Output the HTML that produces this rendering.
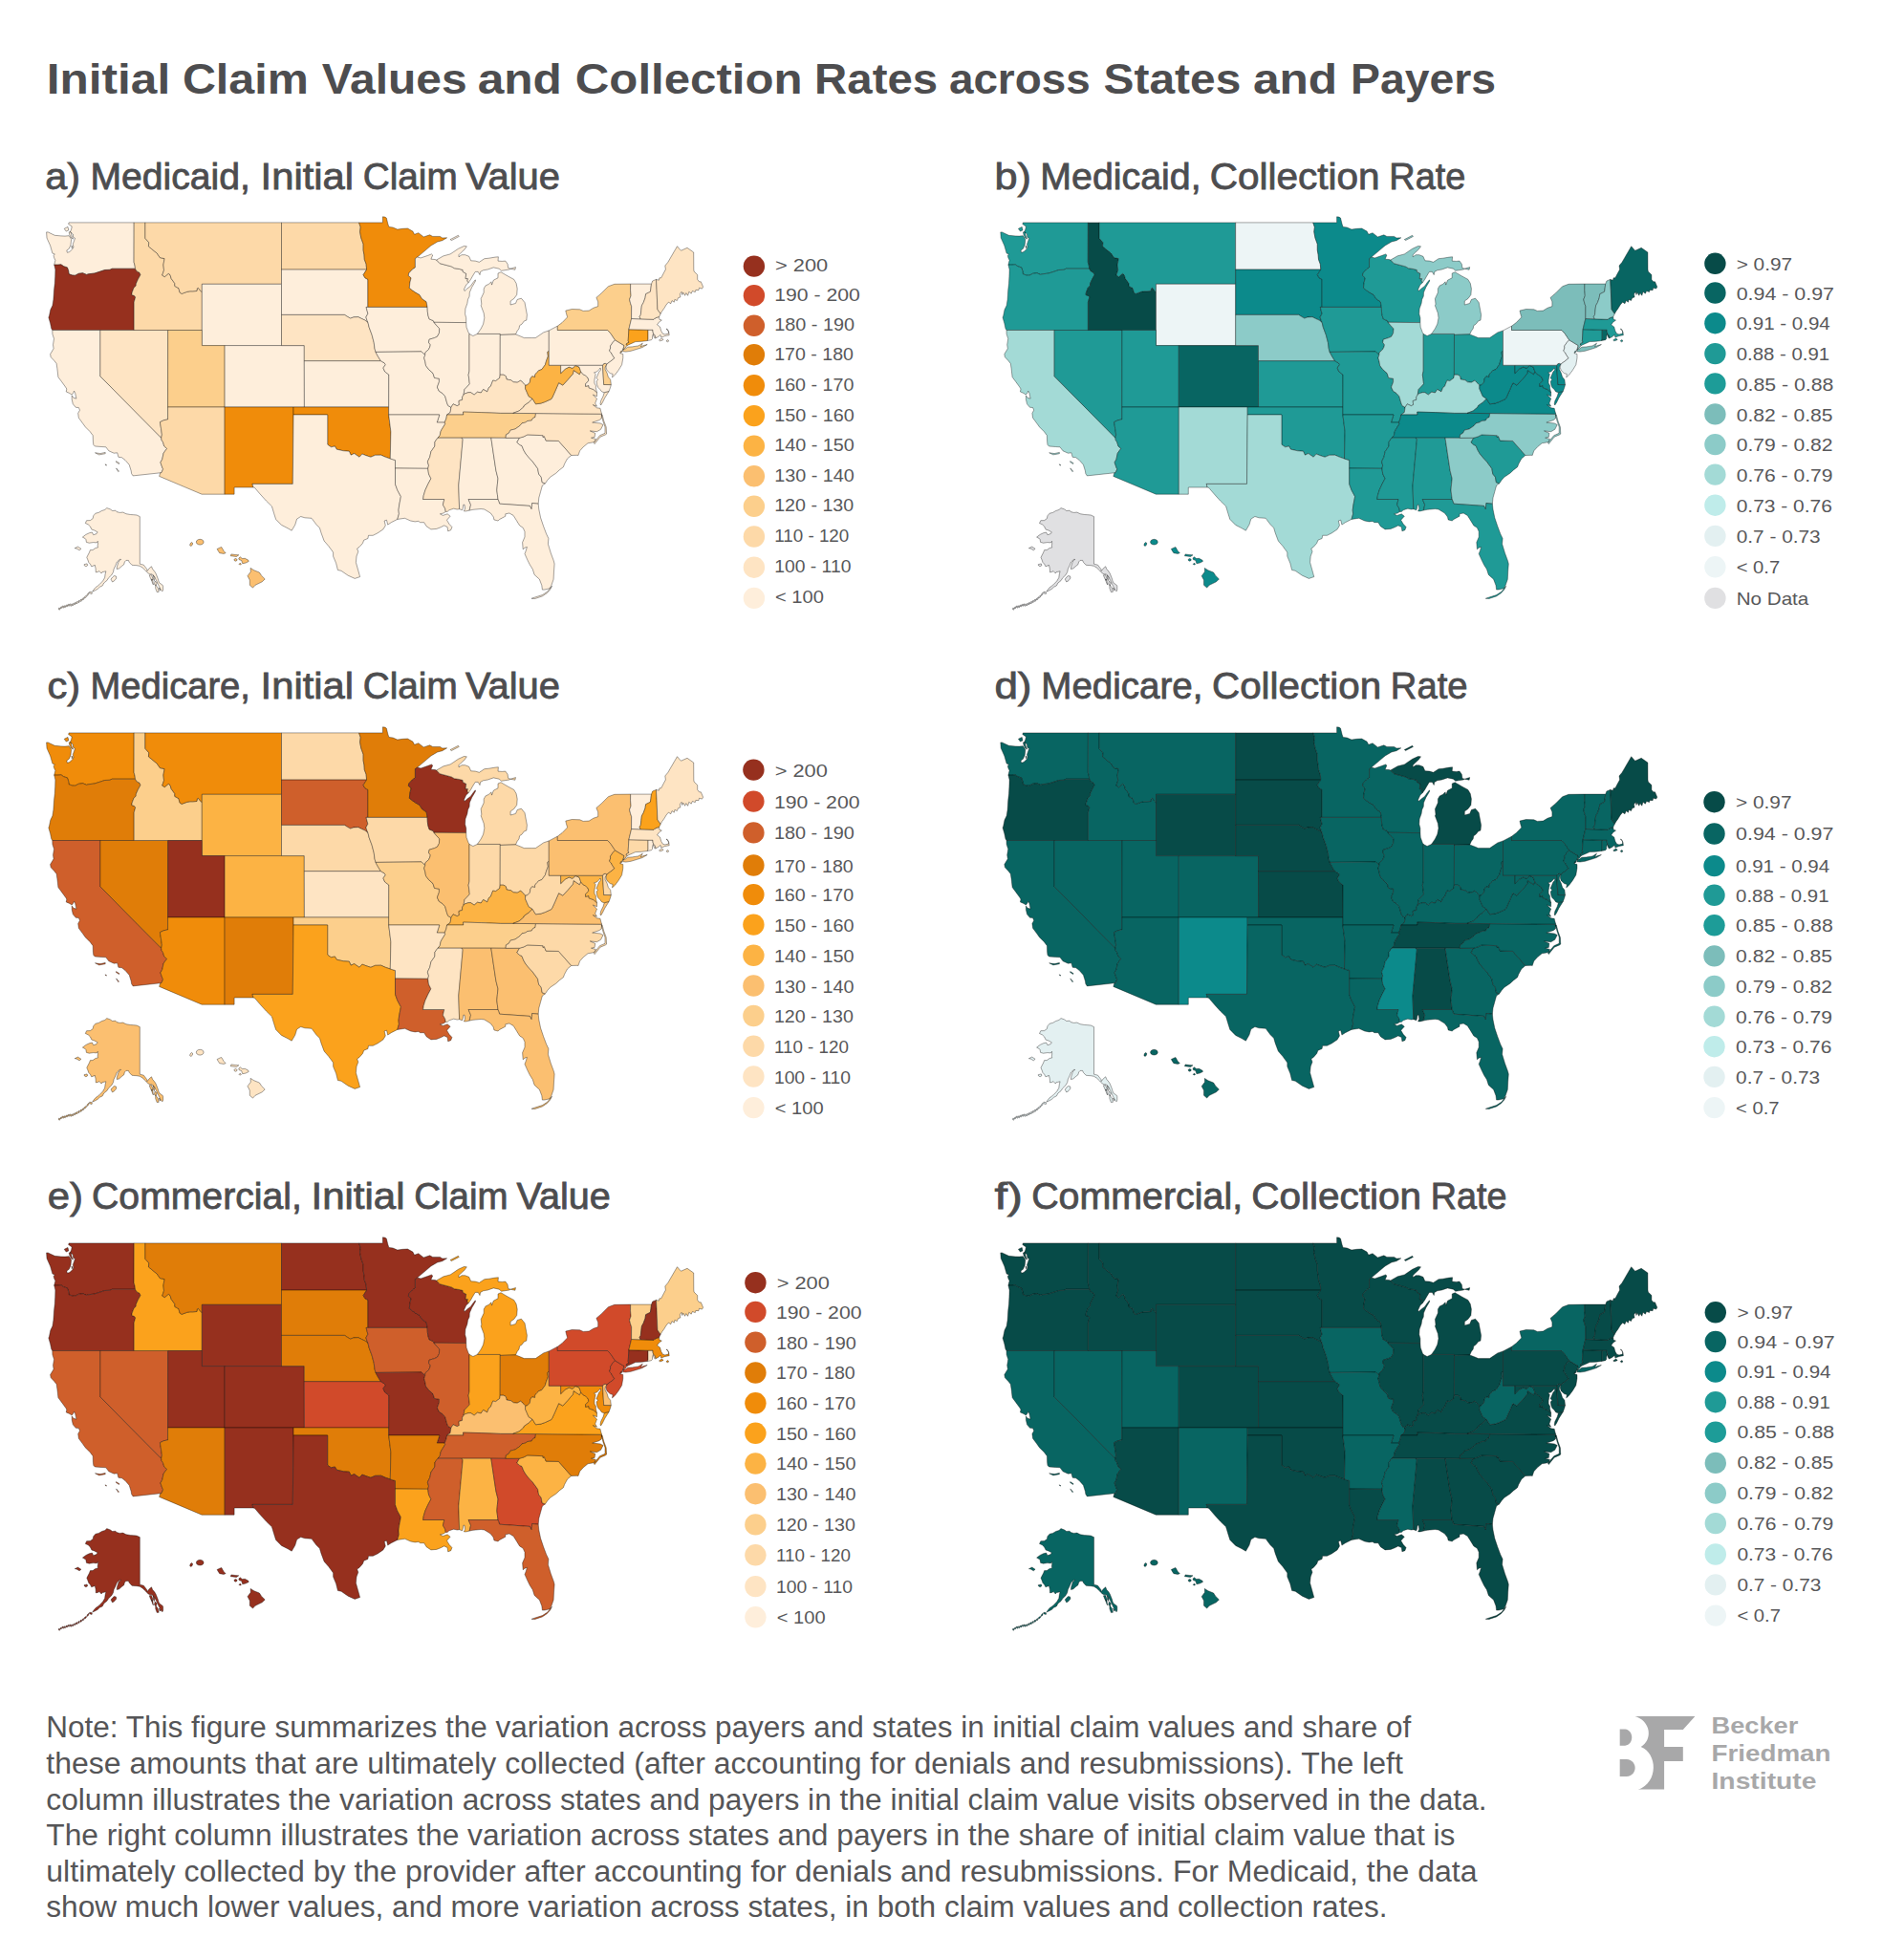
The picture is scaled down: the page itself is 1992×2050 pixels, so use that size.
<!DOCTYPE html>
<html lang="en"><head><meta charset="utf-8"><title>Initial Claim Values and Collection Rates across States and Payers</title>
<style>html,body{margin:0;padding:0;background:#fff}svg{display:block}</style></head>
<body>
<svg width="1992" height="2050" viewBox="0 0 1992 2050" font-family="'Liberation Sans', sans-serif">
<rect width="1992" height="2050" fill="#ffffff"/>
<text y="98" font-size="44.7" font-weight="bold" fill="#4d4d4f"><tspan x="48.8" textLength="129.4" lengthAdjust="spacingAndGlyphs">Initial</tspan> <tspan x="190.9" textLength="131.9" lengthAdjust="spacingAndGlyphs">Claim</tspan> <tspan x="336.7" textLength="152.0" lengthAdjust="spacingAndGlyphs">Values</tspan> <tspan x="499.7" textLength="88.2" lengthAdjust="spacingAndGlyphs">and</tspan> <tspan x="601.8" textLength="237.8" lengthAdjust="spacingAndGlyphs">Collection</tspan> <tspan x="852.1" textLength="129.0" lengthAdjust="spacingAndGlyphs">Rates</tspan> <tspan x="992.9" textLength="147.8" lengthAdjust="spacingAndGlyphs">across</tspan> <tspan x="1154.6" textLength="143.7" lengthAdjust="spacingAndGlyphs">States</tspan> <tspan x="1310.9" textLength="88.2" lengthAdjust="spacingAndGlyphs">and</tspan> <tspan x="1413.0" textLength="152.1" lengthAdjust="spacingAndGlyphs">Payers</tspan></text>
<text y="197.6" font-size="38.2" fill="#4d4d4f" stroke="#4d4d4f" stroke-width="0.8"><tspan x="47.3" textLength="36.8" lengthAdjust="spacingAndGlyphs">a)</tspan> <tspan x="94.5" textLength="167.4" lengthAdjust="spacingAndGlyphs">Medicaid,</tspan> <tspan x="272.6" textLength="97.4" lengthAdjust="spacingAndGlyphs">Initial</tspan> <tspan x="379.8" textLength="98.9" lengthAdjust="spacingAndGlyphs">Claim</tspan> <tspan x="486.9" textLength="99.0" lengthAdjust="spacingAndGlyphs">Value</tspan></text>
<text y="197.6" font-size="38.2" fill="#4d4d4f" stroke="#4d4d4f" stroke-width="0.8"><tspan x="1040.4" textLength="38.4" lengthAdjust="spacingAndGlyphs">b)</tspan> <tspan x="1088.3" textLength="168.3" lengthAdjust="spacingAndGlyphs">Medicaid,</tspan> <tspan x="1265.7" textLength="177.8" lengthAdjust="spacingAndGlyphs">Collection</tspan> <tspan x="1453.3" textLength="80.0" lengthAdjust="spacingAndGlyphs">Rate</tspan></text>
<text y="731.4" font-size="38.2" fill="#4d4d4f" stroke="#4d4d4f" stroke-width="0.8"><tspan x="49.5" textLength="34.6" lengthAdjust="spacingAndGlyphs">c)</tspan> <tspan x="94.5" textLength="167.4" lengthAdjust="spacingAndGlyphs">Medicare,</tspan> <tspan x="272.6" textLength="97.4" lengthAdjust="spacingAndGlyphs">Initial</tspan> <tspan x="379.8" textLength="98.9" lengthAdjust="spacingAndGlyphs">Claim</tspan> <tspan x="486.9" textLength="99.0" lengthAdjust="spacingAndGlyphs">Value</tspan></text>
<text y="731.4" font-size="38.2" fill="#4d4d4f" stroke="#4d4d4f" stroke-width="0.8"><tspan x="1040.4" textLength="39.1" lengthAdjust="spacingAndGlyphs">d)</tspan> <tspan x="1089.3" textLength="169.2" lengthAdjust="spacingAndGlyphs">Medicare,</tspan> <tspan x="1268.0" textLength="177.1" lengthAdjust="spacingAndGlyphs">Collection</tspan> <tspan x="1454.8" textLength="80.7" lengthAdjust="spacingAndGlyphs">Rate</tspan></text>
<text y="1265.2" font-size="38.2" fill="#4d4d4f" stroke="#4d4d4f" stroke-width="0.8"><tspan x="49.8" textLength="37.2" lengthAdjust="spacingAndGlyphs">e)</tspan> <tspan x="96.1" textLength="219.7" lengthAdjust="spacingAndGlyphs">Commercial,</tspan> <tspan x="325.5" textLength="98.0" lengthAdjust="spacingAndGlyphs">Initial</tspan> <tspan x="433.3" textLength="98.3" lengthAdjust="spacingAndGlyphs">Claim</tspan> <tspan x="540.5" textLength="98.3" lengthAdjust="spacingAndGlyphs">Value</tspan></text>
<text y="1265.2" font-size="38.2" fill="#4d4d4f" stroke="#4d4d4f" stroke-width="0.8"><tspan x="1040.4" textLength="29.6" lengthAdjust="spacingAndGlyphs">f)</tspan> <tspan x="1079.2" textLength="220.9" lengthAdjust="spacingAndGlyphs">Commercial,</tspan> <tspan x="1309.2" textLength="177.8" lengthAdjust="spacingAndGlyphs">Collection</tspan> <tspan x="1496.8" textLength="79.7" lengthAdjust="spacingAndGlyphs">Rate</tspan></text>
<g transform="translate(0,0)" stroke="#000" stroke-opacity="0.75" stroke-width="0.48" stroke-linejoin="round">
<path d="M72.1,232.9L140.2,232.9L140.1,274.3L141.1,278.0L141.5,281.2L117.0,281.2L115.0,282.3L109.6,282.5L104.9,284.1L98.9,286.0L92.4,286.8L90.6,287.4L86.5,285.7L82.3,286.3L78.7,288.2L75.8,288.1L72.1,286.8L71.6,283.3L70.4,279.9L66.8,278.8L63.9,276.8L60.9,277.1L56.7,277.1L57.9,272.3L56.7,269.9L56.1,267.5L57.3,265.9L54.9,265.1L52.6,257.0L49.7,250.6L49.0,249.0L48.6,242.9L50.2,242.9L57.3,246.3L63.9,246.9L68.0,247.1L72.2,246.7L74.6,250.3L74.0,256.2L72.2,260.3L69.8,261.9L70.4,264.3L72.8,263.5L75.8,260.7L76.9,258.6L76.3,255.4L78.5,249.3L76.6,248.2L76.3,245.0L73.4,242.6L74.6,240.1L75.2,236.9L71.6,234.5ZM72.2,242.9L74.0,242.6L75.2,247.4L76.6,250.1L74.6,249.0L72.8,245.8ZM67.2,239.3L71.0,237.4L71.8,240.9L69.2,242.1ZM74.9,257.0L76.0,258.3L75.2,259.8Z" fill="#feeedb"/>
<path d="M56.7,277.1L60.9,277.1L63.9,276.8L66.8,278.8L70.4,279.9L71.6,283.3L72.1,286.8L75.8,288.1L78.7,288.2L82.3,286.3L86.5,285.7L90.6,287.4L92.4,286.8L98.9,286.0L104.9,284.1L109.6,282.5L115.0,282.3L117.0,281.2L141.5,281.2L143.2,283.9L145.9,285.2L147.0,287.6L144.5,292.1L142.3,296.9L142.3,298.9L140.0,301.3L138.2,306.1L137.8,308.5L140.6,309.6L141.7,310.9L140.2,316.1L140.2,345.5L104.9,345.5L54.8,345.5L53.8,343.9L52.6,338.3L50.8,332.0L51.4,331.0L52.8,324.1L54.9,319.8L55.9,313.4L56.5,303.7L57.3,296.5L57.7,289.2L57.9,282.0Z" fill="#96301e"/>
<path d="M54.8,345.5L104.9,345.5L104.9,393.8L168.7,458.2L169.1,460.6L170.5,462.7L171.8,467.0L174.6,469.4L172.8,471.8L171.1,474.2L169.7,480.7L167.9,483.9L170.0,489.9L170.6,490.8L168.9,494.7L167.7,494.8L139.1,497.9L137.6,495.6L137.2,492.8L135.2,486.3L131.0,481.5L127.5,478.8L123.9,478.3L122.7,473.8L119.2,474.2L113.8,471.8L110.8,467.8L106.1,467.5L99.3,467.0L97.8,465.4L97.4,462.2L97.2,455.7L94.2,451.7L89.4,446.9L85.9,442.1L82.3,437.2L81.7,432.4L83.5,429.2L82.3,426.5L79.3,426.3L76.3,422.8L75.2,417.9L75.2,413.9L76.9,416.3L79.9,417.1L78.7,411.5L77.5,409.1L76.9,410.7L75.2,413.1L72.8,411.5L69.2,409.9L69.8,407.0L68.6,405.1L64.5,399.4L60.9,394.6L59.9,385.8L59.1,380.4L56.7,377.4L53.2,373.7L52.6,370.6L56.1,364.8L55.5,360.8L56.5,354.4L54.9,349.6ZM99.5,473.8L104.9,474.6L110.2,473.4L110.2,474.7L103.7,475.9ZM121.5,482.6L124.9,484.7L124.5,485.5L121.5,483.6ZM121.5,489.9L124.5,493.2L123.7,493.6ZM110.0,485.8L111.7,486.8L110.8,487.1Z" fill="#feeedb"/>
<path d="M104.9,345.5L140.2,345.5L175.7,345.5L175.6,426.0L175.6,438.9L171.5,439.7L167.4,441.7L168.5,448.5L169.4,454.9L168.7,458.2L104.9,393.8Z" fill="#fee4c3"/>
<path d="M140.2,232.9L151.9,232.9L151.9,249.3L155.8,253.8L155.4,257.8L158.4,260.3L164.3,265.1L167.3,269.6L172.1,270.6L170.9,277.1L171.5,282.8L169.7,288.1L172.3,289.7L176.2,286.3L178.0,287.6L179.2,291.6L182.8,296.5L182.8,299.4L186.9,301.6L188.1,306.1L190.1,307.4L195.8,305.3L198.8,304.8L201.8,304.8L205.9,304.5L206.3,301.8L207.4,301.3L209.5,304.0L211.3,305.8L211.3,345.5L175.7,345.5L140.2,345.5L140.2,316.1L141.7,310.9L140.6,309.6L137.8,308.5L138.2,306.1L140.0,301.3L142.3,298.9L142.3,296.9L144.5,292.1L147.0,287.6L145.9,285.2L143.2,283.9L141.5,281.2L141.1,278.0L140.1,274.3Z" fill="#fdd9a8"/>
<path d="M151.9,232.9L294.5,232.9L294.5,282.1L294.5,297.3L211.3,297.3L211.3,305.8L209.5,304.0L207.4,301.3L206.3,301.8L205.9,304.5L201.8,304.8L198.8,304.8L195.8,305.3L190.1,307.4L188.1,306.1L186.9,301.6L182.8,299.4L182.8,296.5L179.2,291.6L178.0,287.6L176.2,286.3L172.3,289.7L169.7,288.1L171.5,282.8L170.9,277.1L172.1,270.6L167.3,269.6L164.3,265.1L158.4,260.3L155.4,257.8L155.8,253.8L151.9,249.3Z" fill="#fdd9a8"/>
<path d="M211.3,305.8L211.3,297.3L294.5,297.3L294.5,329.4L294.5,361.6L235.1,361.6L211.3,361.6L211.3,345.5Z" fill="#feeedb"/>
<path d="M175.7,345.5L211.3,345.5L211.3,361.6L235.1,361.6L235.1,426.0L175.6,426.0Z" fill="#fccf8c"/>
<path d="M175.6,426.0L235.1,426.0L235.1,517.2L211.1,517.2L166.6,498.4L167.7,494.8L168.9,494.7L170.6,490.8L170.0,489.9L167.9,483.9L169.7,480.7L171.1,474.2L172.8,471.8L174.6,469.4L171.8,467.0L170.5,462.7L169.1,460.6L168.7,458.2L169.4,454.9L168.5,448.5L167.4,441.7L171.5,439.7L175.6,438.9Z" fill="#fdd9a8"/>
<path d="M235.1,361.6L294.5,361.6L318.3,361.6L318.3,377.7L318.4,426.0L307.0,426.0L235.1,426.0Z" fill="#feeedb"/>
<path d="M235.1,426.0L307.0,426.0L307.0,434.0L306.3,506.4L264.0,506.4L265.0,510.0L245.1,510.0L245.1,517.2L235.1,517.2Z" fill="#f08c0a"/>
<path d="M294.5,232.9L375.6,232.9L377.2,237.7L376.6,242.6L377.8,249.0L380.1,255.4L380.1,261.9L381.0,266.7L381.3,271.5L383.1,276.3L383.6,282.1L294.5,282.1Z" fill="#fdd9a8"/>
<path d="M294.5,282.1L383.6,282.1L380.1,287.6L381.9,290.8L384.9,292.4L384.9,321.4L383.1,321.4L383.9,324.6L384.9,328.2L382.9,331.9L383.9,335.1L385.0,337.6L381.9,335.1L378.4,333.5L374.8,331.7L370.0,331.9L366.5,333.1L362.9,331.0L360.5,329.4L294.5,329.4L294.5,297.3Z" fill="#feeedb"/>
<path d="M294.5,329.4L360.5,329.4L362.9,331.0L366.5,333.1L370.0,331.9L374.8,331.7L378.4,333.5L381.9,335.1L385.0,337.6L386.1,342.3L389.1,350.4L391.2,358.4L392.0,364.8L393.0,368.4L395.6,373.2L398.4,377.7L318.3,377.7L318.3,361.6L294.5,361.6Z" fill="#fee4c3"/>
<path d="M318.3,377.7L398.4,377.7L402.1,379.8L403.3,381.7L400.9,385.0L402.7,389.0L406.8,392.0L406.7,426.0L318.4,426.0Z" fill="#feeedb"/>
<path d="M318.4,426.0L406.7,426.0L406.7,434.0L408.9,451.7L408.3,480.0L403.3,478.3L398.6,476.2L392.6,476.3L387.9,478.3L383.1,476.7L378.9,475.1L376.0,478.3L370.6,474.6L367.1,476.2L365.3,472.2L359.3,471.8L352.2,470.2L350.4,467.0L346.3,467.8L342.7,465.2L342.7,434.0L307.0,434.0L307.0,426.0Z" fill="#f08c0a"/>
<path d="M307.0,434.0L342.7,434.0L342.7,465.2L346.3,467.8L350.4,467.0L352.2,470.2L359.3,471.8L365.3,472.2L367.1,476.2L370.6,474.6L376.0,478.3L378.9,475.1L383.1,476.7L387.9,478.3L392.6,476.3L398.6,476.2L403.3,478.3L408.3,480.0L413.5,481.5L413.5,490.0L413.5,506.6L415.8,512.9L419.4,519.6L417.6,529.0L417.0,533.8L417.4,537.8L415.8,543.4L409.3,546.7L405.7,549.1L404.5,544.2L402.1,545.0L403.3,549.9L400.9,553.9L395.0,557.9L390.2,560.3L385.5,560.3L384.9,563.5L380.7,565.2L379.5,568.4L376.0,572.4L373.6,574.0L374.8,577.2L373.0,582.1L372.4,588.5L374.2,594.9L376.0,601.4L376.6,603.6L371.2,605.4L364.1,602.2L357.0,597.3L353.4,596.5L351.6,589.3L348.6,582.1L348.6,578.0L343.9,571.6L339.1,566.0L336.1,557.9L334.4,552.3L330.8,548.7L326.0,542.3L318.9,541.8L314.7,540.5L310.6,543.1L308.8,549.1L305.2,555.2L301.1,552.8L294.5,549.4L288.6,543.4L286.8,537.8L284.4,529.8L278.5,524.1L271.3,516.1L266.6,510.5L265.0,510.0L264.0,506.4L306.3,506.4Z" fill="#feeedb"/>
<path d="M375.6,232.9L400.4,232.9L400.4,226.8L402.7,227.1L404.3,228.1L405.9,234.5L406.9,237.4L411.1,238.0L415.8,240.1L421.2,239.3L426.5,239.0L431.9,242.1L433.6,245.3L437.8,243.7L443.2,247.9L449.7,245.8L452.7,247.4L460.4,247.4L462.8,249.0L467.6,248.8L462.8,251.7L457.7,253.0L450.9,257.0L446.1,261.1L441.4,265.1L436.6,269.1L434.4,270.6L434.4,279.9L431.3,282.0L427.7,286.0L427.3,288.4L430.1,290.8L428.9,295.7L428.3,301.3L431.3,303.7L434.8,306.1L439.0,308.5L441.4,312.5L446.1,315.8L446.7,319.0L447.1,321.4L384.9,321.4L384.9,292.4L381.9,290.8L380.1,287.6L383.6,282.1L383.1,276.3L381.3,271.5L381.0,266.7L380.1,261.9L380.1,255.4L377.8,249.0L376.6,242.6L377.2,237.7Z" fill="#f08c0a"/>
<path d="M384.9,321.4L447.1,321.4L447.3,326.2L447.9,330.2L449.1,333.9L453.3,335.6L454.0,337.3L456.8,340.7L459.8,343.9L459.4,348.7L457.4,352.3L454.5,353.6L449.1,355.2L448.5,358.4L450.3,360.8L449.7,363.2L448.5,365.6L444.9,368.9L444.7,371.6L441.0,367.9L393.0,368.4L392.0,364.8L391.2,358.4L389.1,350.4L386.1,342.3L385.0,337.6L383.9,335.1L382.9,331.9L384.9,328.2L383.9,324.6L383.1,321.4Z" fill="#feeedb"/>
<path d="M393.0,368.4L441.0,367.9L444.7,371.6L443.7,374.5L444.9,378.8L445.5,382.5L448.5,386.6L453.0,390.6L454.5,395.4L459.4,396.2L459.4,399.8L457.4,405.1L459.2,409.1L462.8,411.5L465.7,414.7L467.5,421.2L468.7,424.4L471.9,426.3L471.1,431.6L467.6,434.0L466.9,438.0L465.2,442.1L457.2,442.1L459.8,434.0L406.7,434.0L406.7,426.0L406.8,392.0L402.7,389.0L400.9,385.0L403.3,381.7L402.1,379.8L398.4,377.7L395.6,373.2Z" fill="#feeedb"/>
<path d="M406.7,434.0L459.8,434.0L457.2,442.1L465.2,442.1L465.7,443.7L462.2,449.3L461.0,451.7L460.2,455.7L458.0,458.2L455.0,462.2L454.8,467.0L450.9,472.6L449.7,478.3L447.3,483.1L448.5,487.1L447.7,490.3L413.5,490.0L413.5,481.5L408.3,480.0L408.9,451.7Z" fill="#feeedb"/>
<path d="M413.5,490.0L447.7,490.3L448.5,496.0L450.9,500.8L447.9,506.4L444.9,512.9L443.2,518.5L442.6,522.5L464.8,522.5L463.4,528.2L465.7,532.2L466.3,535.4L464.0,537.0L460.4,537.8L463.4,539.4L468.1,537.8L471.1,540.2L467.5,544.2L469.9,548.3L472.9,551.5L471.7,554.7L468.7,555.8L468.1,551.5L464.6,549.9L461.6,551.5L461.0,551.8L456.8,553.4L450.9,553.9L446.1,550.7L443.7,546.7L439.6,546.7L437.8,545.4L434.2,545.9L429.5,545.0L423.5,542.3L415.8,543.4L417.4,537.8L417.0,533.8L417.6,529.0L419.4,519.6L415.8,512.9L413.5,506.6Z" fill="#feeedb"/>
<path d="M436.6,269.1L440.2,269.9L447.3,267.5L451.5,265.9L452.7,267.0L450.9,271.2L455.0,271.5L456.6,272.0L460.2,275.7L472.3,278.9L475.3,280.7L480.6,281.5L484.2,282.5L484.2,284.4L487.7,286.3L487.1,291.6L489.5,291.6L488.9,294.0L490.1,295.7L487.7,298.1L485.4,302.9L486.0,304.5L488.3,302.4L492.5,299.2L494.9,295.7L497.3,292.8L497.5,294.0L496.1,296.5L493.7,300.5L491.3,306.1L491.1,310.1L489.5,313.4L488.9,317.4L486.9,323.0L486.6,328.6L487.7,332.7L487.7,337.6L454.0,337.3L453.3,335.6L449.1,333.9L447.9,330.2L447.3,326.2L447.1,321.4L446.7,319.0L446.1,315.8L441.4,312.5L439.0,308.5L434.8,306.1L431.3,303.7L428.3,301.3L428.9,295.7L430.1,290.8L427.3,288.4L427.7,286.0L431.3,282.0L434.4,279.9L434.4,270.6Z" fill="#feeedb"/>
<path d="M454.0,337.3L487.7,337.6L488.0,342.3L490.1,347.9L491.0,349.4L491.0,388.2L490.1,392.2L490.7,396.2L491.3,401.8L488.3,405.1L486.0,407.5L485.0,413.1L483.6,415.5L483.6,418.4L480.0,419.5L480.4,423.6L478.2,424.7L474.1,422.8L471.9,426.3L468.7,424.4L467.5,421.2L465.7,414.7L462.8,411.5L459.2,409.1L457.4,405.1L459.4,399.8L459.4,396.2L454.5,395.4L453.0,390.6L448.5,386.6L445.5,382.5L444.9,378.8L443.7,374.5L444.7,371.6L444.9,368.9L448.5,365.6L449.7,363.2L450.3,360.8L448.5,358.4L449.1,355.2L454.5,353.6L457.4,352.3L459.4,348.7L459.8,343.9L456.8,340.7Z" fill="#feeedb"/>
<path d="M491.0,349.4L494.9,351.5L499.4,349.4L523.3,349.4L523.3,350.4L523.2,392.2L522.8,395.4L518.7,398.6L515.7,398.1L513.3,404.3L511.5,405.5L509.7,409.9L505.6,407.5L503.2,411.0L499.6,410.2L496.1,413.1L492.5,410.7L490.1,410.7L486.6,411.8L485.0,413.1L486.0,407.5L488.3,405.1L491.3,401.8L490.7,396.2L490.1,392.2L491.0,388.2Z" fill="#feeedb"/>
<path d="M539.5,349.9L541.2,346.3L543.0,343.9L543.6,340.7L546.0,339.1L548.4,335.9L550.8,335.1L551.4,329.4L550.2,323.0L549.0,316.6L545.4,312.2L541.2,313.4L539.5,317.4L534.1,319.0L534.1,315.0L537.7,312.5L540.7,308.5L541.2,302.1L540.1,296.5L537.7,292.4L531.7,289.2L524.0,284.7L521.0,286.0L521.0,290.8L516.3,293.2L514.5,298.1L513.9,294.8L511.5,297.3L508.0,298.9L506.2,302.1L506.2,306.1L503.2,312.5L503.8,318.2L503.2,319.8L506.2,327.8L506.8,332.7L505.6,339.1L503.2,343.9L499.4,349.4L523.3,349.4L523.3,350.4ZM456.6,272.0L464.0,267.8L471.1,265.9L474.7,263.5L479.4,260.3L485.4,257.5L488.3,257.8L486.0,261.1L482.4,264.3L480.0,266.7L480.0,268.8L483.0,266.7L486.6,266.7L490.7,268.3L492.7,272.8L497.3,273.1L501.4,274.3L506.8,270.7L511.5,270.2L518.1,269.1L521.4,268.8L521.0,273.1L525.2,273.4L528.8,273.1L531.1,276.3L531.7,280.4L534.1,281.2L532.9,282.0L524.6,283.3L522.2,281.2L516.3,279.9L510.3,282.0L505.6,282.8L502.6,284.4L502.0,287.6L500.2,284.4L497.3,284.4L496.4,285.7L494.3,289.2L492.5,292.4L490.1,295.7L488.9,294.0L489.5,291.6L487.1,291.6L487.7,286.3L484.2,284.4L484.2,282.5L480.6,281.5L475.3,280.7L472.3,278.9L460.2,275.7ZM471.1,250.6L479.4,246.3L480.3,247.4L472.3,251.6ZM534.1,281.2L539.5,279.6L538.9,282.3Z" fill="#feeedb"/>
<path d="M539.5,349.9L544.8,352.0L548.4,353.6L556.7,353.6L560.3,353.6L568.6,347.9L574.3,345.9L574.3,367.4L572.8,368.4L573.4,372.9L571.8,376.9L570.4,381.7L566.8,386.6L563.8,387.7L561.9,389.5L559.7,392.2L559.6,394.6L556.7,393.8L554.9,396.2L554.3,400.2L551.4,403.1L549.7,403.1L546.6,400.2L544.8,398.1L541.2,400.2L537.1,399.8L534.7,397.8L530.0,397.0L529.4,393.8L527.0,392.2L523.2,392.2L523.3,350.4Z" fill="#feeedb"/>
<path d="M523.2,392.2L527.0,392.2L529.4,393.8L530.0,397.0L534.7,397.8L537.1,399.8L541.2,400.2L544.8,398.1L546.6,400.2L549.7,403.1L549.6,406.7L551.4,410.7L553.1,414.7L557.1,417.3L553.1,421.2L548.4,424.4L547.8,426.0L543.0,430.0L536.7,432.4L523.4,432.4L503.2,431.6L484.5,431.1L484.8,434.0L467.6,434.0L471.1,431.6L471.9,426.3L474.1,422.8L478.2,424.7L480.4,423.6L480.0,419.5L483.6,418.4L483.6,415.5L485.0,413.1L486.6,411.8L490.1,410.7L492.5,410.7L496.1,413.1L499.6,410.2L503.2,411.0L505.6,407.5L509.7,409.9L511.5,405.5L513.3,404.3L515.7,398.1L518.7,398.6L522.8,395.4Z" fill="#fee4c3"/>
<path d="M467.6,434.0L484.8,434.0L484.5,431.1L503.2,431.6L523.4,432.4L536.7,432.4L560.5,432.6L560.0,436.4L557.5,437.7L556.1,440.1L551.9,440.5L549.6,442.1L546.0,442.9L543.6,445.8L538.9,449.0L534.1,450.1L532.3,453.3L529.4,454.9L529.1,458.3L513.8,458.2L483.0,458.2L458.0,458.2L460.2,455.7L461.0,451.7L462.2,449.3L465.7,443.7L465.2,442.1L466.9,438.0Z" fill="#fccf8c"/>
<path d="M458.0,458.2L483.0,458.2L484.2,459.8L479.8,508.0L480.6,532.7L478.2,533.0L474.7,532.2L469.9,533.8L468.1,535.4L466.3,535.4L465.7,532.2L463.4,528.2L464.8,522.5L442.6,522.5L443.2,518.5L444.9,512.9L447.9,506.4L450.9,500.8L448.5,496.0L447.7,490.3L448.5,487.1L447.3,483.1L449.7,478.3L450.9,472.6L454.8,467.0L455.0,462.2Z" fill="#fee4c3"/>
<path d="M483.0,458.2L513.8,458.2L516.3,475.1L518.9,492.4L521.0,500.8L520.4,506.4L519.8,512.9L520.4,517.7L521.0,522.5L490.1,522.5L492.5,528.2L491.1,534.1L487.7,534.9L485.4,534.9L486.6,532.2L486.0,528.2L484.8,528.2L484.2,532.2L483.6,533.8L480.6,532.7L479.8,508.0L484.2,459.8Z" fill="#feeedb"/>
<path d="M513.8,458.2L529.1,458.3L543.5,458.2L540.8,463.0L543.6,465.4L546.0,466.5L547.8,471.0L550.2,475.1L554.3,479.9L557.3,483.1L562.6,490.3L563.6,496.0L566.2,499.2L567.2,504.8L570.4,505.9L567.4,508.0L565.6,514.5L563.8,520.9L563.2,527.2L556.7,526.5L556.1,532.8L554.3,529.4L522.7,527.2L521.0,522.5L520.4,517.7L519.8,512.9L520.4,506.4L521.0,500.8L518.9,492.4L516.3,475.1Z" fill="#feeedb"/>
<path d="M521.0,522.5L522.7,527.2L554.3,529.4L556.1,532.8L556.7,526.5L563.2,527.2L563.8,533.0L565.6,541.8L568.6,550.7L571.6,558.7L573.9,563.5L573.4,569.2L576.3,578.8L579.3,586.9L580.1,590.1L579.5,598.1L579.1,606.2L576.9,612.6L575.1,615.8L569.8,617.0L567.4,617.1L566.8,612.6L564.4,606.2L559.1,601.4L557.3,595.7L554.3,590.9L551.9,586.1L549.0,579.6L550.2,576.4L551.4,572.4L549.0,573.2L547.2,574.8L546.6,567.6L549.0,561.9L549.0,556.3L547.2,552.3L543.6,549.9L540.1,544.2L537.1,539.4L532.9,537.0L528.8,537.8L528.8,540.2L522.8,543.4L521.0,545.0L516.9,543.9L516.3,541.0L513.3,537.0L506.8,533.0L503.2,532.5L494.9,533.3L491.1,534.1L492.5,528.2L490.1,522.5ZM577.5,613.4L575.5,617.1L572.2,620.7L567.4,623.9L559.7,626.5L556.1,626.3L559.1,625.2L567.4,622.6L572.8,619.1L576.3,614.6Z" fill="#feeedb"/>
<path d="M543.5,458.2L547.8,457.0L551.9,454.9L568.1,455.7L568.1,457.5L569.4,456.6L571.2,461.1L584.4,461.4L597.7,476.5L593.6,479.9L590.6,485.5L589.4,488.7L585.2,491.9L581.7,495.2L575.7,499.2L572.8,502.4L570.4,505.9L567.2,504.8L566.2,499.2L563.6,496.0L562.6,490.3L557.3,483.1L554.3,479.9L550.2,475.1L547.8,471.0L546.0,466.5L543.6,465.4L540.8,463.0Z" fill="#feeedb"/>
<path d="M529.1,458.3L529.4,454.9L532.3,453.3L534.1,450.1L538.9,449.0L543.6,445.8L546.0,442.9L549.6,442.1L551.9,440.5L556.1,440.1L557.5,437.7L560.0,436.4L560.5,432.6L629.6,433.2L629.2,438.0L626.9,439.7L619.7,442.1L628.0,442.9L631.0,444.5L628.6,449.3L624.5,451.7L617.3,450.9L622.7,453.3L622.1,457.4L618.5,458.2L623.3,459.4L622.1,462.2L619.7,463.0L615.0,463.8L610.2,467.8L606.6,471.8L604.9,476.7L604.3,476.3L597.7,476.5L584.4,461.4L571.2,461.1L569.4,456.6L568.1,457.5L568.1,455.7L551.9,454.9L547.8,457.0L543.5,458.2ZM630.1,434.0L631.8,440.5L634.2,446.9L634.6,454.1L633.4,454.9L628.0,457.2L622.1,464.6L621.3,463.3L627.5,455.7L633.0,453.3L633.0,446.9L630.8,440.5L629.2,434.0Z" fill="#fee4c3"/>
<path d="M557.1,417.3L560.5,422.8L565.9,422.1L570.4,420.5L576.9,417.5L577.9,415.8L581.0,408.9L584.6,400.6L588.8,403.1L593.9,397.5L599.5,391.1L600.1,387.5L606.3,391.7L607.6,388.7L610.2,391.9L612.6,393.0L614.7,394.9L615.7,397.0L615.6,398.6L612.6,401.8L612.6,404.3L615.9,403.5L616.2,405.9L620.9,407.5L624.5,410.7L624.5,414.7L620.3,413.1L624.5,417.1L622.7,422.0L624.5,425.2L620.3,423.6L624.5,426.8L628.0,427.3L628.6,430.0L629.6,433.2L560.5,432.6L536.7,432.4L543.0,430.0L547.8,426.0L548.4,424.4L553.1,421.2ZM632.2,410.7L631.0,414.7L628.6,419.5L628.0,422.8L628.6,424.0L630.4,421.2L632.8,416.3L635.8,411.5L637.1,409.4Z" fill="#fee4c3"/>
<path d="M549.7,403.1L551.4,403.1L554.3,400.2L554.9,396.2L556.7,393.8L559.6,394.6L559.7,392.2L561.9,389.5L563.8,387.7L566.8,386.6L570.4,381.7L571.8,376.9L573.4,372.9L572.8,368.4L574.3,367.4L574.3,382.2L586.7,382.2L586.7,390.6L591.2,386.2L595.3,384.1L598.9,385.3L602.1,382.5L606.0,384.1L607.6,388.7L606.3,391.7L600.1,387.5L599.5,391.1L593.9,397.5L588.8,403.1L584.6,400.6L581.0,408.9L577.9,415.8L576.9,417.5L570.4,420.5L565.9,422.1L560.5,422.8L557.1,417.3L553.1,414.7L551.4,410.7L549.6,406.7Z" fill="#fcb344"/>
<path d="M586.7,382.2L630.5,382.2L631.7,402.5L639.3,402.6L638.7,405.1L637.1,409.4L632.2,410.7L629.6,409.9L627.8,407.5L625.7,405.4L624.5,402.2L624.1,398.9L625.7,397.3L623.9,395.7L625.1,393.0L626.6,389.3L628.6,387.0L628.0,385.0L626.9,386.6L624.5,389.0L621.5,389.8L623.1,391.4L622.5,394.6L621.9,397.8L621.9,401.0L623.5,403.8L623.3,405.9L624.1,409.1L624.5,410.7L620.9,407.5L616.2,405.9L615.9,403.5L612.6,404.3L612.6,401.8L615.6,398.6L615.7,397.0L614.7,394.9L612.6,393.0L610.2,391.9L607.6,388.7L606.0,384.1L602.1,382.5L598.9,385.3L595.3,384.1L591.2,386.2L586.7,390.6Z" fill="#feeedb"/>
<path d="M630.5,382.2L631.6,380.6L633.4,380.3L634.9,380.9L633.2,384.1L633.2,386.6L635.2,390.6L636.4,394.6L638.7,397.3L639.3,402.6L631.7,402.5Z" fill="#fccf8c"/>
<path d="M574.3,345.9L583.3,341.2L583.3,345.5L635.7,345.5L639.1,349.2L643.5,355.8L641.1,358.4L638.5,362.1L638.7,364.0L637.6,367.3L639.3,368.9L640.5,371.3L642.9,374.8L638.7,378.2L634.9,380.9L633.4,380.3L631.6,380.6L630.5,382.2L586.7,382.2L574.3,382.2L574.3,367.4Z" fill="#feeedb"/>
<path d="M643.5,355.8L653.0,361.6L651.8,365.6L650.6,367.3L648.9,369.7L651.8,370.5L651.8,374.5L650.6,381.7L647.1,387.4L643.5,392.2L640.5,394.9L641.1,391.4L638.2,390.6L634.9,387.4L634.0,384.1L634.9,380.9L638.7,378.2L642.9,374.8L640.5,371.3L639.3,368.9L637.6,367.3L638.7,364.0L638.5,362.1L641.1,358.4Z" fill="#feeedb"/>
<path d="M583.3,341.2L588.2,337.5L593.6,331.9L592.4,327.8L591.8,325.1L598.3,323.5L606.6,323.8L610.2,325.4L616.2,325.1L620.9,322.2L625.7,320.6L625.7,315.8L623.9,311.4L629.2,306.9L636.4,299.7L642.9,297.3L659.7,297.1L659.6,303.7L660.1,309.3L658.6,313.4L659.6,317.4L660.7,320.6L660.6,333.5L657.9,344.7L657.5,351.2L657.2,356.8L658.0,358.2L655.0,360.0L655.9,361.6L654.2,364.0L652.7,364.8L651.6,366.4L652.4,364.0L653.0,361.6L643.5,355.8L639.1,349.2L635.7,345.5L583.3,345.5ZM651.5,367.7L654.8,368.1L660.1,367.3L666.7,365.3L672.0,363.6L677.2,360.5L673.2,361.6L670.3,362.9L672.3,359.2L667.9,361.9L661.3,362.9L656.6,363.2L654.6,364.8L652.4,365.6ZM648.9,369.3L651.0,368.1L650.6,367.3L649.4,367.6Z" fill="#fccf8c"/>
<path d="M657.9,344.7L678.0,345.2L678.0,354.9L677.4,356.5L671.4,357.3L664.9,357.6L661.3,359.2L655.9,361.6L655.0,360.0L658.0,358.2L657.2,356.8L657.5,351.2Z" fill="#fba21c"/>
<path d="M678.0,345.2L683.0,345.2L683.0,347.1L683.6,349.1L685.1,350.8L686.1,353.6L685.1,354.1L683.9,352.0L683.3,349.6L682.5,352.0L682.5,354.4L681.5,355.7L677.4,356.5L678.0,354.9Z" fill="#feeedb"/>
<path d="M670.1,333.8L683.9,334.3L684.5,333.6L686.9,332.3L689.6,331.5L689.9,334.3L692.3,335.1L689.3,337.2L687.5,339.9L690.5,342.0L691.7,346.3L693.4,349.2L695.8,349.9L699.4,349.1L699.4,347.1L698.4,345.0L697.0,344.2L698.2,344.4L699.7,347.1L700.2,350.7L695.8,351.5L691.7,353.1L691.1,350.4L688.1,352.8L686.1,353.6L685.1,350.8L683.6,349.1L683.0,347.1L683.0,345.2L678.0,345.2L657.9,344.7L660.6,333.5ZM689.5,356.0L692.3,354.1L694.0,355.2L693.4,356.0L690.5,356.8ZM697.0,356.8L698.8,355.5L699.7,357.1L698.2,357.8Z" fill="#feeedb"/>
<path d="M659.7,297.1L681.5,297.1L681.0,301.3L680.4,305.3L675.6,307.7L675.0,311.7L673.2,316.6L671.4,319.8L670.8,324.6L670.3,329.4L669.1,331.5L670.1,333.8L660.6,333.5L660.7,320.6L659.6,317.4L658.6,313.4L660.1,309.3L659.6,303.7Z" fill="#feeedb"/>
<path d="M681.5,297.1L682.7,294.0L686.5,292.4L687.1,303.7L687.9,323.8L689.6,326.2L691.1,328.3L689.6,331.5L686.9,332.3L684.5,333.6L683.9,334.3L670.1,333.8L669.1,331.5L670.3,329.4L670.8,324.6L671.4,319.8L673.2,316.6L675.0,311.7L675.6,307.7L680.4,305.3L681.0,301.3Z" fill="#fee4c3"/>
<path d="M686.5,292.4L689.3,293.2L689.9,290.8L691.7,290.8L694.6,285.2L696.4,282.0L695.8,278.0L698.8,274.4L708.5,257.7L710.7,260.3L712.5,262.2L719.0,259.3L725.7,264.0L725.8,282.0L726.1,284.1L729.7,287.6L729.7,292.4L731.5,294.8L733.3,294.8L735.6,300.2L734.5,302.1L731.5,301.3L730.9,303.7L727.9,303.4L727.3,305.6L724.4,304.5L723.2,307.2L720.8,305.3L719.6,309.3L717.8,306.6L716.6,309.3L714.8,306.1L713.7,308.5L713.1,305.3L711.3,307.7L711.9,310.9L709.5,311.7L708.3,314.6L705.9,313.4L705.3,316.2L703.0,314.6L701.8,317.7L699.4,316.2L697.0,319.0L695.8,321.1L694.6,323.0L692.8,325.4L691.1,328.3L689.6,326.2L687.9,323.8L687.1,303.7Z" fill="#fee4c3"/>
<path d="M146.3,540.6L143.0,539.0L139.7,538.7L136.4,538.5L131.9,537.7L128.6,536.1L125.3,536.4L122.0,535.6L120.9,534.2L117.6,534.5L115.4,532.9L111.8,531.6L109.8,533.4L106.5,534.5L103.2,536.4L99.9,537.2L97.7,539.8L97.2,542.5L94.4,544.6L90.6,544.7L89.3,547.5L92.2,548.8L94.4,550.9L95.9,554.1L98.6,554.9L102.1,556.8L101.0,558.6L97.7,559.7L96.4,557.0L93.3,557.8L89.9,559.4L86.4,562.1L89.3,563.7L89.9,564.5L90.4,567.4L93.3,568.2L97.7,567.6L101.2,567.9L102.3,566.3L102.5,569.0L102.1,571.1L102.5,572.9L99.9,573.5L97.0,575.6L94.4,575.6L93.5,578.0L91.9,581.1L90.8,583.3L91.9,585.9L92.8,588.6L94.4,590.2L95.7,592.8L98.8,591.7L99.2,591.2L100.1,594.9L100.3,598.9L102.5,598.4L103.9,597.6L106.1,600.0L107.2,598.4L108.1,598.4L110.9,597.8L110.1,600.8L109.6,604.5L107.6,607.9L104.3,611.4L102.5,612.9L99.9,614.8L97.7,617.5L96.8,619.0L99.2,618.0L102.1,616.4L104.3,614.3L107.2,612.9L108.7,610.0L111.8,607.6L113.6,604.7L116.7,601.8L118.5,598.6L119.1,595.5L120.9,591.7L122.4,588.0L125.3,585.4L126.6,585.4L124.4,587.0L123.8,588.6L122.4,593.1L122.2,595.5L124.6,594.9L127.3,592.5L129.7,590.7L130.4,588.0L131.9,586.4L134.4,586.4L135.2,588.3L137.9,591.2L139.7,591.5L143.0,591.7L146.3,592.3L149.0,593.9L152.3,597.0L155.1,600.0L156.9,600.8L158.9,600.8L161.3,602.9L162.9,606.1L164.9,610.3L166.4,613.5L168.4,617.2L169.9,618.8L170.6,617.2L170.6,613.5L170.2,612.4L166.6,609.8L165.7,607.4L165.3,605.8L163.1,600.2L161.8,598.1L159.6,595.5L158.5,592.8L156.2,594.7L154.0,597.6L153.8,595.7L150.3,591.2L148.5,590.7L146.3,590.2ZM156.2,601.8L158.5,601.6L159.8,605.5L158.9,607.6L157.4,605.0ZM158.2,606.1L159.8,606.6L160.4,611.9L159.6,610.3ZM160.2,601.8L161.8,604.5L161.5,607.6L160.4,606.1ZM162.0,608.2L164.2,609.8L163.3,612.4L161.5,611.4ZM162.7,611.9L165.1,615.1L166.2,619.3L164.2,619.6L162.7,615.6ZM166.4,615.1L168.0,617.2L167.1,618.0ZM121.3,602.9L121.8,605.0L119.8,607.6L117.6,609.0L116.0,606.1L117.8,603.9L119.3,602.6ZM78.2,573.7L81.5,572.1L84.9,574.3L83.1,575.8L80.0,574.0ZM88.0,590.7L91.1,589.9L91.7,591.7L89.9,592.8L88.2,591.7ZM96.4,619.7L93.7,619.2L93.6,620.8L96.1,621.5ZM92.9,620.3L91.2,621.8L91.1,623.5L92.7,622.2ZM90.4,623.2L88.4,624.6L88.3,626.2L90.2,625.0ZM87.6,625.6L86.3,626.2L86.2,627.8L87.4,627.5ZM85.5,627.2L84.0,627.6L83.9,629.3L85.3,629.1ZM83.2,628.5L82.1,628.7L82.0,630.3L83.0,630.4ZM81.3,629.6L79.6,630.0L79.4,631.6L81.1,631.4ZM78.8,630.8L77.7,630.9L77.6,632.5L78.6,632.7ZM76.9,631.7L75.6,631.9L75.5,633.6L76.7,633.6ZM74.8,632.4L73.3,631.9L73.1,633.6L74.6,634.3ZM72.5,632.4L71.4,632.3L71.3,633.9L72.3,634.3ZM70.6,633.0L69.3,633.1L69.2,634.7L70.4,634.9ZM68.5,633.9L67.4,633.8L67.3,635.4L68.3,635.8ZM66.6,634.3L65.3,634.0L65.2,635.6L66.4,636.2ZM64.5,634.9L63.4,635.3L63.3,636.9L64.3,636.7ZM62.7,636.4L61.5,636.2L61.4,637.8L62.4,638.2Z" fill="#feeedb"/>
<path d="M262.1,594.4L265.7,596.7L271.4,599.0L273.6,602.4L277.2,605.9L274.3,608.8L267.1,612.3L264.5,615.1L261.3,612.3L261.3,607.0L259.0,602.7L262.3,598.3ZM249.8,584.0L251.3,582.8L253.4,584.5L256.3,584.3L259.9,586.3L260.2,587.5L257.0,589.1L253.7,589.7L252.7,586.6L250.1,585.6ZM241.2,581.7L241.9,579.9L246.2,580.5L249.8,580.8L247.4,582.5ZM248.1,585.9L247.6,584.9L246.5,584.5L245.4,584.9L244.9,585.9L245.4,586.8L246.5,587.2L247.6,586.8ZM252.4,590.3L251.8,589.6L250.7,589.6L250.1,590.3L250.7,591.0L251.8,591.0ZM227.1,574.5L230.4,572.9L231.8,572.6L234.0,576.4L236.1,578.7L234.0,579.4L229.7,578.7L228.2,576.4ZM213.1,567.2L212.6,565.7L211.2,564.7L209.2,564.3L207.3,564.7L205.8,565.7L205.3,567.2L205.8,568.7L207.3,569.7L209.2,570.1L211.2,569.7L212.6,568.7ZM201.3,570.2L201.5,568.2L200.4,567.5L199.0,568.8L198.7,570.8L199.9,571.5Z" fill="#fbbf70"/>
</g>
<g transform="translate(998.2,0)" stroke="#000" stroke-opacity="0.75" stroke-width="0.48" stroke-linejoin="round">
<path d="M72.1,232.9L140.2,232.9L140.1,274.3L141.1,278.0L141.5,281.2L117.0,281.2L115.0,282.3L109.6,282.5L104.9,284.1L98.9,286.0L92.4,286.8L90.6,287.4L86.5,285.7L82.3,286.3L78.7,288.2L75.8,288.1L72.1,286.8L71.6,283.3L70.4,279.9L66.8,278.8L63.9,276.8L60.9,277.1L56.7,277.1L57.9,272.3L56.7,269.9L56.1,267.5L57.3,265.9L54.9,265.1L52.6,257.0L49.7,250.6L49.0,249.0L48.6,242.9L50.2,242.9L57.3,246.3L63.9,246.9L68.0,247.1L72.2,246.7L74.6,250.3L74.0,256.2L72.2,260.3L69.8,261.9L70.4,264.3L72.8,263.5L75.8,260.7L76.9,258.6L76.3,255.4L78.5,249.3L76.6,248.2L76.3,245.0L73.4,242.6L74.6,240.1L75.2,236.9L71.6,234.5ZM72.2,242.9L74.0,242.6L75.2,247.4L76.6,250.1L74.6,249.0L72.8,245.8ZM67.2,239.3L71.0,237.4L71.8,240.9L69.2,242.1ZM74.9,257.0L76.0,258.3L75.2,259.8Z" fill="#1f9a96"/>
<path d="M56.7,277.1L60.9,277.1L63.9,276.8L66.8,278.8L70.4,279.9L71.6,283.3L72.1,286.8L75.8,288.1L78.7,288.2L82.3,286.3L86.5,285.7L90.6,287.4L92.4,286.8L98.9,286.0L104.9,284.1L109.6,282.5L115.0,282.3L117.0,281.2L141.5,281.2L143.2,283.9L145.9,285.2L147.0,287.6L144.5,292.1L142.3,296.9L142.3,298.9L140.0,301.3L138.2,306.1L137.8,308.5L140.6,309.6L141.7,310.9L140.2,316.1L140.2,345.5L104.9,345.5L54.8,345.5L53.8,343.9L52.6,338.3L50.8,332.0L51.4,331.0L52.8,324.1L54.9,319.8L55.9,313.4L56.5,303.7L57.3,296.5L57.7,289.2L57.9,282.0Z" fill="#1f9a96"/>
<path d="M54.8,345.5L104.9,345.5L104.9,393.8L168.7,458.2L169.1,460.6L170.5,462.7L171.8,467.0L174.6,469.4L172.8,471.8L171.1,474.2L169.7,480.7L167.9,483.9L170.0,489.9L170.6,490.8L168.9,494.7L167.7,494.8L139.1,497.9L137.6,495.6L137.2,492.8L135.2,486.3L131.0,481.5L127.5,478.8L123.9,478.3L122.7,473.8L119.2,474.2L113.8,471.8L110.8,467.8L106.1,467.5L99.3,467.0L97.8,465.4L97.4,462.2L97.2,455.7L94.2,451.7L89.4,446.9L85.9,442.1L82.3,437.2L81.7,432.4L83.5,429.2L82.3,426.5L79.3,426.3L76.3,422.8L75.2,417.9L75.2,413.9L76.9,416.3L79.9,417.1L78.7,411.5L77.5,409.1L76.9,410.7L75.2,413.1L72.8,411.5L69.2,409.9L69.8,407.0L68.6,405.1L64.5,399.4L60.9,394.6L59.9,385.8L59.1,380.4L56.7,377.4L53.2,373.7L52.6,370.6L56.1,364.8L55.5,360.8L56.5,354.4L54.9,349.6ZM99.5,473.8L104.9,474.6L110.2,473.4L110.2,474.7L103.7,475.9ZM121.5,482.6L124.9,484.7L124.5,485.5L121.5,483.6ZM121.5,489.9L124.5,493.2L123.7,493.6ZM110.0,485.8L111.7,486.8L110.8,487.1Z" fill="#a3dad6"/>
<path d="M104.9,345.5L140.2,345.5L175.7,345.5L175.6,426.0L175.6,438.9L171.5,439.7L167.4,441.7L168.5,448.5L169.4,454.9L168.7,458.2L104.9,393.8Z" fill="#1f9a96"/>
<path d="M140.2,232.9L151.9,232.9L151.9,249.3L155.8,253.8L155.4,257.8L158.4,260.3L164.3,265.1L167.3,269.6L172.1,270.6L170.9,277.1L171.5,282.8L169.7,288.1L172.3,289.7L176.2,286.3L178.0,287.6L179.2,291.6L182.8,296.5L182.8,299.4L186.9,301.6L188.1,306.1L190.1,307.4L195.8,305.3L198.8,304.8L201.8,304.8L205.9,304.5L206.3,301.8L207.4,301.3L209.5,304.0L211.3,305.8L211.3,345.5L175.7,345.5L140.2,345.5L140.2,316.1L141.7,310.9L140.6,309.6L137.8,308.5L138.2,306.1L140.0,301.3L142.3,298.9L142.3,296.9L144.5,292.1L147.0,287.6L145.9,285.2L143.2,283.9L141.5,281.2L141.1,278.0L140.1,274.3Z" fill="#074b48"/>
<path d="M151.9,232.9L294.5,232.9L294.5,282.1L294.5,297.3L211.3,297.3L211.3,305.8L209.5,304.0L207.4,301.3L206.3,301.8L205.9,304.5L201.8,304.8L198.8,304.8L195.8,305.3L190.1,307.4L188.1,306.1L186.9,301.6L182.8,299.4L182.8,296.5L179.2,291.6L178.0,287.6L176.2,286.3L172.3,289.7L169.7,288.1L171.5,282.8L170.9,277.1L172.1,270.6L167.3,269.6L164.3,265.1L158.4,260.3L155.4,257.8L155.8,253.8L151.9,249.3Z" fill="#1f9a96"/>
<path d="M211.3,305.8L211.3,297.3L294.5,297.3L294.5,329.4L294.5,361.6L235.1,361.6L211.3,361.6L211.3,345.5Z" fill="#edf5f6"/>
<path d="M175.7,345.5L211.3,345.5L211.3,361.6L235.1,361.6L235.1,426.0L175.6,426.0Z" fill="#1f9a96"/>
<path d="M175.6,426.0L235.1,426.0L235.1,517.2L211.1,517.2L166.6,498.4L167.7,494.8L168.9,494.7L170.6,490.8L170.0,489.9L167.9,483.9L169.7,480.7L171.1,474.2L172.8,471.8L174.6,469.4L171.8,467.0L170.5,462.7L169.1,460.6L168.7,458.2L169.4,454.9L168.5,448.5L167.4,441.7L171.5,439.7L175.6,438.9Z" fill="#1f9a96"/>
<path d="M235.1,361.6L294.5,361.6L318.3,361.6L318.3,377.7L318.4,426.0L307.0,426.0L235.1,426.0Z" fill="#086562"/>
<path d="M235.1,426.0L307.0,426.0L307.0,434.0L306.3,506.4L264.0,506.4L265.0,510.0L245.1,510.0L245.1,517.2L235.1,517.2Z" fill="#a3dad6"/>
<path d="M294.5,232.9L375.6,232.9L377.2,237.7L376.6,242.6L377.8,249.0L380.1,255.4L380.1,261.9L381.0,266.7L381.3,271.5L383.1,276.3L383.6,282.1L294.5,282.1Z" fill="#edf5f6"/>
<path d="M294.5,282.1L383.6,282.1L380.1,287.6L381.9,290.8L384.9,292.4L384.9,321.4L383.1,321.4L383.9,324.6L384.9,328.2L382.9,331.9L383.9,335.1L385.0,337.6L381.9,335.1L378.4,333.5L374.8,331.7L370.0,331.9L366.5,333.1L362.9,331.0L360.5,329.4L294.5,329.4L294.5,297.3Z" fill="#0c8a8b"/>
<path d="M294.5,329.4L360.5,329.4L362.9,331.0L366.5,333.1L370.0,331.9L374.8,331.7L378.4,333.5L381.9,335.1L385.0,337.6L386.1,342.3L389.1,350.4L391.2,358.4L392.0,364.8L393.0,368.4L395.6,373.2L398.4,377.7L318.3,377.7L318.3,361.6L294.5,361.6Z" fill="#8ccbc8"/>
<path d="M318.3,377.7L398.4,377.7L402.1,379.8L403.3,381.7L400.9,385.0L402.7,389.0L406.8,392.0L406.7,426.0L318.4,426.0Z" fill="#1f9a96"/>
<path d="M318.4,426.0L406.7,426.0L406.7,434.0L408.9,451.7L408.3,480.0L403.3,478.3L398.6,476.2L392.6,476.3L387.9,478.3L383.1,476.7L378.9,475.1L376.0,478.3L370.6,474.6L367.1,476.2L365.3,472.2L359.3,471.8L352.2,470.2L350.4,467.0L346.3,467.8L342.7,465.2L342.7,434.0L307.0,434.0L307.0,426.0Z" fill="#1f9a96"/>
<path d="M307.0,434.0L342.7,434.0L342.7,465.2L346.3,467.8L350.4,467.0L352.2,470.2L359.3,471.8L365.3,472.2L367.1,476.2L370.6,474.6L376.0,478.3L378.9,475.1L383.1,476.7L387.9,478.3L392.6,476.3L398.6,476.2L403.3,478.3L408.3,480.0L413.5,481.5L413.5,490.0L413.5,506.6L415.8,512.9L419.4,519.6L417.6,529.0L417.0,533.8L417.4,537.8L415.8,543.4L409.3,546.7L405.7,549.1L404.5,544.2L402.1,545.0L403.3,549.9L400.9,553.9L395.0,557.9L390.2,560.3L385.5,560.3L384.9,563.5L380.7,565.2L379.5,568.4L376.0,572.4L373.6,574.0L374.8,577.2L373.0,582.1L372.4,588.5L374.2,594.9L376.0,601.4L376.6,603.6L371.2,605.4L364.1,602.2L357.0,597.3L353.4,596.5L351.6,589.3L348.6,582.1L348.6,578.0L343.9,571.6L339.1,566.0L336.1,557.9L334.4,552.3L330.8,548.7L326.0,542.3L318.9,541.8L314.7,540.5L310.6,543.1L308.8,549.1L305.2,555.2L301.1,552.8L294.5,549.4L288.6,543.4L286.8,537.8L284.4,529.8L278.5,524.1L271.3,516.1L266.6,510.5L265.0,510.0L264.0,506.4L306.3,506.4Z" fill="#a3dad6"/>
<path d="M375.6,232.9L400.4,232.9L400.4,226.8L402.7,227.1L404.3,228.1L405.9,234.5L406.9,237.4L411.1,238.0L415.8,240.1L421.2,239.3L426.5,239.0L431.9,242.1L433.6,245.3L437.8,243.7L443.2,247.9L449.7,245.8L452.7,247.4L460.4,247.4L462.8,249.0L467.6,248.8L462.8,251.7L457.7,253.0L450.9,257.0L446.1,261.1L441.4,265.1L436.6,269.1L434.4,270.6L434.4,279.9L431.3,282.0L427.7,286.0L427.3,288.4L430.1,290.8L428.9,295.7L428.3,301.3L431.3,303.7L434.8,306.1L439.0,308.5L441.4,312.5L446.1,315.8L446.7,319.0L447.1,321.4L384.9,321.4L384.9,292.4L381.9,290.8L380.1,287.6L383.6,282.1L383.1,276.3L381.3,271.5L381.0,266.7L380.1,261.9L380.1,255.4L377.8,249.0L376.6,242.6L377.2,237.7Z" fill="#0c8a8b"/>
<path d="M384.9,321.4L447.1,321.4L447.3,326.2L447.9,330.2L449.1,333.9L453.3,335.6L454.0,337.3L456.8,340.7L459.8,343.9L459.4,348.7L457.4,352.3L454.5,353.6L449.1,355.2L448.5,358.4L450.3,360.8L449.7,363.2L448.5,365.6L444.9,368.9L444.7,371.6L441.0,367.9L393.0,368.4L392.0,364.8L391.2,358.4L389.1,350.4L386.1,342.3L385.0,337.6L383.9,335.1L382.9,331.9L384.9,328.2L383.9,324.6L383.1,321.4Z" fill="#1f9a96"/>
<path d="M393.0,368.4L441.0,367.9L444.7,371.6L443.7,374.5L444.9,378.8L445.5,382.5L448.5,386.6L453.0,390.6L454.5,395.4L459.4,396.2L459.4,399.8L457.4,405.1L459.2,409.1L462.8,411.5L465.7,414.7L467.5,421.2L468.7,424.4L471.9,426.3L471.1,431.6L467.6,434.0L466.9,438.0L465.2,442.1L457.2,442.1L459.8,434.0L406.7,434.0L406.7,426.0L406.8,392.0L402.7,389.0L400.9,385.0L403.3,381.7L402.1,379.8L398.4,377.7L395.6,373.2Z" fill="#1f9a96"/>
<path d="M406.7,434.0L459.8,434.0L457.2,442.1L465.2,442.1L465.7,443.7L462.2,449.3L461.0,451.7L460.2,455.7L458.0,458.2L455.0,462.2L454.8,467.0L450.9,472.6L449.7,478.3L447.3,483.1L448.5,487.1L447.7,490.3L413.5,490.0L413.5,481.5L408.3,480.0L408.9,451.7Z" fill="#1f9a96"/>
<path d="M413.5,490.0L447.7,490.3L448.5,496.0L450.9,500.8L447.9,506.4L444.9,512.9L443.2,518.5L442.6,522.5L464.8,522.5L463.4,528.2L465.7,532.2L466.3,535.4L464.0,537.0L460.4,537.8L463.4,539.4L468.1,537.8L471.1,540.2L467.5,544.2L469.9,548.3L472.9,551.5L471.7,554.7L468.7,555.8L468.1,551.5L464.6,549.9L461.6,551.5L461.0,551.8L456.8,553.4L450.9,553.9L446.1,550.7L443.7,546.7L439.6,546.7L437.8,545.4L434.2,545.9L429.5,545.0L423.5,542.3L415.8,543.4L417.4,537.8L417.0,533.8L417.6,529.0L419.4,519.6L415.8,512.9L413.5,506.6Z" fill="#1f9a96"/>
<path d="M436.6,269.1L440.2,269.9L447.3,267.5L451.5,265.9L452.7,267.0L450.9,271.2L455.0,271.5L456.6,272.0L460.2,275.7L472.3,278.9L475.3,280.7L480.6,281.5L484.2,282.5L484.2,284.4L487.7,286.3L487.1,291.6L489.5,291.6L488.9,294.0L490.1,295.7L487.7,298.1L485.4,302.9L486.0,304.5L488.3,302.4L492.5,299.2L494.9,295.7L497.3,292.8L497.5,294.0L496.1,296.5L493.7,300.5L491.3,306.1L491.1,310.1L489.5,313.4L488.9,317.4L486.9,323.0L486.6,328.6L487.7,332.7L487.7,337.6L454.0,337.3L453.3,335.6L449.1,333.9L447.9,330.2L447.3,326.2L447.1,321.4L446.7,319.0L446.1,315.8L441.4,312.5L439.0,308.5L434.8,306.1L431.3,303.7L428.3,301.3L428.9,295.7L430.1,290.8L427.3,288.4L427.7,286.0L431.3,282.0L434.4,279.9L434.4,270.6Z" fill="#1f9a96"/>
<path d="M454.0,337.3L487.7,337.6L488.0,342.3L490.1,347.9L491.0,349.4L491.0,388.2L490.1,392.2L490.7,396.2L491.3,401.8L488.3,405.1L486.0,407.5L485.0,413.1L483.6,415.5L483.6,418.4L480.0,419.5L480.4,423.6L478.2,424.7L474.1,422.8L471.9,426.3L468.7,424.4L467.5,421.2L465.7,414.7L462.8,411.5L459.2,409.1L457.4,405.1L459.4,399.8L459.4,396.2L454.5,395.4L453.0,390.6L448.5,386.6L445.5,382.5L444.9,378.8L443.7,374.5L444.7,371.6L444.9,368.9L448.5,365.6L449.7,363.2L450.3,360.8L448.5,358.4L449.1,355.2L454.5,353.6L457.4,352.3L459.4,348.7L459.8,343.9L456.8,340.7Z" fill="#a3dad6"/>
<path d="M491.0,349.4L494.9,351.5L499.4,349.4L523.3,349.4L523.3,350.4L523.2,392.2L522.8,395.4L518.7,398.6L515.7,398.1L513.3,404.3L511.5,405.5L509.7,409.9L505.6,407.5L503.2,411.0L499.6,410.2L496.1,413.1L492.5,410.7L490.1,410.7L486.6,411.8L485.0,413.1L486.0,407.5L488.3,405.1L491.3,401.8L490.7,396.2L490.1,392.2L491.0,388.2Z" fill="#1f9a96"/>
<path d="M539.5,349.9L541.2,346.3L543.0,343.9L543.6,340.7L546.0,339.1L548.4,335.9L550.8,335.1L551.4,329.4L550.2,323.0L549.0,316.6L545.4,312.2L541.2,313.4L539.5,317.4L534.1,319.0L534.1,315.0L537.7,312.5L540.7,308.5L541.2,302.1L540.1,296.5L537.7,292.4L531.7,289.2L524.0,284.7L521.0,286.0L521.0,290.8L516.3,293.2L514.5,298.1L513.9,294.8L511.5,297.3L508.0,298.9L506.2,302.1L506.2,306.1L503.2,312.5L503.8,318.2L503.2,319.8L506.2,327.8L506.8,332.7L505.6,339.1L503.2,343.9L499.4,349.4L523.3,349.4L523.3,350.4ZM456.6,272.0L464.0,267.8L471.1,265.9L474.7,263.5L479.4,260.3L485.4,257.5L488.3,257.8L486.0,261.1L482.4,264.3L480.0,266.7L480.0,268.8L483.0,266.7L486.6,266.7L490.7,268.3L492.7,272.8L497.3,273.1L501.4,274.3L506.8,270.7L511.5,270.2L518.1,269.1L521.4,268.8L521.0,273.1L525.2,273.4L528.8,273.1L531.1,276.3L531.7,280.4L534.1,281.2L532.9,282.0L524.6,283.3L522.2,281.2L516.3,279.9L510.3,282.0L505.6,282.8L502.6,284.4L502.0,287.6L500.2,284.4L497.3,284.4L496.4,285.7L494.3,289.2L492.5,292.4L490.1,295.7L488.9,294.0L489.5,291.6L487.1,291.6L487.7,286.3L484.2,284.4L484.2,282.5L480.6,281.5L475.3,280.7L472.3,278.9L460.2,275.7ZM471.1,250.6L479.4,246.3L480.3,247.4L472.3,251.6ZM534.1,281.2L539.5,279.6L538.9,282.3Z" fill="#8ccbc8"/>
<path d="M539.5,349.9L544.8,352.0L548.4,353.6L556.7,353.6L560.3,353.6L568.6,347.9L574.3,345.9L574.3,367.4L572.8,368.4L573.4,372.9L571.8,376.9L570.4,381.7L566.8,386.6L563.8,387.7L561.9,389.5L559.7,392.2L559.6,394.6L556.7,393.8L554.9,396.2L554.3,400.2L551.4,403.1L549.7,403.1L546.6,400.2L544.8,398.1L541.2,400.2L537.1,399.8L534.7,397.8L530.0,397.0L529.4,393.8L527.0,392.2L523.2,392.2L523.3,350.4Z" fill="#1f9a96"/>
<path d="M523.2,392.2L527.0,392.2L529.4,393.8L530.0,397.0L534.7,397.8L537.1,399.8L541.2,400.2L544.8,398.1L546.6,400.2L549.7,403.1L549.6,406.7L551.4,410.7L553.1,414.7L557.1,417.3L553.1,421.2L548.4,424.4L547.8,426.0L543.0,430.0L536.7,432.4L523.4,432.4L503.2,431.6L484.5,431.1L484.8,434.0L467.6,434.0L471.1,431.6L471.9,426.3L474.1,422.8L478.2,424.7L480.4,423.6L480.0,419.5L483.6,418.4L483.6,415.5L485.0,413.1L486.6,411.8L490.1,410.7L492.5,410.7L496.1,413.1L499.6,410.2L503.2,411.0L505.6,407.5L509.7,409.9L511.5,405.5L513.3,404.3L515.7,398.1L518.7,398.6L522.8,395.4Z" fill="#a3dad6"/>
<path d="M467.6,434.0L484.8,434.0L484.5,431.1L503.2,431.6L523.4,432.4L536.7,432.4L560.5,432.6L560.0,436.4L557.5,437.7L556.1,440.1L551.9,440.5L549.6,442.1L546.0,442.9L543.6,445.8L538.9,449.0L534.1,450.1L532.3,453.3L529.4,454.9L529.1,458.3L513.8,458.2L483.0,458.2L458.0,458.2L460.2,455.7L461.0,451.7L462.2,449.3L465.7,443.7L465.2,442.1L466.9,438.0Z" fill="#0c8a8b"/>
<path d="M458.0,458.2L483.0,458.2L484.2,459.8L479.8,508.0L480.6,532.7L478.2,533.0L474.7,532.2L469.9,533.8L468.1,535.4L466.3,535.4L465.7,532.2L463.4,528.2L464.8,522.5L442.6,522.5L443.2,518.5L444.9,512.9L447.9,506.4L450.9,500.8L448.5,496.0L447.7,490.3L448.5,487.1L447.3,483.1L449.7,478.3L450.9,472.6L454.8,467.0L455.0,462.2Z" fill="#1f9a96"/>
<path d="M483.0,458.2L513.8,458.2L516.3,475.1L518.9,492.4L521.0,500.8L520.4,506.4L519.8,512.9L520.4,517.7L521.0,522.5L490.1,522.5L492.5,528.2L491.1,534.1L487.7,534.9L485.4,534.9L486.6,532.2L486.0,528.2L484.8,528.2L484.2,532.2L483.6,533.8L480.6,532.7L479.8,508.0L484.2,459.8Z" fill="#1f9a96"/>
<path d="M513.8,458.2L529.1,458.3L543.5,458.2L540.8,463.0L543.6,465.4L546.0,466.5L547.8,471.0L550.2,475.1L554.3,479.9L557.3,483.1L562.6,490.3L563.6,496.0L566.2,499.2L567.2,504.8L570.4,505.9L567.4,508.0L565.6,514.5L563.8,520.9L563.2,527.2L556.7,526.5L556.1,532.8L554.3,529.4L522.7,527.2L521.0,522.5L520.4,517.7L519.8,512.9L520.4,506.4L521.0,500.8L518.9,492.4L516.3,475.1Z" fill="#8ccbc8"/>
<path d="M521.0,522.5L522.7,527.2L554.3,529.4L556.1,532.8L556.7,526.5L563.2,527.2L563.8,533.0L565.6,541.8L568.6,550.7L571.6,558.7L573.9,563.5L573.4,569.2L576.3,578.8L579.3,586.9L580.1,590.1L579.5,598.1L579.1,606.2L576.9,612.6L575.1,615.8L569.8,617.0L567.4,617.1L566.8,612.6L564.4,606.2L559.1,601.4L557.3,595.7L554.3,590.9L551.9,586.1L549.0,579.6L550.2,576.4L551.4,572.4L549.0,573.2L547.2,574.8L546.6,567.6L549.0,561.9L549.0,556.3L547.2,552.3L543.6,549.9L540.1,544.2L537.1,539.4L532.9,537.0L528.8,537.8L528.8,540.2L522.8,543.4L521.0,545.0L516.9,543.9L516.3,541.0L513.3,537.0L506.8,533.0L503.2,532.5L494.9,533.3L491.1,534.1L492.5,528.2L490.1,522.5ZM577.5,613.4L575.5,617.1L572.2,620.7L567.4,623.9L559.7,626.5L556.1,626.3L559.1,625.2L567.4,622.6L572.8,619.1L576.3,614.6Z" fill="#1f9a96"/>
<path d="M543.5,458.2L547.8,457.0L551.9,454.9L568.1,455.7L568.1,457.5L569.4,456.6L571.2,461.1L584.4,461.4L597.7,476.5L593.6,479.9L590.6,485.5L589.4,488.7L585.2,491.9L581.7,495.2L575.7,499.2L572.8,502.4L570.4,505.9L567.2,504.8L566.2,499.2L563.6,496.0L562.6,490.3L557.3,483.1L554.3,479.9L550.2,475.1L547.8,471.0L546.0,466.5L543.6,465.4L540.8,463.0Z" fill="#1f9a96"/>
<path d="M529.1,458.3L529.4,454.9L532.3,453.3L534.1,450.1L538.9,449.0L543.6,445.8L546.0,442.9L549.6,442.1L551.9,440.5L556.1,440.1L557.5,437.7L560.0,436.4L560.5,432.6L629.6,433.2L629.2,438.0L626.9,439.7L619.7,442.1L628.0,442.9L631.0,444.5L628.6,449.3L624.5,451.7L617.3,450.9L622.7,453.3L622.1,457.4L618.5,458.2L623.3,459.4L622.1,462.2L619.7,463.0L615.0,463.8L610.2,467.8L606.6,471.8L604.9,476.7L604.3,476.3L597.7,476.5L584.4,461.4L571.2,461.1L569.4,456.6L568.1,457.5L568.1,455.7L551.9,454.9L547.8,457.0L543.5,458.2ZM630.1,434.0L631.8,440.5L634.2,446.9L634.6,454.1L633.4,454.9L628.0,457.2L622.1,464.6L621.3,463.3L627.5,455.7L633.0,453.3L633.0,446.9L630.8,440.5L629.2,434.0Z" fill="#8ccbc8"/>
<path d="M557.1,417.3L560.5,422.8L565.9,422.1L570.4,420.5L576.9,417.5L577.9,415.8L581.0,408.9L584.6,400.6L588.8,403.1L593.9,397.5L599.5,391.1L600.1,387.5L606.3,391.7L607.6,388.7L610.2,391.9L612.6,393.0L614.7,394.9L615.7,397.0L615.6,398.6L612.6,401.8L612.6,404.3L615.9,403.5L616.2,405.9L620.9,407.5L624.5,410.7L624.5,414.7L620.3,413.1L624.5,417.1L622.7,422.0L624.5,425.2L620.3,423.6L624.5,426.8L628.0,427.3L628.6,430.0L629.6,433.2L560.5,432.6L536.7,432.4L543.0,430.0L547.8,426.0L548.4,424.4L553.1,421.2ZM632.2,410.7L631.0,414.7L628.6,419.5L628.0,422.8L628.6,424.0L630.4,421.2L632.8,416.3L635.8,411.5L637.1,409.4Z" fill="#0c8a8b"/>
<path d="M549.7,403.1L551.4,403.1L554.3,400.2L554.9,396.2L556.7,393.8L559.6,394.6L559.7,392.2L561.9,389.5L563.8,387.7L566.8,386.6L570.4,381.7L571.8,376.9L573.4,372.9L572.8,368.4L574.3,367.4L574.3,382.2L586.7,382.2L586.7,390.6L591.2,386.2L595.3,384.1L598.9,385.3L602.1,382.5L606.0,384.1L607.6,388.7L606.3,391.7L600.1,387.5L599.5,391.1L593.9,397.5L588.8,403.1L584.6,400.6L581.0,408.9L577.9,415.8L576.9,417.5L570.4,420.5L565.9,422.1L560.5,422.8L557.1,417.3L553.1,414.7L551.4,410.7L549.6,406.7Z" fill="#0c8a8b"/>
<path d="M586.7,382.2L630.5,382.2L631.7,402.5L639.3,402.6L638.7,405.1L637.1,409.4L632.2,410.7L629.6,409.9L627.8,407.5L625.7,405.4L624.5,402.2L624.1,398.9L625.7,397.3L623.9,395.7L625.1,393.0L626.6,389.3L628.6,387.0L628.0,385.0L626.9,386.6L624.5,389.0L621.5,389.8L623.1,391.4L622.5,394.6L621.9,397.8L621.9,401.0L623.5,403.8L623.3,405.9L624.1,409.1L624.5,410.7L620.9,407.5L616.2,405.9L615.9,403.5L612.6,404.3L612.6,401.8L615.6,398.6L615.7,397.0L614.7,394.9L612.6,393.0L610.2,391.9L607.6,388.7L606.0,384.1L602.1,382.5L598.9,385.3L595.3,384.1L591.2,386.2L586.7,390.6Z" fill="#0c8a8b"/>
<path d="M630.5,382.2L631.6,380.6L633.4,380.3L634.9,380.9L633.2,384.1L633.2,386.6L635.2,390.6L636.4,394.6L638.7,397.3L639.3,402.6L631.7,402.5Z" fill="#0c8a8b"/>
<path d="M574.3,345.9L583.3,341.2L583.3,345.5L635.7,345.5L639.1,349.2L643.5,355.8L641.1,358.4L638.5,362.1L638.7,364.0L637.6,367.3L639.3,368.9L640.5,371.3L642.9,374.8L638.7,378.2L634.9,380.9L633.4,380.3L631.6,380.6L630.5,382.2L586.7,382.2L574.3,382.2L574.3,367.4Z" fill="#edf5f6"/>
<path d="M643.5,355.8L653.0,361.6L651.8,365.6L650.6,367.3L648.9,369.7L651.8,370.5L651.8,374.5L650.6,381.7L647.1,387.4L643.5,392.2L640.5,394.9L641.1,391.4L638.2,390.6L634.9,387.4L634.0,384.1L634.9,380.9L638.7,378.2L642.9,374.8L640.5,371.3L639.3,368.9L637.6,367.3L638.7,364.0L638.5,362.1L641.1,358.4Z" fill="#e3f0f1"/>
<path d="M583.3,341.2L588.2,337.5L593.6,331.9L592.4,327.8L591.8,325.1L598.3,323.5L606.6,323.8L610.2,325.4L616.2,325.1L620.9,322.2L625.7,320.6L625.7,315.8L623.9,311.4L629.2,306.9L636.4,299.7L642.9,297.3L659.7,297.1L659.6,303.7L660.1,309.3L658.6,313.4L659.6,317.4L660.7,320.6L660.6,333.5L657.9,344.7L657.5,351.2L657.2,356.8L658.0,358.2L655.0,360.0L655.9,361.6L654.2,364.0L652.7,364.8L651.6,366.4L652.4,364.0L653.0,361.6L643.5,355.8L639.1,349.2L635.7,345.5L583.3,345.5ZM651.5,367.7L654.8,368.1L660.1,367.3L666.7,365.3L672.0,363.6L677.2,360.5L673.2,361.6L670.3,362.9L672.3,359.2L667.9,361.9L661.3,362.9L656.6,363.2L654.6,364.8L652.4,365.6ZM648.9,369.3L651.0,368.1L650.6,367.3L649.4,367.6Z" fill="#7cbdba"/>
<path d="M657.9,344.7L678.0,345.2L678.0,354.9L677.4,356.5L671.4,357.3L664.9,357.6L661.3,359.2L655.9,361.6L655.0,360.0L658.0,358.2L657.2,356.8L657.5,351.2Z" fill="#1f9a96"/>
<path d="M678.0,345.2L683.0,345.2L683.0,347.1L683.6,349.1L685.1,350.8L686.1,353.6L685.1,354.1L683.9,352.0L683.3,349.6L682.5,352.0L682.5,354.4L681.5,355.7L677.4,356.5L678.0,354.9Z" fill="#086562"/>
<path d="M670.1,333.8L683.9,334.3L684.5,333.6L686.9,332.3L689.6,331.5L689.9,334.3L692.3,335.1L689.3,337.2L687.5,339.9L690.5,342.0L691.7,346.3L693.4,349.2L695.8,349.9L699.4,349.1L699.4,347.1L698.4,345.0L697.0,344.2L698.2,344.4L699.7,347.1L700.2,350.7L695.8,351.5L691.7,353.1L691.1,350.4L688.1,352.8L686.1,353.6L685.1,350.8L683.6,349.1L683.0,347.1L683.0,345.2L678.0,345.2L657.9,344.7L660.6,333.5ZM689.5,356.0L692.3,354.1L694.0,355.2L693.4,356.0L690.5,356.8ZM697.0,356.8L698.8,355.5L699.7,357.1L698.2,357.8Z" fill="#1f9a96"/>
<path d="M659.7,297.1L681.5,297.1L681.0,301.3L680.4,305.3L675.6,307.7L675.0,311.7L673.2,316.6L671.4,319.8L670.8,324.6L670.3,329.4L669.1,331.5L670.1,333.8L660.6,333.5L660.7,320.6L659.6,317.4L658.6,313.4L660.1,309.3L659.6,303.7Z" fill="#7cbdba"/>
<path d="M681.5,297.1L682.7,294.0L686.5,292.4L687.1,303.7L687.9,323.8L689.6,326.2L691.1,328.3L689.6,331.5L686.9,332.3L684.5,333.6L683.9,334.3L670.1,333.8L669.1,331.5L670.3,329.4L670.8,324.6L671.4,319.8L673.2,316.6L675.0,311.7L675.6,307.7L680.4,305.3L681.0,301.3Z" fill="#8ccbc8"/>
<path d="M686.5,292.4L689.3,293.2L689.9,290.8L691.7,290.8L694.6,285.2L696.4,282.0L695.8,278.0L698.8,274.4L708.5,257.7L710.7,260.3L712.5,262.2L719.0,259.3L725.7,264.0L725.8,282.0L726.1,284.1L729.7,287.6L729.7,292.4L731.5,294.8L733.3,294.8L735.6,300.2L734.5,302.1L731.5,301.3L730.9,303.7L727.9,303.4L727.3,305.6L724.4,304.5L723.2,307.2L720.8,305.3L719.6,309.3L717.8,306.6L716.6,309.3L714.8,306.1L713.7,308.5L713.1,305.3L711.3,307.7L711.9,310.9L709.5,311.7L708.3,314.6L705.9,313.4L705.3,316.2L703.0,314.6L701.8,317.7L699.4,316.2L697.0,319.0L695.8,321.1L694.6,323.0L692.8,325.4L691.1,328.3L689.6,326.2L687.9,323.8L687.1,303.7Z" fill="#086562"/>
<path d="M146.3,540.6L143.0,539.0L139.7,538.7L136.4,538.5L131.9,537.7L128.6,536.1L125.3,536.4L122.0,535.6L120.9,534.2L117.6,534.5L115.4,532.9L111.8,531.6L109.8,533.4L106.5,534.5L103.2,536.4L99.9,537.2L97.7,539.8L97.2,542.5L94.4,544.6L90.6,544.7L89.3,547.5L92.2,548.8L94.4,550.9L95.9,554.1L98.6,554.9L102.1,556.8L101.0,558.6L97.7,559.7L96.4,557.0L93.3,557.8L89.9,559.4L86.4,562.1L89.3,563.7L89.9,564.5L90.4,567.4L93.3,568.2L97.7,567.6L101.2,567.9L102.3,566.3L102.5,569.0L102.1,571.1L102.5,572.9L99.9,573.5L97.0,575.6L94.4,575.6L93.5,578.0L91.9,581.1L90.8,583.3L91.9,585.9L92.8,588.6L94.4,590.2L95.7,592.8L98.8,591.7L99.2,591.2L100.1,594.9L100.3,598.9L102.5,598.4L103.9,597.6L106.1,600.0L107.2,598.4L108.1,598.4L110.9,597.8L110.1,600.8L109.6,604.5L107.6,607.9L104.3,611.4L102.5,612.9L99.9,614.8L97.7,617.5L96.8,619.0L99.2,618.0L102.1,616.4L104.3,614.3L107.2,612.9L108.7,610.0L111.8,607.6L113.6,604.7L116.7,601.8L118.5,598.6L119.1,595.5L120.9,591.7L122.4,588.0L125.3,585.4L126.6,585.4L124.4,587.0L123.8,588.6L122.4,593.1L122.2,595.5L124.6,594.9L127.3,592.5L129.7,590.7L130.4,588.0L131.9,586.4L134.4,586.4L135.2,588.3L137.9,591.2L139.7,591.5L143.0,591.7L146.3,592.3L149.0,593.9L152.3,597.0L155.1,600.0L156.9,600.8L158.9,600.8L161.3,602.9L162.9,606.1L164.9,610.3L166.4,613.5L168.4,617.2L169.9,618.8L170.6,617.2L170.6,613.5L170.2,612.4L166.6,609.8L165.7,607.4L165.3,605.8L163.1,600.2L161.8,598.1L159.6,595.5L158.5,592.8L156.2,594.7L154.0,597.6L153.8,595.7L150.3,591.2L148.5,590.7L146.3,590.2ZM156.2,601.8L158.5,601.6L159.8,605.5L158.9,607.6L157.4,605.0ZM158.2,606.1L159.8,606.6L160.4,611.9L159.6,610.3ZM160.2,601.8L161.8,604.5L161.5,607.6L160.4,606.1ZM162.0,608.2L164.2,609.8L163.3,612.4L161.5,611.4ZM162.7,611.9L165.1,615.1L166.2,619.3L164.2,619.6L162.7,615.6ZM166.4,615.1L168.0,617.2L167.1,618.0ZM121.3,602.9L121.8,605.0L119.8,607.6L117.6,609.0L116.0,606.1L117.8,603.9L119.3,602.6ZM78.2,573.7L81.5,572.1L84.9,574.3L83.1,575.8L80.0,574.0ZM88.0,590.7L91.1,589.9L91.7,591.7L89.9,592.8L88.2,591.7ZM96.4,619.7L93.7,619.2L93.6,620.8L96.1,621.5ZM92.9,620.3L91.2,621.8L91.1,623.5L92.7,622.2ZM90.4,623.2L88.4,624.6L88.3,626.2L90.2,625.0ZM87.6,625.6L86.3,626.2L86.2,627.8L87.4,627.5ZM85.5,627.2L84.0,627.6L83.9,629.3L85.3,629.1ZM83.2,628.5L82.1,628.7L82.0,630.3L83.0,630.4ZM81.3,629.6L79.6,630.0L79.4,631.6L81.1,631.4ZM78.8,630.8L77.7,630.9L77.6,632.5L78.6,632.7ZM76.9,631.7L75.6,631.9L75.5,633.6L76.7,633.6ZM74.8,632.4L73.3,631.9L73.1,633.6L74.6,634.3ZM72.5,632.4L71.4,632.3L71.3,633.9L72.3,634.3ZM70.6,633.0L69.3,633.1L69.2,634.7L70.4,634.9ZM68.5,633.9L67.4,633.8L67.3,635.4L68.3,635.8ZM66.6,634.3L65.3,634.0L65.2,635.6L66.4,636.2ZM64.5,634.9L63.4,635.3L63.3,636.9L64.3,636.7ZM62.7,636.4L61.5,636.2L61.4,637.8L62.4,638.2Z" fill="#e0e0e2"/>
<path d="M262.1,594.4L265.7,596.7L271.4,599.0L273.6,602.4L277.2,605.9L274.3,608.8L267.1,612.3L264.5,615.1L261.3,612.3L261.3,607.0L259.0,602.7L262.3,598.3ZM249.8,584.0L251.3,582.8L253.4,584.5L256.3,584.3L259.9,586.3L260.2,587.5L257.0,589.1L253.7,589.7L252.7,586.6L250.1,585.6ZM241.2,581.7L241.9,579.9L246.2,580.5L249.8,580.8L247.4,582.5ZM248.1,585.9L247.6,584.9L246.5,584.5L245.4,584.9L244.9,585.9L245.4,586.8L246.5,587.2L247.6,586.8ZM252.4,590.3L251.8,589.6L250.7,589.6L250.1,590.3L250.7,591.0L251.8,591.0ZM227.1,574.5L230.4,572.9L231.8,572.6L234.0,576.4L236.1,578.7L234.0,579.4L229.7,578.7L228.2,576.4ZM213.1,567.2L212.6,565.7L211.2,564.7L209.2,564.3L207.3,564.7L205.8,565.7L205.3,567.2L205.8,568.7L207.3,569.7L209.2,570.1L211.2,569.7L212.6,568.7ZM201.3,570.2L201.5,568.2L200.4,567.5L199.0,568.8L198.7,570.8L199.9,571.5Z" fill="#0c8a8b"/>
</g>
<g transform="translate(0,534)" stroke="#000" stroke-opacity="0.75" stroke-width="0.48" stroke-linejoin="round">
<path d="M72.1,232.9L140.2,232.9L140.1,274.3L141.1,278.0L141.5,281.2L117.0,281.2L115.0,282.3L109.6,282.5L104.9,284.1L98.9,286.0L92.4,286.8L90.6,287.4L86.5,285.7L82.3,286.3L78.7,288.2L75.8,288.1L72.1,286.8L71.6,283.3L70.4,279.9L66.8,278.8L63.9,276.8L60.9,277.1L56.7,277.1L57.9,272.3L56.7,269.9L56.1,267.5L57.3,265.9L54.9,265.1L52.6,257.0L49.7,250.6L49.0,249.0L48.6,242.9L50.2,242.9L57.3,246.3L63.9,246.9L68.0,247.1L72.2,246.7L74.6,250.3L74.0,256.2L72.2,260.3L69.8,261.9L70.4,264.3L72.8,263.5L75.8,260.7L76.9,258.6L76.3,255.4L78.5,249.3L76.6,248.2L76.3,245.0L73.4,242.6L74.6,240.1L75.2,236.9L71.6,234.5ZM72.2,242.9L74.0,242.6L75.2,247.4L76.6,250.1L74.6,249.0L72.8,245.8ZM67.2,239.3L71.0,237.4L71.8,240.9L69.2,242.1ZM74.9,257.0L76.0,258.3L75.2,259.8Z" fill="#f08c0a"/>
<path d="M56.7,277.1L60.9,277.1L63.9,276.8L66.8,278.8L70.4,279.9L71.6,283.3L72.1,286.8L75.8,288.1L78.7,288.2L82.3,286.3L86.5,285.7L90.6,287.4L92.4,286.8L98.9,286.0L104.9,284.1L109.6,282.5L115.0,282.3L117.0,281.2L141.5,281.2L143.2,283.9L145.9,285.2L147.0,287.6L144.5,292.1L142.3,296.9L142.3,298.9L140.0,301.3L138.2,306.1L137.8,308.5L140.6,309.6L141.7,310.9L140.2,316.1L140.2,345.5L104.9,345.5L54.8,345.5L53.8,343.9L52.6,338.3L50.8,332.0L51.4,331.0L52.8,324.1L54.9,319.8L55.9,313.4L56.5,303.7L57.3,296.5L57.7,289.2L57.9,282.0Z" fill="#e07d08"/>
<path d="M54.8,345.5L104.9,345.5L104.9,393.8L168.7,458.2L169.1,460.6L170.5,462.7L171.8,467.0L174.6,469.4L172.8,471.8L171.1,474.2L169.7,480.7L167.9,483.9L170.0,489.9L170.6,490.8L168.9,494.7L167.7,494.8L139.1,497.9L137.6,495.6L137.2,492.8L135.2,486.3L131.0,481.5L127.5,478.8L123.9,478.3L122.7,473.8L119.2,474.2L113.8,471.8L110.8,467.8L106.1,467.5L99.3,467.0L97.8,465.4L97.4,462.2L97.2,455.7L94.2,451.7L89.4,446.9L85.9,442.1L82.3,437.2L81.7,432.4L83.5,429.2L82.3,426.5L79.3,426.3L76.3,422.8L75.2,417.9L75.2,413.9L76.9,416.3L79.9,417.1L78.7,411.5L77.5,409.1L76.9,410.7L75.2,413.1L72.8,411.5L69.2,409.9L69.8,407.0L68.6,405.1L64.5,399.4L60.9,394.6L59.9,385.8L59.1,380.4L56.7,377.4L53.2,373.7L52.6,370.6L56.1,364.8L55.5,360.8L56.5,354.4L54.9,349.6ZM99.5,473.8L104.9,474.6L110.2,473.4L110.2,474.7L103.7,475.9ZM121.5,482.6L124.9,484.7L124.5,485.5L121.5,483.6ZM121.5,489.9L124.5,493.2L123.7,493.6ZM110.0,485.8L111.7,486.8L110.8,487.1Z" fill="#cf5f2b"/>
<path d="M104.9,345.5L140.2,345.5L175.7,345.5L175.6,426.0L175.6,438.9L171.5,439.7L167.4,441.7L168.5,448.5L169.4,454.9L168.7,458.2L104.9,393.8Z" fill="#e07d08"/>
<path d="M140.2,232.9L151.9,232.9L151.9,249.3L155.8,253.8L155.4,257.8L158.4,260.3L164.3,265.1L167.3,269.6L172.1,270.6L170.9,277.1L171.5,282.8L169.7,288.1L172.3,289.7L176.2,286.3L178.0,287.6L179.2,291.6L182.8,296.5L182.8,299.4L186.9,301.6L188.1,306.1L190.1,307.4L195.8,305.3L198.8,304.8L201.8,304.8L205.9,304.5L206.3,301.8L207.4,301.3L209.5,304.0L211.3,305.8L211.3,345.5L175.7,345.5L140.2,345.5L140.2,316.1L141.7,310.9L140.6,309.6L137.8,308.5L138.2,306.1L140.0,301.3L142.3,298.9L142.3,296.9L144.5,292.1L147.0,287.6L145.9,285.2L143.2,283.9L141.5,281.2L141.1,278.0L140.1,274.3Z" fill="#fccf8c"/>
<path d="M151.9,232.9L294.5,232.9L294.5,282.1L294.5,297.3L211.3,297.3L211.3,305.8L209.5,304.0L207.4,301.3L206.3,301.8L205.9,304.5L201.8,304.8L198.8,304.8L195.8,305.3L190.1,307.4L188.1,306.1L186.9,301.6L182.8,299.4L182.8,296.5L179.2,291.6L178.0,287.6L176.2,286.3L172.3,289.7L169.7,288.1L171.5,282.8L170.9,277.1L172.1,270.6L167.3,269.6L164.3,265.1L158.4,260.3L155.4,257.8L155.8,253.8L151.9,249.3Z" fill="#f08c0a"/>
<path d="M211.3,305.8L211.3,297.3L294.5,297.3L294.5,329.4L294.5,361.6L235.1,361.6L211.3,361.6L211.3,345.5Z" fill="#fcb344"/>
<path d="M175.7,345.5L211.3,345.5L211.3,361.6L235.1,361.6L235.1,426.0L175.6,426.0Z" fill="#96301e"/>
<path d="M175.6,426.0L235.1,426.0L235.1,517.2L211.1,517.2L166.6,498.4L167.7,494.8L168.9,494.7L170.6,490.8L170.0,489.9L167.9,483.9L169.7,480.7L171.1,474.2L172.8,471.8L174.6,469.4L171.8,467.0L170.5,462.7L169.1,460.6L168.7,458.2L169.4,454.9L168.5,448.5L167.4,441.7L171.5,439.7L175.6,438.9Z" fill="#f08c0a"/>
<path d="M235.1,361.6L294.5,361.6L318.3,361.6L318.3,377.7L318.4,426.0L307.0,426.0L235.1,426.0Z" fill="#fcb344"/>
<path d="M235.1,426.0L307.0,426.0L307.0,434.0L306.3,506.4L264.0,506.4L265.0,510.0L245.1,510.0L245.1,517.2L235.1,517.2Z" fill="#e07d08"/>
<path d="M294.5,232.9L375.6,232.9L377.2,237.7L376.6,242.6L377.8,249.0L380.1,255.4L380.1,261.9L381.0,266.7L381.3,271.5L383.1,276.3L383.6,282.1L294.5,282.1Z" fill="#fdd9a8"/>
<path d="M294.5,282.1L383.6,282.1L380.1,287.6L381.9,290.8L384.9,292.4L384.9,321.4L383.1,321.4L383.9,324.6L384.9,328.2L382.9,331.9L383.9,335.1L385.0,337.6L381.9,335.1L378.4,333.5L374.8,331.7L370.0,331.9L366.5,333.1L362.9,331.0L360.5,329.4L294.5,329.4L294.5,297.3Z" fill="#cf5f2b"/>
<path d="M294.5,329.4L360.5,329.4L362.9,331.0L366.5,333.1L370.0,331.9L374.8,331.7L378.4,333.5L381.9,335.1L385.0,337.6L386.1,342.3L389.1,350.4L391.2,358.4L392.0,364.8L393.0,368.4L395.6,373.2L398.4,377.7L318.3,377.7L318.3,361.6L294.5,361.6Z" fill="#fdd9a8"/>
<path d="M318.3,377.7L398.4,377.7L402.1,379.8L403.3,381.7L400.9,385.0L402.7,389.0L406.8,392.0L406.7,426.0L318.4,426.0Z" fill="#fee4c3"/>
<path d="M318.4,426.0L406.7,426.0L406.7,434.0L408.9,451.7L408.3,480.0L403.3,478.3L398.6,476.2L392.6,476.3L387.9,478.3L383.1,476.7L378.9,475.1L376.0,478.3L370.6,474.6L367.1,476.2L365.3,472.2L359.3,471.8L352.2,470.2L350.4,467.0L346.3,467.8L342.7,465.2L342.7,434.0L307.0,434.0L307.0,426.0Z" fill="#fccf8c"/>
<path d="M307.0,434.0L342.7,434.0L342.7,465.2L346.3,467.8L350.4,467.0L352.2,470.2L359.3,471.8L365.3,472.2L367.1,476.2L370.6,474.6L376.0,478.3L378.9,475.1L383.1,476.7L387.9,478.3L392.6,476.3L398.6,476.2L403.3,478.3L408.3,480.0L413.5,481.5L413.5,490.0L413.5,506.6L415.8,512.9L419.4,519.6L417.6,529.0L417.0,533.8L417.4,537.8L415.8,543.4L409.3,546.7L405.7,549.1L404.5,544.2L402.1,545.0L403.3,549.9L400.9,553.9L395.0,557.9L390.2,560.3L385.5,560.3L384.9,563.5L380.7,565.2L379.5,568.4L376.0,572.4L373.6,574.0L374.8,577.2L373.0,582.1L372.4,588.5L374.2,594.9L376.0,601.4L376.6,603.6L371.2,605.4L364.1,602.2L357.0,597.3L353.4,596.5L351.6,589.3L348.6,582.1L348.6,578.0L343.9,571.6L339.1,566.0L336.1,557.9L334.4,552.3L330.8,548.7L326.0,542.3L318.9,541.8L314.7,540.5L310.6,543.1L308.8,549.1L305.2,555.2L301.1,552.8L294.5,549.4L288.6,543.4L286.8,537.8L284.4,529.8L278.5,524.1L271.3,516.1L266.6,510.5L265.0,510.0L264.0,506.4L306.3,506.4Z" fill="#fba21c"/>
<path d="M375.6,232.9L400.4,232.9L400.4,226.8L402.7,227.1L404.3,228.1L405.9,234.5L406.9,237.4L411.1,238.0L415.8,240.1L421.2,239.3L426.5,239.0L431.9,242.1L433.6,245.3L437.8,243.7L443.2,247.9L449.7,245.8L452.7,247.4L460.4,247.4L462.8,249.0L467.6,248.8L462.8,251.7L457.7,253.0L450.9,257.0L446.1,261.1L441.4,265.1L436.6,269.1L434.4,270.6L434.4,279.9L431.3,282.0L427.7,286.0L427.3,288.4L430.1,290.8L428.9,295.7L428.3,301.3L431.3,303.7L434.8,306.1L439.0,308.5L441.4,312.5L446.1,315.8L446.7,319.0L447.1,321.4L384.9,321.4L384.9,292.4L381.9,290.8L380.1,287.6L383.6,282.1L383.1,276.3L381.3,271.5L381.0,266.7L380.1,261.9L380.1,255.4L377.8,249.0L376.6,242.6L377.2,237.7Z" fill="#e07d08"/>
<path d="M384.9,321.4L447.1,321.4L447.3,326.2L447.9,330.2L449.1,333.9L453.3,335.6L454.0,337.3L456.8,340.7L459.8,343.9L459.4,348.7L457.4,352.3L454.5,353.6L449.1,355.2L448.5,358.4L450.3,360.8L449.7,363.2L448.5,365.6L444.9,368.9L444.7,371.6L441.0,367.9L393.0,368.4L392.0,364.8L391.2,358.4L389.1,350.4L386.1,342.3L385.0,337.6L383.9,335.1L382.9,331.9L384.9,328.2L383.9,324.6L383.1,321.4Z" fill="#fdd9a8"/>
<path d="M393.0,368.4L441.0,367.9L444.7,371.6L443.7,374.5L444.9,378.8L445.5,382.5L448.5,386.6L453.0,390.6L454.5,395.4L459.4,396.2L459.4,399.8L457.4,405.1L459.2,409.1L462.8,411.5L465.7,414.7L467.5,421.2L468.7,424.4L471.9,426.3L471.1,431.6L467.6,434.0L466.9,438.0L465.2,442.1L457.2,442.1L459.8,434.0L406.7,434.0L406.7,426.0L406.8,392.0L402.7,389.0L400.9,385.0L403.3,381.7L402.1,379.8L398.4,377.7L395.6,373.2Z" fill="#fccf8c"/>
<path d="M406.7,434.0L459.8,434.0L457.2,442.1L465.2,442.1L465.7,443.7L462.2,449.3L461.0,451.7L460.2,455.7L458.0,458.2L455.0,462.2L454.8,467.0L450.9,472.6L449.7,478.3L447.3,483.1L448.5,487.1L447.7,490.3L413.5,490.0L413.5,481.5L408.3,480.0L408.9,451.7Z" fill="#fee4c3"/>
<path d="M413.5,490.0L447.7,490.3L448.5,496.0L450.9,500.8L447.9,506.4L444.9,512.9L443.2,518.5L442.6,522.5L464.8,522.5L463.4,528.2L465.7,532.2L466.3,535.4L464.0,537.0L460.4,537.8L463.4,539.4L468.1,537.8L471.1,540.2L467.5,544.2L469.9,548.3L472.9,551.5L471.7,554.7L468.7,555.8L468.1,551.5L464.6,549.9L461.6,551.5L461.0,551.8L456.8,553.4L450.9,553.9L446.1,550.7L443.7,546.7L439.6,546.7L437.8,545.4L434.2,545.9L429.5,545.0L423.5,542.3L415.8,543.4L417.4,537.8L417.0,533.8L417.6,529.0L419.4,519.6L415.8,512.9L413.5,506.6Z" fill="#cf5f2b"/>
<path d="M436.6,269.1L440.2,269.9L447.3,267.5L451.5,265.9L452.7,267.0L450.9,271.2L455.0,271.5L456.6,272.0L460.2,275.7L472.3,278.9L475.3,280.7L480.6,281.5L484.2,282.5L484.2,284.4L487.7,286.3L487.1,291.6L489.5,291.6L488.9,294.0L490.1,295.7L487.7,298.1L485.4,302.9L486.0,304.5L488.3,302.4L492.5,299.2L494.9,295.7L497.3,292.8L497.5,294.0L496.1,296.5L493.7,300.5L491.3,306.1L491.1,310.1L489.5,313.4L488.9,317.4L486.9,323.0L486.6,328.6L487.7,332.7L487.7,337.6L454.0,337.3L453.3,335.6L449.1,333.9L447.9,330.2L447.3,326.2L447.1,321.4L446.7,319.0L446.1,315.8L441.4,312.5L439.0,308.5L434.8,306.1L431.3,303.7L428.3,301.3L428.9,295.7L430.1,290.8L427.3,288.4L427.7,286.0L431.3,282.0L434.4,279.9L434.4,270.6Z" fill="#96301e"/>
<path d="M454.0,337.3L487.7,337.6L488.0,342.3L490.1,347.9L491.0,349.4L491.0,388.2L490.1,392.2L490.7,396.2L491.3,401.8L488.3,405.1L486.0,407.5L485.0,413.1L483.6,415.5L483.6,418.4L480.0,419.5L480.4,423.6L478.2,424.7L474.1,422.8L471.9,426.3L468.7,424.4L467.5,421.2L465.7,414.7L462.8,411.5L459.2,409.1L457.4,405.1L459.4,399.8L459.4,396.2L454.5,395.4L453.0,390.6L448.5,386.6L445.5,382.5L444.9,378.8L443.7,374.5L444.7,371.6L444.9,368.9L448.5,365.6L449.7,363.2L450.3,360.8L448.5,358.4L449.1,355.2L454.5,353.6L457.4,352.3L459.4,348.7L459.8,343.9L456.8,340.7Z" fill="#fbbf70"/>
<path d="M491.0,349.4L494.9,351.5L499.4,349.4L523.3,349.4L523.3,350.4L523.2,392.2L522.8,395.4L518.7,398.6L515.7,398.1L513.3,404.3L511.5,405.5L509.7,409.9L505.6,407.5L503.2,411.0L499.6,410.2L496.1,413.1L492.5,410.7L490.1,410.7L486.6,411.8L485.0,413.1L486.0,407.5L488.3,405.1L491.3,401.8L490.7,396.2L490.1,392.2L491.0,388.2Z" fill="#fdd9a8"/>
<path d="M539.5,349.9L541.2,346.3L543.0,343.9L543.6,340.7L546.0,339.1L548.4,335.9L550.8,335.1L551.4,329.4L550.2,323.0L549.0,316.6L545.4,312.2L541.2,313.4L539.5,317.4L534.1,319.0L534.1,315.0L537.7,312.5L540.7,308.5L541.2,302.1L540.1,296.5L537.7,292.4L531.7,289.2L524.0,284.7L521.0,286.0L521.0,290.8L516.3,293.2L514.5,298.1L513.9,294.8L511.5,297.3L508.0,298.9L506.2,302.1L506.2,306.1L503.2,312.5L503.8,318.2L503.2,319.8L506.2,327.8L506.8,332.7L505.6,339.1L503.2,343.9L499.4,349.4L523.3,349.4L523.3,350.4ZM456.6,272.0L464.0,267.8L471.1,265.9L474.7,263.5L479.4,260.3L485.4,257.5L488.3,257.8L486.0,261.1L482.4,264.3L480.0,266.7L480.0,268.8L483.0,266.7L486.6,266.7L490.7,268.3L492.7,272.8L497.3,273.1L501.4,274.3L506.8,270.7L511.5,270.2L518.1,269.1L521.4,268.8L521.0,273.1L525.2,273.4L528.8,273.1L531.1,276.3L531.7,280.4L534.1,281.2L532.9,282.0L524.6,283.3L522.2,281.2L516.3,279.9L510.3,282.0L505.6,282.8L502.6,284.4L502.0,287.6L500.2,284.4L497.3,284.4L496.4,285.7L494.3,289.2L492.5,292.4L490.1,295.7L488.9,294.0L489.5,291.6L487.1,291.6L487.7,286.3L484.2,284.4L484.2,282.5L480.6,281.5L475.3,280.7L472.3,278.9L460.2,275.7ZM471.1,250.6L479.4,246.3L480.3,247.4L472.3,251.6ZM534.1,281.2L539.5,279.6L538.9,282.3Z" fill="#fdd9a8"/>
<path d="M539.5,349.9L544.8,352.0L548.4,353.6L556.7,353.6L560.3,353.6L568.6,347.9L574.3,345.9L574.3,367.4L572.8,368.4L573.4,372.9L571.8,376.9L570.4,381.7L566.8,386.6L563.8,387.7L561.9,389.5L559.7,392.2L559.6,394.6L556.7,393.8L554.9,396.2L554.3,400.2L551.4,403.1L549.7,403.1L546.6,400.2L544.8,398.1L541.2,400.2L537.1,399.8L534.7,397.8L530.0,397.0L529.4,393.8L527.0,392.2L523.2,392.2L523.3,350.4Z" fill="#fdd9a8"/>
<path d="M523.2,392.2L527.0,392.2L529.4,393.8L530.0,397.0L534.7,397.8L537.1,399.8L541.2,400.2L544.8,398.1L546.6,400.2L549.7,403.1L549.6,406.7L551.4,410.7L553.1,414.7L557.1,417.3L553.1,421.2L548.4,424.4L547.8,426.0L543.0,430.0L536.7,432.4L523.4,432.4L503.2,431.6L484.5,431.1L484.8,434.0L467.6,434.0L471.1,431.6L471.9,426.3L474.1,422.8L478.2,424.7L480.4,423.6L480.0,419.5L483.6,418.4L483.6,415.5L485.0,413.1L486.6,411.8L490.1,410.7L492.5,410.7L496.1,413.1L499.6,410.2L503.2,411.0L505.6,407.5L509.7,409.9L511.5,405.5L513.3,404.3L515.7,398.1L518.7,398.6L522.8,395.4Z" fill="#fcb344"/>
<path d="M467.6,434.0L484.8,434.0L484.5,431.1L503.2,431.6L523.4,432.4L536.7,432.4L560.5,432.6L560.0,436.4L557.5,437.7L556.1,440.1L551.9,440.5L549.6,442.1L546.0,442.9L543.6,445.8L538.9,449.0L534.1,450.1L532.3,453.3L529.4,454.9L529.1,458.3L513.8,458.2L483.0,458.2L458.0,458.2L460.2,455.7L461.0,451.7L462.2,449.3L465.7,443.7L465.2,442.1L466.9,438.0Z" fill="#fccf8c"/>
<path d="M458.0,458.2L483.0,458.2L484.2,459.8L479.8,508.0L480.6,532.7L478.2,533.0L474.7,532.2L469.9,533.8L468.1,535.4L466.3,535.4L465.7,532.2L463.4,528.2L464.8,522.5L442.6,522.5L443.2,518.5L444.9,512.9L447.9,506.4L450.9,500.8L448.5,496.0L447.7,490.3L448.5,487.1L447.3,483.1L449.7,478.3L450.9,472.6L454.8,467.0L455.0,462.2Z" fill="#fee4c3"/>
<path d="M483.0,458.2L513.8,458.2L516.3,475.1L518.9,492.4L521.0,500.8L520.4,506.4L519.8,512.9L520.4,517.7L521.0,522.5L490.1,522.5L492.5,528.2L491.1,534.1L487.7,534.9L485.4,534.9L486.6,532.2L486.0,528.2L484.8,528.2L484.2,532.2L483.6,533.8L480.6,532.7L479.8,508.0L484.2,459.8Z" fill="#fbbf70"/>
<path d="M513.8,458.2L529.1,458.3L543.5,458.2L540.8,463.0L543.6,465.4L546.0,466.5L547.8,471.0L550.2,475.1L554.3,479.9L557.3,483.1L562.6,490.3L563.6,496.0L566.2,499.2L567.2,504.8L570.4,505.9L567.4,508.0L565.6,514.5L563.8,520.9L563.2,527.2L556.7,526.5L556.1,532.8L554.3,529.4L522.7,527.2L521.0,522.5L520.4,517.7L519.8,512.9L520.4,506.4L521.0,500.8L518.9,492.4L516.3,475.1Z" fill="#fbbf70"/>
<path d="M521.0,522.5L522.7,527.2L554.3,529.4L556.1,532.8L556.7,526.5L563.2,527.2L563.8,533.0L565.6,541.8L568.6,550.7L571.6,558.7L573.9,563.5L573.4,569.2L576.3,578.8L579.3,586.9L580.1,590.1L579.5,598.1L579.1,606.2L576.9,612.6L575.1,615.8L569.8,617.0L567.4,617.1L566.8,612.6L564.4,606.2L559.1,601.4L557.3,595.7L554.3,590.9L551.9,586.1L549.0,579.6L550.2,576.4L551.4,572.4L549.0,573.2L547.2,574.8L546.6,567.6L549.0,561.9L549.0,556.3L547.2,552.3L543.6,549.9L540.1,544.2L537.1,539.4L532.9,537.0L528.8,537.8L528.8,540.2L522.8,543.4L521.0,545.0L516.9,543.9L516.3,541.0L513.3,537.0L506.8,533.0L503.2,532.5L494.9,533.3L491.1,534.1L492.5,528.2L490.1,522.5ZM577.5,613.4L575.5,617.1L572.2,620.7L567.4,623.9L559.7,626.5L556.1,626.3L559.1,625.2L567.4,622.6L572.8,619.1L576.3,614.6Z" fill="#fbbf70"/>
<path d="M543.5,458.2L547.8,457.0L551.9,454.9L568.1,455.7L568.1,457.5L569.4,456.6L571.2,461.1L584.4,461.4L597.7,476.5L593.6,479.9L590.6,485.5L589.4,488.7L585.2,491.9L581.7,495.2L575.7,499.2L572.8,502.4L570.4,505.9L567.2,504.8L566.2,499.2L563.6,496.0L562.6,490.3L557.3,483.1L554.3,479.9L550.2,475.1L547.8,471.0L546.0,466.5L543.6,465.4L540.8,463.0Z" fill="#fdd9a8"/>
<path d="M529.1,458.3L529.4,454.9L532.3,453.3L534.1,450.1L538.9,449.0L543.6,445.8L546.0,442.9L549.6,442.1L551.9,440.5L556.1,440.1L557.5,437.7L560.0,436.4L560.5,432.6L629.6,433.2L629.2,438.0L626.9,439.7L619.7,442.1L628.0,442.9L631.0,444.5L628.6,449.3L624.5,451.7L617.3,450.9L622.7,453.3L622.1,457.4L618.5,458.2L623.3,459.4L622.1,462.2L619.7,463.0L615.0,463.8L610.2,467.8L606.6,471.8L604.9,476.7L604.3,476.3L597.7,476.5L584.4,461.4L571.2,461.1L569.4,456.6L568.1,457.5L568.1,455.7L551.9,454.9L547.8,457.0L543.5,458.2ZM630.1,434.0L631.8,440.5L634.2,446.9L634.6,454.1L633.4,454.9L628.0,457.2L622.1,464.6L621.3,463.3L627.5,455.7L633.0,453.3L633.0,446.9L630.8,440.5L629.2,434.0Z" fill="#fdd9a8"/>
<path d="M557.1,417.3L560.5,422.8L565.9,422.1L570.4,420.5L576.9,417.5L577.9,415.8L581.0,408.9L584.6,400.6L588.8,403.1L593.9,397.5L599.5,391.1L600.1,387.5L606.3,391.7L607.6,388.7L610.2,391.9L612.6,393.0L614.7,394.9L615.7,397.0L615.6,398.6L612.6,401.8L612.6,404.3L615.9,403.5L616.2,405.9L620.9,407.5L624.5,410.7L624.5,414.7L620.3,413.1L624.5,417.1L622.7,422.0L624.5,425.2L620.3,423.6L624.5,426.8L628.0,427.3L628.6,430.0L629.6,433.2L560.5,432.6L536.7,432.4L543.0,430.0L547.8,426.0L548.4,424.4L553.1,421.2ZM632.2,410.7L631.0,414.7L628.6,419.5L628.0,422.8L628.6,424.0L630.4,421.2L632.8,416.3L635.8,411.5L637.1,409.4Z" fill="#fbbf70"/>
<path d="M549.7,403.1L551.4,403.1L554.3,400.2L554.9,396.2L556.7,393.8L559.6,394.6L559.7,392.2L561.9,389.5L563.8,387.7L566.8,386.6L570.4,381.7L571.8,376.9L573.4,372.9L572.8,368.4L574.3,367.4L574.3,382.2L586.7,382.2L586.7,390.6L591.2,386.2L595.3,384.1L598.9,385.3L602.1,382.5L606.0,384.1L607.6,388.7L606.3,391.7L600.1,387.5L599.5,391.1L593.9,397.5L588.8,403.1L584.6,400.6L581.0,408.9L577.9,415.8L576.9,417.5L570.4,420.5L565.9,422.1L560.5,422.8L557.1,417.3L553.1,414.7L551.4,410.7L549.6,406.7Z" fill="#fdd9a8"/>
<path d="M586.7,382.2L630.5,382.2L631.7,402.5L639.3,402.6L638.7,405.1L637.1,409.4L632.2,410.7L629.6,409.9L627.8,407.5L625.7,405.4L624.5,402.2L624.1,398.9L625.7,397.3L623.9,395.7L625.1,393.0L626.6,389.3L628.6,387.0L628.0,385.0L626.9,386.6L624.5,389.0L621.5,389.8L623.1,391.4L622.5,394.6L621.9,397.8L621.9,401.0L623.5,403.8L623.3,405.9L624.1,409.1L624.5,410.7L620.9,407.5L616.2,405.9L615.9,403.5L612.6,404.3L612.6,401.8L615.6,398.6L615.7,397.0L614.7,394.9L612.6,393.0L610.2,391.9L607.6,388.7L606.0,384.1L602.1,382.5L598.9,385.3L595.3,384.1L591.2,386.2L586.7,390.6Z" fill="#fcb344"/>
<path d="M630.5,382.2L631.6,380.6L633.4,380.3L634.9,380.9L633.2,384.1L633.2,386.6L635.2,390.6L636.4,394.6L638.7,397.3L639.3,402.6L631.7,402.5Z" fill="#fdd9a8"/>
<path d="M574.3,345.9L583.3,341.2L583.3,345.5L635.7,345.5L639.1,349.2L643.5,355.8L641.1,358.4L638.5,362.1L638.7,364.0L637.6,367.3L639.3,368.9L640.5,371.3L642.9,374.8L638.7,378.2L634.9,380.9L633.4,380.3L631.6,380.6L630.5,382.2L586.7,382.2L574.3,382.2L574.3,367.4Z" fill="#fbbf70"/>
<path d="M643.5,355.8L653.0,361.6L651.8,365.6L650.6,367.3L648.9,369.7L651.8,370.5L651.8,374.5L650.6,381.7L647.1,387.4L643.5,392.2L640.5,394.9L641.1,391.4L638.2,390.6L634.9,387.4L634.0,384.1L634.9,380.9L638.7,378.2L642.9,374.8L640.5,371.3L639.3,368.9L637.6,367.3L638.7,364.0L638.5,362.1L641.1,358.4Z" fill="#fcb344"/>
<path d="M583.3,341.2L588.2,337.5L593.6,331.9L592.4,327.8L591.8,325.1L598.3,323.5L606.6,323.8L610.2,325.4L616.2,325.1L620.9,322.2L625.7,320.6L625.7,315.8L623.9,311.4L629.2,306.9L636.4,299.7L642.9,297.3L659.7,297.1L659.6,303.7L660.1,309.3L658.6,313.4L659.6,317.4L660.7,320.6L660.6,333.5L657.9,344.7L657.5,351.2L657.2,356.8L658.0,358.2L655.0,360.0L655.9,361.6L654.2,364.0L652.7,364.8L651.6,366.4L652.4,364.0L653.0,361.6L643.5,355.8L639.1,349.2L635.7,345.5L583.3,345.5ZM651.5,367.7L654.8,368.1L660.1,367.3L666.7,365.3L672.0,363.6L677.2,360.5L673.2,361.6L670.3,362.9L672.3,359.2L667.9,361.9L661.3,362.9L656.6,363.2L654.6,364.8L652.4,365.6ZM648.9,369.3L651.0,368.1L650.6,367.3L649.4,367.6Z" fill="#fbbf70"/>
<path d="M657.9,344.7L678.0,345.2L678.0,354.9L677.4,356.5L671.4,357.3L664.9,357.6L661.3,359.2L655.9,361.6L655.0,360.0L658.0,358.2L657.2,356.8L657.5,351.2Z" fill="#fdd9a8"/>
<path d="M678.0,345.2L683.0,345.2L683.0,347.1L683.6,349.1L685.1,350.8L686.1,353.6L685.1,354.1L683.9,352.0L683.3,349.6L682.5,352.0L682.5,354.4L681.5,355.7L677.4,356.5L678.0,354.9Z" fill="#feeedb"/>
<path d="M670.1,333.8L683.9,334.3L684.5,333.6L686.9,332.3L689.6,331.5L689.9,334.3L692.3,335.1L689.3,337.2L687.5,339.9L690.5,342.0L691.7,346.3L693.4,349.2L695.8,349.9L699.4,349.1L699.4,347.1L698.4,345.0L697.0,344.2L698.2,344.4L699.7,347.1L700.2,350.7L695.8,351.5L691.7,353.1L691.1,350.4L688.1,352.8L686.1,353.6L685.1,350.8L683.6,349.1L683.0,347.1L683.0,345.2L678.0,345.2L657.9,344.7L660.6,333.5ZM689.5,356.0L692.3,354.1L694.0,355.2L693.4,356.0L690.5,356.8ZM697.0,356.8L698.8,355.5L699.7,357.1L698.2,357.8Z" fill="#fee4c3"/>
<path d="M659.7,297.1L681.5,297.1L681.0,301.3L680.4,305.3L675.6,307.7L675.0,311.7L673.2,316.6L671.4,319.8L670.8,324.6L670.3,329.4L669.1,331.5L670.1,333.8L660.6,333.5L660.7,320.6L659.6,317.4L658.6,313.4L660.1,309.3L659.6,303.7Z" fill="#feeedb"/>
<path d="M681.5,297.1L682.7,294.0L686.5,292.4L687.1,303.7L687.9,323.8L689.6,326.2L691.1,328.3L689.6,331.5L686.9,332.3L684.5,333.6L683.9,334.3L670.1,333.8L669.1,331.5L670.3,329.4L670.8,324.6L671.4,319.8L673.2,316.6L675.0,311.7L675.6,307.7L680.4,305.3L681.0,301.3Z" fill="#fba21c"/>
<path d="M686.5,292.4L689.3,293.2L689.9,290.8L691.7,290.8L694.6,285.2L696.4,282.0L695.8,278.0L698.8,274.4L708.5,257.7L710.7,260.3L712.5,262.2L719.0,259.3L725.7,264.0L725.8,282.0L726.1,284.1L729.7,287.6L729.7,292.4L731.5,294.8L733.3,294.8L735.6,300.2L734.5,302.1L731.5,301.3L730.9,303.7L727.9,303.4L727.3,305.6L724.4,304.5L723.2,307.2L720.8,305.3L719.6,309.3L717.8,306.6L716.6,309.3L714.8,306.1L713.7,308.5L713.1,305.3L711.3,307.7L711.9,310.9L709.5,311.7L708.3,314.6L705.9,313.4L705.3,316.2L703.0,314.6L701.8,317.7L699.4,316.2L697.0,319.0L695.8,321.1L694.6,323.0L692.8,325.4L691.1,328.3L689.6,326.2L687.9,323.8L687.1,303.7Z" fill="#fee4c3"/>
<path d="M146.3,540.6L143.0,539.0L139.7,538.7L136.4,538.5L131.9,537.7L128.6,536.1L125.3,536.4L122.0,535.6L120.9,534.2L117.6,534.5L115.4,532.9L111.8,531.6L109.8,533.4L106.5,534.5L103.2,536.4L99.9,537.2L97.7,539.8L97.2,542.5L94.4,544.6L90.6,544.7L89.3,547.5L92.2,548.8L94.4,550.9L95.9,554.1L98.6,554.9L102.1,556.8L101.0,558.6L97.7,559.7L96.4,557.0L93.3,557.8L89.9,559.4L86.4,562.1L89.3,563.7L89.9,564.5L90.4,567.4L93.3,568.2L97.7,567.6L101.2,567.9L102.3,566.3L102.5,569.0L102.1,571.1L102.5,572.9L99.9,573.5L97.0,575.6L94.4,575.6L93.5,578.0L91.9,581.1L90.8,583.3L91.9,585.9L92.8,588.6L94.4,590.2L95.7,592.8L98.8,591.7L99.2,591.2L100.1,594.9L100.3,598.9L102.5,598.4L103.9,597.6L106.1,600.0L107.2,598.4L108.1,598.4L110.9,597.8L110.1,600.8L109.6,604.5L107.6,607.9L104.3,611.4L102.5,612.9L99.9,614.8L97.7,617.5L96.8,619.0L99.2,618.0L102.1,616.4L104.3,614.3L107.2,612.9L108.7,610.0L111.8,607.6L113.6,604.7L116.7,601.8L118.5,598.6L119.1,595.5L120.9,591.7L122.4,588.0L125.3,585.4L126.6,585.4L124.4,587.0L123.8,588.6L122.4,593.1L122.2,595.5L124.6,594.9L127.3,592.5L129.7,590.7L130.4,588.0L131.9,586.4L134.4,586.4L135.2,588.3L137.9,591.2L139.7,591.5L143.0,591.7L146.3,592.3L149.0,593.9L152.3,597.0L155.1,600.0L156.9,600.8L158.9,600.8L161.3,602.9L162.9,606.1L164.9,610.3L166.4,613.5L168.4,617.2L169.9,618.8L170.6,617.2L170.6,613.5L170.2,612.4L166.6,609.8L165.7,607.4L165.3,605.8L163.1,600.2L161.8,598.1L159.6,595.5L158.5,592.8L156.2,594.7L154.0,597.6L153.8,595.7L150.3,591.2L148.5,590.7L146.3,590.2ZM156.2,601.8L158.5,601.6L159.8,605.5L158.9,607.6L157.4,605.0ZM158.2,606.1L159.8,606.6L160.4,611.9L159.6,610.3ZM160.2,601.8L161.8,604.5L161.5,607.6L160.4,606.1ZM162.0,608.2L164.2,609.8L163.3,612.4L161.5,611.4ZM162.7,611.9L165.1,615.1L166.2,619.3L164.2,619.6L162.7,615.6ZM166.4,615.1L168.0,617.2L167.1,618.0ZM121.3,602.9L121.8,605.0L119.8,607.6L117.6,609.0L116.0,606.1L117.8,603.9L119.3,602.6ZM78.2,573.7L81.5,572.1L84.9,574.3L83.1,575.8L80.0,574.0ZM88.0,590.7L91.1,589.9L91.7,591.7L89.9,592.8L88.2,591.7ZM96.4,619.7L93.7,619.2L93.6,620.8L96.1,621.5ZM92.9,620.3L91.2,621.8L91.1,623.5L92.7,622.2ZM90.4,623.2L88.4,624.6L88.3,626.2L90.2,625.0ZM87.6,625.6L86.3,626.2L86.2,627.8L87.4,627.5ZM85.5,627.2L84.0,627.6L83.9,629.3L85.3,629.1ZM83.2,628.5L82.1,628.7L82.0,630.3L83.0,630.4ZM81.3,629.6L79.6,630.0L79.4,631.6L81.1,631.4ZM78.8,630.8L77.7,630.9L77.6,632.5L78.6,632.7ZM76.9,631.7L75.6,631.9L75.5,633.6L76.7,633.6ZM74.8,632.4L73.3,631.9L73.1,633.6L74.6,634.3ZM72.5,632.4L71.4,632.3L71.3,633.9L72.3,634.3ZM70.6,633.0L69.3,633.1L69.2,634.7L70.4,634.9ZM68.5,633.9L67.4,633.8L67.3,635.4L68.3,635.8ZM66.6,634.3L65.3,634.0L65.2,635.6L66.4,636.2ZM64.5,634.9L63.4,635.3L63.3,636.9L64.3,636.7ZM62.7,636.4L61.5,636.2L61.4,637.8L62.4,638.2Z" fill="#fbbf70"/>
<path d="M262.1,594.4L265.7,596.7L271.4,599.0L273.6,602.4L277.2,605.9L274.3,608.8L267.1,612.3L264.5,615.1L261.3,612.3L261.3,607.0L259.0,602.7L262.3,598.3ZM249.8,584.0L251.3,582.8L253.4,584.5L256.3,584.3L259.9,586.3L260.2,587.5L257.0,589.1L253.7,589.7L252.7,586.6L250.1,585.6ZM241.2,581.7L241.9,579.9L246.2,580.5L249.8,580.8L247.4,582.5ZM248.1,585.9L247.6,584.9L246.5,584.5L245.4,584.9L244.9,585.9L245.4,586.8L246.5,587.2L247.6,586.8ZM252.4,590.3L251.8,589.6L250.7,589.6L250.1,590.3L250.7,591.0L251.8,591.0ZM227.1,574.5L230.4,572.9L231.8,572.6L234.0,576.4L236.1,578.7L234.0,579.4L229.7,578.7L228.2,576.4ZM213.1,567.2L212.6,565.7L211.2,564.7L209.2,564.3L207.3,564.7L205.8,565.7L205.3,567.2L205.8,568.7L207.3,569.7L209.2,570.1L211.2,569.7L212.6,568.7ZM201.3,570.2L201.5,568.2L200.4,567.5L199.0,568.8L198.7,570.8L199.9,571.5Z" fill="#fee4c3"/>
</g>
<g transform="translate(998.2,534)" stroke="#000" stroke-opacity="0.75" stroke-width="0.48" stroke-linejoin="round">
<path d="M72.1,232.9L140.2,232.9L140.1,274.3L141.1,278.0L141.5,281.2L117.0,281.2L115.0,282.3L109.6,282.5L104.9,284.1L98.9,286.0L92.4,286.8L90.6,287.4L86.5,285.7L82.3,286.3L78.7,288.2L75.8,288.1L72.1,286.8L71.6,283.3L70.4,279.9L66.8,278.8L63.9,276.8L60.9,277.1L56.7,277.1L57.9,272.3L56.7,269.9L56.1,267.5L57.3,265.9L54.9,265.1L52.6,257.0L49.7,250.6L49.0,249.0L48.6,242.9L50.2,242.9L57.3,246.3L63.9,246.9L68.0,247.1L72.2,246.7L74.6,250.3L74.0,256.2L72.2,260.3L69.8,261.9L70.4,264.3L72.8,263.5L75.8,260.7L76.9,258.6L76.3,255.4L78.5,249.3L76.6,248.2L76.3,245.0L73.4,242.6L74.6,240.1L75.2,236.9L71.6,234.5ZM72.2,242.9L74.0,242.6L75.2,247.4L76.6,250.1L74.6,249.0L72.8,245.8ZM67.2,239.3L71.0,237.4L71.8,240.9L69.2,242.1ZM74.9,257.0L76.0,258.3L75.2,259.8Z" fill="#086562"/>
<path d="M56.7,277.1L60.9,277.1L63.9,276.8L66.8,278.8L70.4,279.9L71.6,283.3L72.1,286.8L75.8,288.1L78.7,288.2L82.3,286.3L86.5,285.7L90.6,287.4L92.4,286.8L98.9,286.0L104.9,284.1L109.6,282.5L115.0,282.3L117.0,281.2L141.5,281.2L143.2,283.9L145.9,285.2L147.0,287.6L144.5,292.1L142.3,296.9L142.3,298.9L140.0,301.3L138.2,306.1L137.8,308.5L140.6,309.6L141.7,310.9L140.2,316.1L140.2,345.5L104.9,345.5L54.8,345.5L53.8,343.9L52.6,338.3L50.8,332.0L51.4,331.0L52.8,324.1L54.9,319.8L55.9,313.4L56.5,303.7L57.3,296.5L57.7,289.2L57.9,282.0Z" fill="#074b48"/>
<path d="M54.8,345.5L104.9,345.5L104.9,393.8L168.7,458.2L169.1,460.6L170.5,462.7L171.8,467.0L174.6,469.4L172.8,471.8L171.1,474.2L169.7,480.7L167.9,483.9L170.0,489.9L170.6,490.8L168.9,494.7L167.7,494.8L139.1,497.9L137.6,495.6L137.2,492.8L135.2,486.3L131.0,481.5L127.5,478.8L123.9,478.3L122.7,473.8L119.2,474.2L113.8,471.8L110.8,467.8L106.1,467.5L99.3,467.0L97.8,465.4L97.4,462.2L97.2,455.7L94.2,451.7L89.4,446.9L85.9,442.1L82.3,437.2L81.7,432.4L83.5,429.2L82.3,426.5L79.3,426.3L76.3,422.8L75.2,417.9L75.2,413.9L76.9,416.3L79.9,417.1L78.7,411.5L77.5,409.1L76.9,410.7L75.2,413.1L72.8,411.5L69.2,409.9L69.8,407.0L68.6,405.1L64.5,399.4L60.9,394.6L59.9,385.8L59.1,380.4L56.7,377.4L53.2,373.7L52.6,370.6L56.1,364.8L55.5,360.8L56.5,354.4L54.9,349.6ZM99.5,473.8L104.9,474.6L110.2,473.4L110.2,474.7L103.7,475.9ZM121.5,482.6L124.9,484.7L124.5,485.5L121.5,483.6ZM121.5,489.9L124.5,493.2L123.7,493.6ZM110.0,485.8L111.7,486.8L110.8,487.1Z" fill="#086562"/>
<path d="M104.9,345.5L140.2,345.5L175.7,345.5L175.6,426.0L175.6,438.9L171.5,439.7L167.4,441.7L168.5,448.5L169.4,454.9L168.7,458.2L104.9,393.8Z" fill="#086562"/>
<path d="M140.2,232.9L151.9,232.9L151.9,249.3L155.8,253.8L155.4,257.8L158.4,260.3L164.3,265.1L167.3,269.6L172.1,270.6L170.9,277.1L171.5,282.8L169.7,288.1L172.3,289.7L176.2,286.3L178.0,287.6L179.2,291.6L182.8,296.5L182.8,299.4L186.9,301.6L188.1,306.1L190.1,307.4L195.8,305.3L198.8,304.8L201.8,304.8L205.9,304.5L206.3,301.8L207.4,301.3L209.5,304.0L211.3,305.8L211.3,345.5L175.7,345.5L140.2,345.5L140.2,316.1L141.7,310.9L140.6,309.6L137.8,308.5L138.2,306.1L140.0,301.3L142.3,298.9L142.3,296.9L144.5,292.1L147.0,287.6L145.9,285.2L143.2,283.9L141.5,281.2L141.1,278.0L140.1,274.3Z" fill="#086562"/>
<path d="M151.9,232.9L294.5,232.9L294.5,282.1L294.5,297.3L211.3,297.3L211.3,305.8L209.5,304.0L207.4,301.3L206.3,301.8L205.9,304.5L201.8,304.8L198.8,304.8L195.8,305.3L190.1,307.4L188.1,306.1L186.9,301.6L182.8,299.4L182.8,296.5L179.2,291.6L178.0,287.6L176.2,286.3L172.3,289.7L169.7,288.1L171.5,282.8L170.9,277.1L172.1,270.6L167.3,269.6L164.3,265.1L158.4,260.3L155.4,257.8L155.8,253.8L151.9,249.3Z" fill="#086562"/>
<path d="M211.3,305.8L211.3,297.3L294.5,297.3L294.5,329.4L294.5,361.6L235.1,361.6L211.3,361.6L211.3,345.5Z" fill="#074b48"/>
<path d="M175.7,345.5L211.3,345.5L211.3,361.6L235.1,361.6L235.1,426.0L175.6,426.0Z" fill="#086562"/>
<path d="M175.6,426.0L235.1,426.0L235.1,517.2L211.1,517.2L166.6,498.4L167.7,494.8L168.9,494.7L170.6,490.8L170.0,489.9L167.9,483.9L169.7,480.7L171.1,474.2L172.8,471.8L174.6,469.4L171.8,467.0L170.5,462.7L169.1,460.6L168.7,458.2L169.4,454.9L168.5,448.5L167.4,441.7L171.5,439.7L175.6,438.9Z" fill="#086562"/>
<path d="M235.1,361.6L294.5,361.6L318.3,361.6L318.3,377.7L318.4,426.0L307.0,426.0L235.1,426.0Z" fill="#086562"/>
<path d="M235.1,426.0L307.0,426.0L307.0,434.0L306.3,506.4L264.0,506.4L265.0,510.0L245.1,510.0L245.1,517.2L235.1,517.2Z" fill="#0c8a8b"/>
<path d="M294.5,232.9L375.6,232.9L377.2,237.7L376.6,242.6L377.8,249.0L380.1,255.4L380.1,261.9L381.0,266.7L381.3,271.5L383.1,276.3L383.6,282.1L294.5,282.1Z" fill="#074b48"/>
<path d="M294.5,282.1L383.6,282.1L380.1,287.6L381.9,290.8L384.9,292.4L384.9,321.4L383.1,321.4L383.9,324.6L384.9,328.2L382.9,331.9L383.9,335.1L385.0,337.6L381.9,335.1L378.4,333.5L374.8,331.7L370.0,331.9L366.5,333.1L362.9,331.0L360.5,329.4L294.5,329.4L294.5,297.3Z" fill="#074b48"/>
<path d="M294.5,329.4L360.5,329.4L362.9,331.0L366.5,333.1L370.0,331.9L374.8,331.7L378.4,333.5L381.9,335.1L385.0,337.6L386.1,342.3L389.1,350.4L391.2,358.4L392.0,364.8L393.0,368.4L395.6,373.2L398.4,377.7L318.3,377.7L318.3,361.6L294.5,361.6Z" fill="#074b48"/>
<path d="M318.3,377.7L398.4,377.7L402.1,379.8L403.3,381.7L400.9,385.0L402.7,389.0L406.8,392.0L406.7,426.0L318.4,426.0Z" fill="#074b48"/>
<path d="M318.4,426.0L406.7,426.0L406.7,434.0L408.9,451.7L408.3,480.0L403.3,478.3L398.6,476.2L392.6,476.3L387.9,478.3L383.1,476.7L378.9,475.1L376.0,478.3L370.6,474.6L367.1,476.2L365.3,472.2L359.3,471.8L352.2,470.2L350.4,467.0L346.3,467.8L342.7,465.2L342.7,434.0L307.0,434.0L307.0,426.0Z" fill="#086562"/>
<path d="M307.0,434.0L342.7,434.0L342.7,465.2L346.3,467.8L350.4,467.0L352.2,470.2L359.3,471.8L365.3,472.2L367.1,476.2L370.6,474.6L376.0,478.3L378.9,475.1L383.1,476.7L387.9,478.3L392.6,476.3L398.6,476.2L403.3,478.3L408.3,480.0L413.5,481.5L413.5,490.0L413.5,506.6L415.8,512.9L419.4,519.6L417.6,529.0L417.0,533.8L417.4,537.8L415.8,543.4L409.3,546.7L405.7,549.1L404.5,544.2L402.1,545.0L403.3,549.9L400.9,553.9L395.0,557.9L390.2,560.3L385.5,560.3L384.9,563.5L380.7,565.2L379.5,568.4L376.0,572.4L373.6,574.0L374.8,577.2L373.0,582.1L372.4,588.5L374.2,594.9L376.0,601.4L376.6,603.6L371.2,605.4L364.1,602.2L357.0,597.3L353.4,596.5L351.6,589.3L348.6,582.1L348.6,578.0L343.9,571.6L339.1,566.0L336.1,557.9L334.4,552.3L330.8,548.7L326.0,542.3L318.9,541.8L314.7,540.5L310.6,543.1L308.8,549.1L305.2,555.2L301.1,552.8L294.5,549.4L288.6,543.4L286.8,537.8L284.4,529.8L278.5,524.1L271.3,516.1L266.6,510.5L265.0,510.0L264.0,506.4L306.3,506.4Z" fill="#086562"/>
<path d="M375.6,232.9L400.4,232.9L400.4,226.8L402.7,227.1L404.3,228.1L405.9,234.5L406.9,237.4L411.1,238.0L415.8,240.1L421.2,239.3L426.5,239.0L431.9,242.1L433.6,245.3L437.8,243.7L443.2,247.9L449.7,245.8L452.7,247.4L460.4,247.4L462.8,249.0L467.6,248.8L462.8,251.7L457.7,253.0L450.9,257.0L446.1,261.1L441.4,265.1L436.6,269.1L434.4,270.6L434.4,279.9L431.3,282.0L427.7,286.0L427.3,288.4L430.1,290.8L428.9,295.7L428.3,301.3L431.3,303.7L434.8,306.1L439.0,308.5L441.4,312.5L446.1,315.8L446.7,319.0L447.1,321.4L384.9,321.4L384.9,292.4L381.9,290.8L380.1,287.6L383.6,282.1L383.1,276.3L381.3,271.5L381.0,266.7L380.1,261.9L380.1,255.4L377.8,249.0L376.6,242.6L377.2,237.7Z" fill="#086562"/>
<path d="M384.9,321.4L447.1,321.4L447.3,326.2L447.9,330.2L449.1,333.9L453.3,335.6L454.0,337.3L456.8,340.7L459.8,343.9L459.4,348.7L457.4,352.3L454.5,353.6L449.1,355.2L448.5,358.4L450.3,360.8L449.7,363.2L448.5,365.6L444.9,368.9L444.7,371.6L441.0,367.9L393.0,368.4L392.0,364.8L391.2,358.4L389.1,350.4L386.1,342.3L385.0,337.6L383.9,335.1L382.9,331.9L384.9,328.2L383.9,324.6L383.1,321.4Z" fill="#086562"/>
<path d="M393.0,368.4L441.0,367.9L444.7,371.6L443.7,374.5L444.9,378.8L445.5,382.5L448.5,386.6L453.0,390.6L454.5,395.4L459.4,396.2L459.4,399.8L457.4,405.1L459.2,409.1L462.8,411.5L465.7,414.7L467.5,421.2L468.7,424.4L471.9,426.3L471.1,431.6L467.6,434.0L466.9,438.0L465.2,442.1L457.2,442.1L459.8,434.0L406.7,434.0L406.7,426.0L406.8,392.0L402.7,389.0L400.9,385.0L403.3,381.7L402.1,379.8L398.4,377.7L395.6,373.2Z" fill="#086562"/>
<path d="M406.7,434.0L459.8,434.0L457.2,442.1L465.2,442.1L465.7,443.7L462.2,449.3L461.0,451.7L460.2,455.7L458.0,458.2L455.0,462.2L454.8,467.0L450.9,472.6L449.7,478.3L447.3,483.1L448.5,487.1L447.7,490.3L413.5,490.0L413.5,481.5L408.3,480.0L408.9,451.7Z" fill="#086562"/>
<path d="M413.5,490.0L447.7,490.3L448.5,496.0L450.9,500.8L447.9,506.4L444.9,512.9L443.2,518.5L442.6,522.5L464.8,522.5L463.4,528.2L465.7,532.2L466.3,535.4L464.0,537.0L460.4,537.8L463.4,539.4L468.1,537.8L471.1,540.2L467.5,544.2L469.9,548.3L472.9,551.5L471.7,554.7L468.7,555.8L468.1,551.5L464.6,549.9L461.6,551.5L461.0,551.8L456.8,553.4L450.9,553.9L446.1,550.7L443.7,546.7L439.6,546.7L437.8,545.4L434.2,545.9L429.5,545.0L423.5,542.3L415.8,543.4L417.4,537.8L417.0,533.8L417.6,529.0L419.4,519.6L415.8,512.9L413.5,506.6Z" fill="#086562"/>
<path d="M436.6,269.1L440.2,269.9L447.3,267.5L451.5,265.9L452.7,267.0L450.9,271.2L455.0,271.5L456.6,272.0L460.2,275.7L472.3,278.9L475.3,280.7L480.6,281.5L484.2,282.5L484.2,284.4L487.7,286.3L487.1,291.6L489.5,291.6L488.9,294.0L490.1,295.7L487.7,298.1L485.4,302.9L486.0,304.5L488.3,302.4L492.5,299.2L494.9,295.7L497.3,292.8L497.5,294.0L496.1,296.5L493.7,300.5L491.3,306.1L491.1,310.1L489.5,313.4L488.9,317.4L486.9,323.0L486.6,328.6L487.7,332.7L487.7,337.6L454.0,337.3L453.3,335.6L449.1,333.9L447.9,330.2L447.3,326.2L447.1,321.4L446.7,319.0L446.1,315.8L441.4,312.5L439.0,308.5L434.8,306.1L431.3,303.7L428.3,301.3L428.9,295.7L430.1,290.8L427.3,288.4L427.7,286.0L431.3,282.0L434.4,279.9L434.4,270.6Z" fill="#086562"/>
<path d="M454.0,337.3L487.7,337.6L488.0,342.3L490.1,347.9L491.0,349.4L491.0,388.2L490.1,392.2L490.7,396.2L491.3,401.8L488.3,405.1L486.0,407.5L485.0,413.1L483.6,415.5L483.6,418.4L480.0,419.5L480.4,423.6L478.2,424.7L474.1,422.8L471.9,426.3L468.7,424.4L467.5,421.2L465.7,414.7L462.8,411.5L459.2,409.1L457.4,405.1L459.4,399.8L459.4,396.2L454.5,395.4L453.0,390.6L448.5,386.6L445.5,382.5L444.9,378.8L443.7,374.5L444.7,371.6L444.9,368.9L448.5,365.6L449.7,363.2L450.3,360.8L448.5,358.4L449.1,355.2L454.5,353.6L457.4,352.3L459.4,348.7L459.8,343.9L456.8,340.7Z" fill="#086562"/>
<path d="M491.0,349.4L494.9,351.5L499.4,349.4L523.3,349.4L523.3,350.4L523.2,392.2L522.8,395.4L518.7,398.6L515.7,398.1L513.3,404.3L511.5,405.5L509.7,409.9L505.6,407.5L503.2,411.0L499.6,410.2L496.1,413.1L492.5,410.7L490.1,410.7L486.6,411.8L485.0,413.1L486.0,407.5L488.3,405.1L491.3,401.8L490.7,396.2L490.1,392.2L491.0,388.2Z" fill="#086562"/>
<path d="M539.5,349.9L541.2,346.3L543.0,343.9L543.6,340.7L546.0,339.1L548.4,335.9L550.8,335.1L551.4,329.4L550.2,323.0L549.0,316.6L545.4,312.2L541.2,313.4L539.5,317.4L534.1,319.0L534.1,315.0L537.7,312.5L540.7,308.5L541.2,302.1L540.1,296.5L537.7,292.4L531.7,289.2L524.0,284.7L521.0,286.0L521.0,290.8L516.3,293.2L514.5,298.1L513.9,294.8L511.5,297.3L508.0,298.9L506.2,302.1L506.2,306.1L503.2,312.5L503.8,318.2L503.2,319.8L506.2,327.8L506.8,332.7L505.6,339.1L503.2,343.9L499.4,349.4L523.3,349.4L523.3,350.4ZM456.6,272.0L464.0,267.8L471.1,265.9L474.7,263.5L479.4,260.3L485.4,257.5L488.3,257.8L486.0,261.1L482.4,264.3L480.0,266.7L480.0,268.8L483.0,266.7L486.6,266.7L490.7,268.3L492.7,272.8L497.3,273.1L501.4,274.3L506.8,270.7L511.5,270.2L518.1,269.1L521.4,268.8L521.0,273.1L525.2,273.4L528.8,273.1L531.1,276.3L531.7,280.4L534.1,281.2L532.9,282.0L524.6,283.3L522.2,281.2L516.3,279.9L510.3,282.0L505.6,282.8L502.6,284.4L502.0,287.6L500.2,284.4L497.3,284.4L496.4,285.7L494.3,289.2L492.5,292.4L490.1,295.7L488.9,294.0L489.5,291.6L487.1,291.6L487.7,286.3L484.2,284.4L484.2,282.5L480.6,281.5L475.3,280.7L472.3,278.9L460.2,275.7ZM471.1,250.6L479.4,246.3L480.3,247.4L472.3,251.6ZM534.1,281.2L539.5,279.6L538.9,282.3Z" fill="#074b48"/>
<path d="M539.5,349.9L544.8,352.0L548.4,353.6L556.7,353.6L560.3,353.6L568.6,347.9L574.3,345.9L574.3,367.4L572.8,368.4L573.4,372.9L571.8,376.9L570.4,381.7L566.8,386.6L563.8,387.7L561.9,389.5L559.7,392.2L559.6,394.6L556.7,393.8L554.9,396.2L554.3,400.2L551.4,403.1L549.7,403.1L546.6,400.2L544.8,398.1L541.2,400.2L537.1,399.8L534.7,397.8L530.0,397.0L529.4,393.8L527.0,392.2L523.2,392.2L523.3,350.4Z" fill="#086562"/>
<path d="M523.2,392.2L527.0,392.2L529.4,393.8L530.0,397.0L534.7,397.8L537.1,399.8L541.2,400.2L544.8,398.1L546.6,400.2L549.7,403.1L549.6,406.7L551.4,410.7L553.1,414.7L557.1,417.3L553.1,421.2L548.4,424.4L547.8,426.0L543.0,430.0L536.7,432.4L523.4,432.4L503.2,431.6L484.5,431.1L484.8,434.0L467.6,434.0L471.1,431.6L471.9,426.3L474.1,422.8L478.2,424.7L480.4,423.6L480.0,419.5L483.6,418.4L483.6,415.5L485.0,413.1L486.6,411.8L490.1,410.7L492.5,410.7L496.1,413.1L499.6,410.2L503.2,411.0L505.6,407.5L509.7,409.9L511.5,405.5L513.3,404.3L515.7,398.1L518.7,398.6L522.8,395.4Z" fill="#086562"/>
<path d="M467.6,434.0L484.8,434.0L484.5,431.1L503.2,431.6L523.4,432.4L536.7,432.4L560.5,432.6L560.0,436.4L557.5,437.7L556.1,440.1L551.9,440.5L549.6,442.1L546.0,442.9L543.6,445.8L538.9,449.0L534.1,450.1L532.3,453.3L529.4,454.9L529.1,458.3L513.8,458.2L483.0,458.2L458.0,458.2L460.2,455.7L461.0,451.7L462.2,449.3L465.7,443.7L465.2,442.1L466.9,438.0Z" fill="#074b48"/>
<path d="M458.0,458.2L483.0,458.2L484.2,459.8L479.8,508.0L480.6,532.7L478.2,533.0L474.7,532.2L469.9,533.8L468.1,535.4L466.3,535.4L465.7,532.2L463.4,528.2L464.8,522.5L442.6,522.5L443.2,518.5L444.9,512.9L447.9,506.4L450.9,500.8L448.5,496.0L447.7,490.3L448.5,487.1L447.3,483.1L449.7,478.3L450.9,472.6L454.8,467.0L455.0,462.2Z" fill="#0c8a8b"/>
<path d="M483.0,458.2L513.8,458.2L516.3,475.1L518.9,492.4L521.0,500.8L520.4,506.4L519.8,512.9L520.4,517.7L521.0,522.5L490.1,522.5L492.5,528.2L491.1,534.1L487.7,534.9L485.4,534.9L486.6,532.2L486.0,528.2L484.8,528.2L484.2,532.2L483.6,533.8L480.6,532.7L479.8,508.0L484.2,459.8Z" fill="#074b48"/>
<path d="M513.8,458.2L529.1,458.3L543.5,458.2L540.8,463.0L543.6,465.4L546.0,466.5L547.8,471.0L550.2,475.1L554.3,479.9L557.3,483.1L562.6,490.3L563.6,496.0L566.2,499.2L567.2,504.8L570.4,505.9L567.4,508.0L565.6,514.5L563.8,520.9L563.2,527.2L556.7,526.5L556.1,532.8L554.3,529.4L522.7,527.2L521.0,522.5L520.4,517.7L519.8,512.9L520.4,506.4L521.0,500.8L518.9,492.4L516.3,475.1Z" fill="#086562"/>
<path d="M521.0,522.5L522.7,527.2L554.3,529.4L556.1,532.8L556.7,526.5L563.2,527.2L563.8,533.0L565.6,541.8L568.6,550.7L571.6,558.7L573.9,563.5L573.4,569.2L576.3,578.8L579.3,586.9L580.1,590.1L579.5,598.1L579.1,606.2L576.9,612.6L575.1,615.8L569.8,617.0L567.4,617.1L566.8,612.6L564.4,606.2L559.1,601.4L557.3,595.7L554.3,590.9L551.9,586.1L549.0,579.6L550.2,576.4L551.4,572.4L549.0,573.2L547.2,574.8L546.6,567.6L549.0,561.9L549.0,556.3L547.2,552.3L543.6,549.9L540.1,544.2L537.1,539.4L532.9,537.0L528.8,537.8L528.8,540.2L522.8,543.4L521.0,545.0L516.9,543.9L516.3,541.0L513.3,537.0L506.8,533.0L503.2,532.5L494.9,533.3L491.1,534.1L492.5,528.2L490.1,522.5ZM577.5,613.4L575.5,617.1L572.2,620.7L567.4,623.9L559.7,626.5L556.1,626.3L559.1,625.2L567.4,622.6L572.8,619.1L576.3,614.6Z" fill="#086562"/>
<path d="M543.5,458.2L547.8,457.0L551.9,454.9L568.1,455.7L568.1,457.5L569.4,456.6L571.2,461.1L584.4,461.4L597.7,476.5L593.6,479.9L590.6,485.5L589.4,488.7L585.2,491.9L581.7,495.2L575.7,499.2L572.8,502.4L570.4,505.9L567.2,504.8L566.2,499.2L563.6,496.0L562.6,490.3L557.3,483.1L554.3,479.9L550.2,475.1L547.8,471.0L546.0,466.5L543.6,465.4L540.8,463.0Z" fill="#086562"/>
<path d="M529.1,458.3L529.4,454.9L532.3,453.3L534.1,450.1L538.9,449.0L543.6,445.8L546.0,442.9L549.6,442.1L551.9,440.5L556.1,440.1L557.5,437.7L560.0,436.4L560.5,432.6L629.6,433.2L629.2,438.0L626.9,439.7L619.7,442.1L628.0,442.9L631.0,444.5L628.6,449.3L624.5,451.7L617.3,450.9L622.7,453.3L622.1,457.4L618.5,458.2L623.3,459.4L622.1,462.2L619.7,463.0L615.0,463.8L610.2,467.8L606.6,471.8L604.9,476.7L604.3,476.3L597.7,476.5L584.4,461.4L571.2,461.1L569.4,456.6L568.1,457.5L568.1,455.7L551.9,454.9L547.8,457.0L543.5,458.2ZM630.1,434.0L631.8,440.5L634.2,446.9L634.6,454.1L633.4,454.9L628.0,457.2L622.1,464.6L621.3,463.3L627.5,455.7L633.0,453.3L633.0,446.9L630.8,440.5L629.2,434.0Z" fill="#086562"/>
<path d="M557.1,417.3L560.5,422.8L565.9,422.1L570.4,420.5L576.9,417.5L577.9,415.8L581.0,408.9L584.6,400.6L588.8,403.1L593.9,397.5L599.5,391.1L600.1,387.5L606.3,391.7L607.6,388.7L610.2,391.9L612.6,393.0L614.7,394.9L615.7,397.0L615.6,398.6L612.6,401.8L612.6,404.3L615.9,403.5L616.2,405.9L620.9,407.5L624.5,410.7L624.5,414.7L620.3,413.1L624.5,417.1L622.7,422.0L624.5,425.2L620.3,423.6L624.5,426.8L628.0,427.3L628.6,430.0L629.6,433.2L560.5,432.6L536.7,432.4L543.0,430.0L547.8,426.0L548.4,424.4L553.1,421.2ZM632.2,410.7L631.0,414.7L628.6,419.5L628.0,422.8L628.6,424.0L630.4,421.2L632.8,416.3L635.8,411.5L637.1,409.4Z" fill="#086562"/>
<path d="M549.7,403.1L551.4,403.1L554.3,400.2L554.9,396.2L556.7,393.8L559.6,394.6L559.7,392.2L561.9,389.5L563.8,387.7L566.8,386.6L570.4,381.7L571.8,376.9L573.4,372.9L572.8,368.4L574.3,367.4L574.3,382.2L586.7,382.2L586.7,390.6L591.2,386.2L595.3,384.1L598.9,385.3L602.1,382.5L606.0,384.1L607.6,388.7L606.3,391.7L600.1,387.5L599.5,391.1L593.9,397.5L588.8,403.1L584.6,400.6L581.0,408.9L577.9,415.8L576.9,417.5L570.4,420.5L565.9,422.1L560.5,422.8L557.1,417.3L553.1,414.7L551.4,410.7L549.6,406.7Z" fill="#086562"/>
<path d="M586.7,382.2L630.5,382.2L631.7,402.5L639.3,402.6L638.7,405.1L637.1,409.4L632.2,410.7L629.6,409.9L627.8,407.5L625.7,405.4L624.5,402.2L624.1,398.9L625.7,397.3L623.9,395.7L625.1,393.0L626.6,389.3L628.6,387.0L628.0,385.0L626.9,386.6L624.5,389.0L621.5,389.8L623.1,391.4L622.5,394.6L621.9,397.8L621.9,401.0L623.5,403.8L623.3,405.9L624.1,409.1L624.5,410.7L620.9,407.5L616.2,405.9L615.9,403.5L612.6,404.3L612.6,401.8L615.6,398.6L615.7,397.0L614.7,394.9L612.6,393.0L610.2,391.9L607.6,388.7L606.0,384.1L602.1,382.5L598.9,385.3L595.3,384.1L591.2,386.2L586.7,390.6Z" fill="#086562"/>
<path d="M630.5,382.2L631.6,380.6L633.4,380.3L634.9,380.9L633.2,384.1L633.2,386.6L635.2,390.6L636.4,394.6L638.7,397.3L639.3,402.6L631.7,402.5Z" fill="#086562"/>
<path d="M574.3,345.9L583.3,341.2L583.3,345.5L635.7,345.5L639.1,349.2L643.5,355.8L641.1,358.4L638.5,362.1L638.7,364.0L637.6,367.3L639.3,368.9L640.5,371.3L642.9,374.8L638.7,378.2L634.9,380.9L633.4,380.3L631.6,380.6L630.5,382.2L586.7,382.2L574.3,382.2L574.3,367.4Z" fill="#086562"/>
<path d="M643.5,355.8L653.0,361.6L651.8,365.6L650.6,367.3L648.9,369.7L651.8,370.5L651.8,374.5L650.6,381.7L647.1,387.4L643.5,392.2L640.5,394.9L641.1,391.4L638.2,390.6L634.9,387.4L634.0,384.1L634.9,380.9L638.7,378.2L642.9,374.8L640.5,371.3L639.3,368.9L637.6,367.3L638.7,364.0L638.5,362.1L641.1,358.4Z" fill="#086562"/>
<path d="M583.3,341.2L588.2,337.5L593.6,331.9L592.4,327.8L591.8,325.1L598.3,323.5L606.6,323.8L610.2,325.4L616.2,325.1L620.9,322.2L625.7,320.6L625.7,315.8L623.9,311.4L629.2,306.9L636.4,299.7L642.9,297.3L659.7,297.1L659.6,303.7L660.1,309.3L658.6,313.4L659.6,317.4L660.7,320.6L660.6,333.5L657.9,344.7L657.5,351.2L657.2,356.8L658.0,358.2L655.0,360.0L655.9,361.6L654.2,364.0L652.7,364.8L651.6,366.4L652.4,364.0L653.0,361.6L643.5,355.8L639.1,349.2L635.7,345.5L583.3,345.5ZM651.5,367.7L654.8,368.1L660.1,367.3L666.7,365.3L672.0,363.6L677.2,360.5L673.2,361.6L670.3,362.9L672.3,359.2L667.9,361.9L661.3,362.9L656.6,363.2L654.6,364.8L652.4,365.6ZM648.9,369.3L651.0,368.1L650.6,367.3L649.4,367.6Z" fill="#086562"/>
<path d="M657.9,344.7L678.0,345.2L678.0,354.9L677.4,356.5L671.4,357.3L664.9,357.6L661.3,359.2L655.9,361.6L655.0,360.0L658.0,358.2L657.2,356.8L657.5,351.2Z" fill="#086562"/>
<path d="M678.0,345.2L683.0,345.2L683.0,347.1L683.6,349.1L685.1,350.8L686.1,353.6L685.1,354.1L683.9,352.0L683.3,349.6L682.5,352.0L682.5,354.4L681.5,355.7L677.4,356.5L678.0,354.9Z" fill="#086562"/>
<path d="M670.1,333.8L683.9,334.3L684.5,333.6L686.9,332.3L689.6,331.5L689.9,334.3L692.3,335.1L689.3,337.2L687.5,339.9L690.5,342.0L691.7,346.3L693.4,349.2L695.8,349.9L699.4,349.1L699.4,347.1L698.4,345.0L697.0,344.2L698.2,344.4L699.7,347.1L700.2,350.7L695.8,351.5L691.7,353.1L691.1,350.4L688.1,352.8L686.1,353.6L685.1,350.8L683.6,349.1L683.0,347.1L683.0,345.2L678.0,345.2L657.9,344.7L660.6,333.5ZM689.5,356.0L692.3,354.1L694.0,355.2L693.4,356.0L690.5,356.8ZM697.0,356.8L698.8,355.5L699.7,357.1L698.2,357.8Z" fill="#086562"/>
<path d="M659.7,297.1L681.5,297.1L681.0,301.3L680.4,305.3L675.6,307.7L675.0,311.7L673.2,316.6L671.4,319.8L670.8,324.6L670.3,329.4L669.1,331.5L670.1,333.8L660.6,333.5L660.7,320.6L659.6,317.4L658.6,313.4L660.1,309.3L659.6,303.7Z" fill="#086562"/>
<path d="M681.5,297.1L682.7,294.0L686.5,292.4L687.1,303.7L687.9,323.8L689.6,326.2L691.1,328.3L689.6,331.5L686.9,332.3L684.5,333.6L683.9,334.3L670.1,333.8L669.1,331.5L670.3,329.4L670.8,324.6L671.4,319.8L673.2,316.6L675.0,311.7L675.6,307.7L680.4,305.3L681.0,301.3Z" fill="#086562"/>
<path d="M686.5,292.4L689.3,293.2L689.9,290.8L691.7,290.8L694.6,285.2L696.4,282.0L695.8,278.0L698.8,274.4L708.5,257.7L710.7,260.3L712.5,262.2L719.0,259.3L725.7,264.0L725.8,282.0L726.1,284.1L729.7,287.6L729.7,292.4L731.5,294.8L733.3,294.8L735.6,300.2L734.5,302.1L731.5,301.3L730.9,303.7L727.9,303.4L727.3,305.6L724.4,304.5L723.2,307.2L720.8,305.3L719.6,309.3L717.8,306.6L716.6,309.3L714.8,306.1L713.7,308.5L713.1,305.3L711.3,307.7L711.9,310.9L709.5,311.7L708.3,314.6L705.9,313.4L705.3,316.2L703.0,314.6L701.8,317.7L699.4,316.2L697.0,319.0L695.8,321.1L694.6,323.0L692.8,325.4L691.1,328.3L689.6,326.2L687.9,323.8L687.1,303.7Z" fill="#074b48"/>
<path d="M146.3,540.6L143.0,539.0L139.7,538.7L136.4,538.5L131.9,537.7L128.6,536.1L125.3,536.4L122.0,535.6L120.9,534.2L117.6,534.5L115.4,532.9L111.8,531.6L109.8,533.4L106.5,534.5L103.2,536.4L99.9,537.2L97.7,539.8L97.2,542.5L94.4,544.6L90.6,544.7L89.3,547.5L92.2,548.8L94.4,550.9L95.9,554.1L98.6,554.9L102.1,556.8L101.0,558.6L97.7,559.7L96.4,557.0L93.3,557.8L89.9,559.4L86.4,562.1L89.3,563.7L89.9,564.5L90.4,567.4L93.3,568.2L97.7,567.6L101.2,567.9L102.3,566.3L102.5,569.0L102.1,571.1L102.5,572.9L99.9,573.5L97.0,575.6L94.4,575.6L93.5,578.0L91.9,581.1L90.8,583.3L91.9,585.9L92.8,588.6L94.4,590.2L95.7,592.8L98.8,591.7L99.2,591.2L100.1,594.9L100.3,598.9L102.5,598.4L103.9,597.6L106.1,600.0L107.2,598.4L108.1,598.4L110.9,597.8L110.1,600.8L109.6,604.5L107.6,607.9L104.3,611.4L102.5,612.9L99.9,614.8L97.7,617.5L96.8,619.0L99.2,618.0L102.1,616.4L104.3,614.3L107.2,612.9L108.7,610.0L111.8,607.6L113.6,604.7L116.7,601.8L118.5,598.6L119.1,595.5L120.9,591.7L122.4,588.0L125.3,585.4L126.6,585.4L124.4,587.0L123.8,588.6L122.4,593.1L122.2,595.5L124.6,594.9L127.3,592.5L129.7,590.7L130.4,588.0L131.9,586.4L134.4,586.4L135.2,588.3L137.9,591.2L139.7,591.5L143.0,591.7L146.3,592.3L149.0,593.9L152.3,597.0L155.1,600.0L156.9,600.8L158.9,600.8L161.3,602.9L162.9,606.1L164.9,610.3L166.4,613.5L168.4,617.2L169.9,618.8L170.6,617.2L170.6,613.5L170.2,612.4L166.6,609.8L165.7,607.4L165.3,605.8L163.1,600.2L161.8,598.1L159.6,595.5L158.5,592.8L156.2,594.7L154.0,597.6L153.8,595.7L150.3,591.2L148.5,590.7L146.3,590.2ZM156.2,601.8L158.5,601.6L159.8,605.5L158.9,607.6L157.4,605.0ZM158.2,606.1L159.8,606.6L160.4,611.9L159.6,610.3ZM160.2,601.8L161.8,604.5L161.5,607.6L160.4,606.1ZM162.0,608.2L164.2,609.8L163.3,612.4L161.5,611.4ZM162.7,611.9L165.1,615.1L166.2,619.3L164.2,619.6L162.7,615.6ZM166.4,615.1L168.0,617.2L167.1,618.0ZM121.3,602.9L121.8,605.0L119.8,607.6L117.6,609.0L116.0,606.1L117.8,603.9L119.3,602.6ZM78.2,573.7L81.5,572.1L84.9,574.3L83.1,575.8L80.0,574.0ZM88.0,590.7L91.1,589.9L91.7,591.7L89.9,592.8L88.2,591.7ZM96.4,619.7L93.7,619.2L93.6,620.8L96.1,621.5ZM92.9,620.3L91.2,621.8L91.1,623.5L92.7,622.2ZM90.4,623.2L88.4,624.6L88.3,626.2L90.2,625.0ZM87.6,625.6L86.3,626.2L86.2,627.8L87.4,627.5ZM85.5,627.2L84.0,627.6L83.9,629.3L85.3,629.1ZM83.2,628.5L82.1,628.7L82.0,630.3L83.0,630.4ZM81.3,629.6L79.6,630.0L79.4,631.6L81.1,631.4ZM78.8,630.8L77.7,630.9L77.6,632.5L78.6,632.7ZM76.9,631.7L75.6,631.9L75.5,633.6L76.7,633.6ZM74.8,632.4L73.3,631.9L73.1,633.6L74.6,634.3ZM72.5,632.4L71.4,632.3L71.3,633.9L72.3,634.3ZM70.6,633.0L69.3,633.1L69.2,634.7L70.4,634.9ZM68.5,633.9L67.4,633.8L67.3,635.4L68.3,635.8ZM66.6,634.3L65.3,634.0L65.2,635.6L66.4,636.2ZM64.5,634.9L63.4,635.3L63.3,636.9L64.3,636.7ZM62.7,636.4L61.5,636.2L61.4,637.8L62.4,638.2Z" fill="#e3f0f1"/>
<path d="M262.1,594.4L265.7,596.7L271.4,599.0L273.6,602.4L277.2,605.9L274.3,608.8L267.1,612.3L264.5,615.1L261.3,612.3L261.3,607.0L259.0,602.7L262.3,598.3ZM249.8,584.0L251.3,582.8L253.4,584.5L256.3,584.3L259.9,586.3L260.2,587.5L257.0,589.1L253.7,589.7L252.7,586.6L250.1,585.6ZM241.2,581.7L241.9,579.9L246.2,580.5L249.8,580.8L247.4,582.5ZM248.1,585.9L247.6,584.9L246.5,584.5L245.4,584.9L244.9,585.9L245.4,586.8L246.5,587.2L247.6,586.8ZM252.4,590.3L251.8,589.6L250.7,589.6L250.1,590.3L250.7,591.0L251.8,591.0ZM227.1,574.5L230.4,572.9L231.8,572.6L234.0,576.4L236.1,578.7L234.0,579.4L229.7,578.7L228.2,576.4ZM213.1,567.2L212.6,565.7L211.2,564.7L209.2,564.3L207.3,564.7L205.8,565.7L205.3,567.2L205.8,568.7L207.3,569.7L209.2,570.1L211.2,569.7L212.6,568.7ZM201.3,570.2L201.5,568.2L200.4,567.5L199.0,568.8L198.7,570.8L199.9,571.5Z" fill="#086562"/>
</g>
<g transform="translate(0,1068)" stroke="#000" stroke-opacity="0.75" stroke-width="0.48" stroke-linejoin="round">
<path d="M72.1,232.9L140.2,232.9L140.1,274.3L141.1,278.0L141.5,281.2L117.0,281.2L115.0,282.3L109.6,282.5L104.9,284.1L98.9,286.0L92.4,286.8L90.6,287.4L86.5,285.7L82.3,286.3L78.7,288.2L75.8,288.1L72.1,286.8L71.6,283.3L70.4,279.9L66.8,278.8L63.9,276.8L60.9,277.1L56.7,277.1L57.9,272.3L56.7,269.9L56.1,267.5L57.3,265.9L54.9,265.1L52.6,257.0L49.7,250.6L49.0,249.0L48.6,242.9L50.2,242.9L57.3,246.3L63.9,246.9L68.0,247.1L72.2,246.7L74.6,250.3L74.0,256.2L72.2,260.3L69.8,261.9L70.4,264.3L72.8,263.5L75.8,260.7L76.9,258.6L76.3,255.4L78.5,249.3L76.6,248.2L76.3,245.0L73.4,242.6L74.6,240.1L75.2,236.9L71.6,234.5ZM72.2,242.9L74.0,242.6L75.2,247.4L76.6,250.1L74.6,249.0L72.8,245.8ZM67.2,239.3L71.0,237.4L71.8,240.9L69.2,242.1ZM74.9,257.0L76.0,258.3L75.2,259.8Z" fill="#96301e"/>
<path d="M56.7,277.1L60.9,277.1L63.9,276.8L66.8,278.8L70.4,279.9L71.6,283.3L72.1,286.8L75.8,288.1L78.7,288.2L82.3,286.3L86.5,285.7L90.6,287.4L92.4,286.8L98.9,286.0L104.9,284.1L109.6,282.5L115.0,282.3L117.0,281.2L141.5,281.2L143.2,283.9L145.9,285.2L147.0,287.6L144.5,292.1L142.3,296.9L142.3,298.9L140.0,301.3L138.2,306.1L137.8,308.5L140.6,309.6L141.7,310.9L140.2,316.1L140.2,345.5L104.9,345.5L54.8,345.5L53.8,343.9L52.6,338.3L50.8,332.0L51.4,331.0L52.8,324.1L54.9,319.8L55.9,313.4L56.5,303.7L57.3,296.5L57.7,289.2L57.9,282.0Z" fill="#96301e"/>
<path d="M54.8,345.5L104.9,345.5L104.9,393.8L168.7,458.2L169.1,460.6L170.5,462.7L171.8,467.0L174.6,469.4L172.8,471.8L171.1,474.2L169.7,480.7L167.9,483.9L170.0,489.9L170.6,490.8L168.9,494.7L167.7,494.8L139.1,497.9L137.6,495.6L137.2,492.8L135.2,486.3L131.0,481.5L127.5,478.8L123.9,478.3L122.7,473.8L119.2,474.2L113.8,471.8L110.8,467.8L106.1,467.5L99.3,467.0L97.8,465.4L97.4,462.2L97.2,455.7L94.2,451.7L89.4,446.9L85.9,442.1L82.3,437.2L81.7,432.4L83.5,429.2L82.3,426.5L79.3,426.3L76.3,422.8L75.2,417.9L75.2,413.9L76.9,416.3L79.9,417.1L78.7,411.5L77.5,409.1L76.9,410.7L75.2,413.1L72.8,411.5L69.2,409.9L69.8,407.0L68.6,405.1L64.5,399.4L60.9,394.6L59.9,385.8L59.1,380.4L56.7,377.4L53.2,373.7L52.6,370.6L56.1,364.8L55.5,360.8L56.5,354.4L54.9,349.6ZM99.5,473.8L104.9,474.6L110.2,473.4L110.2,474.7L103.7,475.9ZM121.5,482.6L124.9,484.7L124.5,485.5L121.5,483.6ZM121.5,489.9L124.5,493.2L123.7,493.6ZM110.0,485.8L111.7,486.8L110.8,487.1Z" fill="#cf5f2b"/>
<path d="M104.9,345.5L140.2,345.5L175.7,345.5L175.6,426.0L175.6,438.9L171.5,439.7L167.4,441.7L168.5,448.5L169.4,454.9L168.7,458.2L104.9,393.8Z" fill="#cf5f2b"/>
<path d="M140.2,232.9L151.9,232.9L151.9,249.3L155.8,253.8L155.4,257.8L158.4,260.3L164.3,265.1L167.3,269.6L172.1,270.6L170.9,277.1L171.5,282.8L169.7,288.1L172.3,289.7L176.2,286.3L178.0,287.6L179.2,291.6L182.8,296.5L182.8,299.4L186.9,301.6L188.1,306.1L190.1,307.4L195.8,305.3L198.8,304.8L201.8,304.8L205.9,304.5L206.3,301.8L207.4,301.3L209.5,304.0L211.3,305.8L211.3,345.5L175.7,345.5L140.2,345.5L140.2,316.1L141.7,310.9L140.6,309.6L137.8,308.5L138.2,306.1L140.0,301.3L142.3,298.9L142.3,296.9L144.5,292.1L147.0,287.6L145.9,285.2L143.2,283.9L141.5,281.2L141.1,278.0L140.1,274.3Z" fill="#fba21c"/>
<path d="M151.9,232.9L294.5,232.9L294.5,282.1L294.5,297.3L211.3,297.3L211.3,305.8L209.5,304.0L207.4,301.3L206.3,301.8L205.9,304.5L201.8,304.8L198.8,304.8L195.8,305.3L190.1,307.4L188.1,306.1L186.9,301.6L182.8,299.4L182.8,296.5L179.2,291.6L178.0,287.6L176.2,286.3L172.3,289.7L169.7,288.1L171.5,282.8L170.9,277.1L172.1,270.6L167.3,269.6L164.3,265.1L158.4,260.3L155.4,257.8L155.8,253.8L151.9,249.3Z" fill="#e07d08"/>
<path d="M211.3,305.8L211.3,297.3L294.5,297.3L294.5,329.4L294.5,361.6L235.1,361.6L211.3,361.6L211.3,345.5Z" fill="#96301e"/>
<path d="M175.7,345.5L211.3,345.5L211.3,361.6L235.1,361.6L235.1,426.0L175.6,426.0Z" fill="#96301e"/>
<path d="M175.6,426.0L235.1,426.0L235.1,517.2L211.1,517.2L166.6,498.4L167.7,494.8L168.9,494.7L170.6,490.8L170.0,489.9L167.9,483.9L169.7,480.7L171.1,474.2L172.8,471.8L174.6,469.4L171.8,467.0L170.5,462.7L169.1,460.6L168.7,458.2L169.4,454.9L168.5,448.5L167.4,441.7L171.5,439.7L175.6,438.9Z" fill="#e07d08"/>
<path d="M235.1,361.6L294.5,361.6L318.3,361.6L318.3,377.7L318.4,426.0L307.0,426.0L235.1,426.0Z" fill="#96301e"/>
<path d="M235.1,426.0L307.0,426.0L307.0,434.0L306.3,506.4L264.0,506.4L265.0,510.0L245.1,510.0L245.1,517.2L235.1,517.2Z" fill="#96301e"/>
<path d="M294.5,232.9L375.6,232.9L377.2,237.7L376.6,242.6L377.8,249.0L380.1,255.4L380.1,261.9L381.0,266.7L381.3,271.5L383.1,276.3L383.6,282.1L294.5,282.1Z" fill="#96301e"/>
<path d="M294.5,282.1L383.6,282.1L380.1,287.6L381.9,290.8L384.9,292.4L384.9,321.4L383.1,321.4L383.9,324.6L384.9,328.2L382.9,331.9L383.9,335.1L385.0,337.6L381.9,335.1L378.4,333.5L374.8,331.7L370.0,331.9L366.5,333.1L362.9,331.0L360.5,329.4L294.5,329.4L294.5,297.3Z" fill="#e07d08"/>
<path d="M294.5,329.4L360.5,329.4L362.9,331.0L366.5,333.1L370.0,331.9L374.8,331.7L378.4,333.5L381.9,335.1L385.0,337.6L386.1,342.3L389.1,350.4L391.2,358.4L392.0,364.8L393.0,368.4L395.6,373.2L398.4,377.7L318.3,377.7L318.3,361.6L294.5,361.6Z" fill="#e07d08"/>
<path d="M318.3,377.7L398.4,377.7L402.1,379.8L403.3,381.7L400.9,385.0L402.7,389.0L406.8,392.0L406.7,426.0L318.4,426.0Z" fill="#d14a2a"/>
<path d="M318.4,426.0L406.7,426.0L406.7,434.0L408.9,451.7L408.3,480.0L403.3,478.3L398.6,476.2L392.6,476.3L387.9,478.3L383.1,476.7L378.9,475.1L376.0,478.3L370.6,474.6L367.1,476.2L365.3,472.2L359.3,471.8L352.2,470.2L350.4,467.0L346.3,467.8L342.7,465.2L342.7,434.0L307.0,434.0L307.0,426.0Z" fill="#e07d08"/>
<path d="M307.0,434.0L342.7,434.0L342.7,465.2L346.3,467.8L350.4,467.0L352.2,470.2L359.3,471.8L365.3,472.2L367.1,476.2L370.6,474.6L376.0,478.3L378.9,475.1L383.1,476.7L387.9,478.3L392.6,476.3L398.6,476.2L403.3,478.3L408.3,480.0L413.5,481.5L413.5,490.0L413.5,506.6L415.8,512.9L419.4,519.6L417.6,529.0L417.0,533.8L417.4,537.8L415.8,543.4L409.3,546.7L405.7,549.1L404.5,544.2L402.1,545.0L403.3,549.9L400.9,553.9L395.0,557.9L390.2,560.3L385.5,560.3L384.9,563.5L380.7,565.2L379.5,568.4L376.0,572.4L373.6,574.0L374.8,577.2L373.0,582.1L372.4,588.5L374.2,594.9L376.0,601.4L376.6,603.6L371.2,605.4L364.1,602.2L357.0,597.3L353.4,596.5L351.6,589.3L348.6,582.1L348.6,578.0L343.9,571.6L339.1,566.0L336.1,557.9L334.4,552.3L330.8,548.7L326.0,542.3L318.9,541.8L314.7,540.5L310.6,543.1L308.8,549.1L305.2,555.2L301.1,552.8L294.5,549.4L288.6,543.4L286.8,537.8L284.4,529.8L278.5,524.1L271.3,516.1L266.6,510.5L265.0,510.0L264.0,506.4L306.3,506.4Z" fill="#96301e"/>
<path d="M375.6,232.9L400.4,232.9L400.4,226.8L402.7,227.1L404.3,228.1L405.9,234.5L406.9,237.4L411.1,238.0L415.8,240.1L421.2,239.3L426.5,239.0L431.9,242.1L433.6,245.3L437.8,243.7L443.2,247.9L449.7,245.8L452.7,247.4L460.4,247.4L462.8,249.0L467.6,248.8L462.8,251.7L457.7,253.0L450.9,257.0L446.1,261.1L441.4,265.1L436.6,269.1L434.4,270.6L434.4,279.9L431.3,282.0L427.7,286.0L427.3,288.4L430.1,290.8L428.9,295.7L428.3,301.3L431.3,303.7L434.8,306.1L439.0,308.5L441.4,312.5L446.1,315.8L446.7,319.0L447.1,321.4L384.9,321.4L384.9,292.4L381.9,290.8L380.1,287.6L383.6,282.1L383.1,276.3L381.3,271.5L381.0,266.7L380.1,261.9L380.1,255.4L377.8,249.0L376.6,242.6L377.2,237.7Z" fill="#96301e"/>
<path d="M384.9,321.4L447.1,321.4L447.3,326.2L447.9,330.2L449.1,333.9L453.3,335.6L454.0,337.3L456.8,340.7L459.8,343.9L459.4,348.7L457.4,352.3L454.5,353.6L449.1,355.2L448.5,358.4L450.3,360.8L449.7,363.2L448.5,365.6L444.9,368.9L444.7,371.6L441.0,367.9L393.0,368.4L392.0,364.8L391.2,358.4L389.1,350.4L386.1,342.3L385.0,337.6L383.9,335.1L382.9,331.9L384.9,328.2L383.9,324.6L383.1,321.4Z" fill="#cf5f2b"/>
<path d="M393.0,368.4L441.0,367.9L444.7,371.6L443.7,374.5L444.9,378.8L445.5,382.5L448.5,386.6L453.0,390.6L454.5,395.4L459.4,396.2L459.4,399.8L457.4,405.1L459.2,409.1L462.8,411.5L465.7,414.7L467.5,421.2L468.7,424.4L471.9,426.3L471.1,431.6L467.6,434.0L466.9,438.0L465.2,442.1L457.2,442.1L459.8,434.0L406.7,434.0L406.7,426.0L406.8,392.0L402.7,389.0L400.9,385.0L403.3,381.7L402.1,379.8L398.4,377.7L395.6,373.2Z" fill="#96301e"/>
<path d="M406.7,434.0L459.8,434.0L457.2,442.1L465.2,442.1L465.7,443.7L462.2,449.3L461.0,451.7L460.2,455.7L458.0,458.2L455.0,462.2L454.8,467.0L450.9,472.6L449.7,478.3L447.3,483.1L448.5,487.1L447.7,490.3L413.5,490.0L413.5,481.5L408.3,480.0L408.9,451.7Z" fill="#e07d08"/>
<path d="M413.5,490.0L447.7,490.3L448.5,496.0L450.9,500.8L447.9,506.4L444.9,512.9L443.2,518.5L442.6,522.5L464.8,522.5L463.4,528.2L465.7,532.2L466.3,535.4L464.0,537.0L460.4,537.8L463.4,539.4L468.1,537.8L471.1,540.2L467.5,544.2L469.9,548.3L472.9,551.5L471.7,554.7L468.7,555.8L468.1,551.5L464.6,549.9L461.6,551.5L461.0,551.8L456.8,553.4L450.9,553.9L446.1,550.7L443.7,546.7L439.6,546.7L437.8,545.4L434.2,545.9L429.5,545.0L423.5,542.3L415.8,543.4L417.4,537.8L417.0,533.8L417.6,529.0L419.4,519.6L415.8,512.9L413.5,506.6Z" fill="#fba21c"/>
<path d="M436.6,269.1L440.2,269.9L447.3,267.5L451.5,265.9L452.7,267.0L450.9,271.2L455.0,271.5L456.6,272.0L460.2,275.7L472.3,278.9L475.3,280.7L480.6,281.5L484.2,282.5L484.2,284.4L487.7,286.3L487.1,291.6L489.5,291.6L488.9,294.0L490.1,295.7L487.7,298.1L485.4,302.9L486.0,304.5L488.3,302.4L492.5,299.2L494.9,295.7L497.3,292.8L497.5,294.0L496.1,296.5L493.7,300.5L491.3,306.1L491.1,310.1L489.5,313.4L488.9,317.4L486.9,323.0L486.6,328.6L487.7,332.7L487.7,337.6L454.0,337.3L453.3,335.6L449.1,333.9L447.9,330.2L447.3,326.2L447.1,321.4L446.7,319.0L446.1,315.8L441.4,312.5L439.0,308.5L434.8,306.1L431.3,303.7L428.3,301.3L428.9,295.7L430.1,290.8L427.3,288.4L427.7,286.0L431.3,282.0L434.4,279.9L434.4,270.6Z" fill="#96301e"/>
<path d="M454.0,337.3L487.7,337.6L488.0,342.3L490.1,347.9L491.0,349.4L491.0,388.2L490.1,392.2L490.7,396.2L491.3,401.8L488.3,405.1L486.0,407.5L485.0,413.1L483.6,415.5L483.6,418.4L480.0,419.5L480.4,423.6L478.2,424.7L474.1,422.8L471.9,426.3L468.7,424.4L467.5,421.2L465.7,414.7L462.8,411.5L459.2,409.1L457.4,405.1L459.4,399.8L459.4,396.2L454.5,395.4L453.0,390.6L448.5,386.6L445.5,382.5L444.9,378.8L443.7,374.5L444.7,371.6L444.9,368.9L448.5,365.6L449.7,363.2L450.3,360.8L448.5,358.4L449.1,355.2L454.5,353.6L457.4,352.3L459.4,348.7L459.8,343.9L456.8,340.7Z" fill="#cf5f2b"/>
<path d="M491.0,349.4L494.9,351.5L499.4,349.4L523.3,349.4L523.3,350.4L523.2,392.2L522.8,395.4L518.7,398.6L515.7,398.1L513.3,404.3L511.5,405.5L509.7,409.9L505.6,407.5L503.2,411.0L499.6,410.2L496.1,413.1L492.5,410.7L490.1,410.7L486.6,411.8L485.0,413.1L486.0,407.5L488.3,405.1L491.3,401.8L490.7,396.2L490.1,392.2L491.0,388.2Z" fill="#fba21c"/>
<path d="M539.5,349.9L541.2,346.3L543.0,343.9L543.6,340.7L546.0,339.1L548.4,335.9L550.8,335.1L551.4,329.4L550.2,323.0L549.0,316.6L545.4,312.2L541.2,313.4L539.5,317.4L534.1,319.0L534.1,315.0L537.7,312.5L540.7,308.5L541.2,302.1L540.1,296.5L537.7,292.4L531.7,289.2L524.0,284.7L521.0,286.0L521.0,290.8L516.3,293.2L514.5,298.1L513.9,294.8L511.5,297.3L508.0,298.9L506.2,302.1L506.2,306.1L503.2,312.5L503.8,318.2L503.2,319.8L506.2,327.8L506.8,332.7L505.6,339.1L503.2,343.9L499.4,349.4L523.3,349.4L523.3,350.4ZM456.6,272.0L464.0,267.8L471.1,265.9L474.7,263.5L479.4,260.3L485.4,257.5L488.3,257.8L486.0,261.1L482.4,264.3L480.0,266.7L480.0,268.8L483.0,266.7L486.6,266.7L490.7,268.3L492.7,272.8L497.3,273.1L501.4,274.3L506.8,270.7L511.5,270.2L518.1,269.1L521.4,268.8L521.0,273.1L525.2,273.4L528.8,273.1L531.1,276.3L531.7,280.4L534.1,281.2L532.9,282.0L524.6,283.3L522.2,281.2L516.3,279.9L510.3,282.0L505.6,282.8L502.6,284.4L502.0,287.6L500.2,284.4L497.3,284.4L496.4,285.7L494.3,289.2L492.5,292.4L490.1,295.7L488.9,294.0L489.5,291.6L487.1,291.6L487.7,286.3L484.2,284.4L484.2,282.5L480.6,281.5L475.3,280.7L472.3,278.9L460.2,275.7ZM471.1,250.6L479.4,246.3L480.3,247.4L472.3,251.6ZM534.1,281.2L539.5,279.6L538.9,282.3Z" fill="#fba21c"/>
<path d="M539.5,349.9L544.8,352.0L548.4,353.6L556.7,353.6L560.3,353.6L568.6,347.9L574.3,345.9L574.3,367.4L572.8,368.4L573.4,372.9L571.8,376.9L570.4,381.7L566.8,386.6L563.8,387.7L561.9,389.5L559.7,392.2L559.6,394.6L556.7,393.8L554.9,396.2L554.3,400.2L551.4,403.1L549.7,403.1L546.6,400.2L544.8,398.1L541.2,400.2L537.1,399.8L534.7,397.8L530.0,397.0L529.4,393.8L527.0,392.2L523.2,392.2L523.3,350.4Z" fill="#e07d08"/>
<path d="M523.2,392.2L527.0,392.2L529.4,393.8L530.0,397.0L534.7,397.8L537.1,399.8L541.2,400.2L544.8,398.1L546.6,400.2L549.7,403.1L549.6,406.7L551.4,410.7L553.1,414.7L557.1,417.3L553.1,421.2L548.4,424.4L547.8,426.0L543.0,430.0L536.7,432.4L523.4,432.4L503.2,431.6L484.5,431.1L484.8,434.0L467.6,434.0L471.1,431.6L471.9,426.3L474.1,422.8L478.2,424.7L480.4,423.6L480.0,419.5L483.6,418.4L483.6,415.5L485.0,413.1L486.6,411.8L490.1,410.7L492.5,410.7L496.1,413.1L499.6,410.2L503.2,411.0L505.6,407.5L509.7,409.9L511.5,405.5L513.3,404.3L515.7,398.1L518.7,398.6L522.8,395.4Z" fill="#fbbf70"/>
<path d="M467.6,434.0L484.8,434.0L484.5,431.1L503.2,431.6L523.4,432.4L536.7,432.4L560.5,432.6L560.0,436.4L557.5,437.7L556.1,440.1L551.9,440.5L549.6,442.1L546.0,442.9L543.6,445.8L538.9,449.0L534.1,450.1L532.3,453.3L529.4,454.9L529.1,458.3L513.8,458.2L483.0,458.2L458.0,458.2L460.2,455.7L461.0,451.7L462.2,449.3L465.7,443.7L465.2,442.1L466.9,438.0Z" fill="#cf5f2b"/>
<path d="M458.0,458.2L483.0,458.2L484.2,459.8L479.8,508.0L480.6,532.7L478.2,533.0L474.7,532.2L469.9,533.8L468.1,535.4L466.3,535.4L465.7,532.2L463.4,528.2L464.8,522.5L442.6,522.5L443.2,518.5L444.9,512.9L447.9,506.4L450.9,500.8L448.5,496.0L447.7,490.3L448.5,487.1L447.3,483.1L449.7,478.3L450.9,472.6L454.8,467.0L455.0,462.2Z" fill="#cf5f2b"/>
<path d="M483.0,458.2L513.8,458.2L516.3,475.1L518.9,492.4L521.0,500.8L520.4,506.4L519.8,512.9L520.4,517.7L521.0,522.5L490.1,522.5L492.5,528.2L491.1,534.1L487.7,534.9L485.4,534.9L486.6,532.2L486.0,528.2L484.8,528.2L484.2,532.2L483.6,533.8L480.6,532.7L479.8,508.0L484.2,459.8Z" fill="#fcb344"/>
<path d="M513.8,458.2L529.1,458.3L543.5,458.2L540.8,463.0L543.6,465.4L546.0,466.5L547.8,471.0L550.2,475.1L554.3,479.9L557.3,483.1L562.6,490.3L563.6,496.0L566.2,499.2L567.2,504.8L570.4,505.9L567.4,508.0L565.6,514.5L563.8,520.9L563.2,527.2L556.7,526.5L556.1,532.8L554.3,529.4L522.7,527.2L521.0,522.5L520.4,517.7L519.8,512.9L520.4,506.4L521.0,500.8L518.9,492.4L516.3,475.1Z" fill="#d14a2a"/>
<path d="M521.0,522.5L522.7,527.2L554.3,529.4L556.1,532.8L556.7,526.5L563.2,527.2L563.8,533.0L565.6,541.8L568.6,550.7L571.6,558.7L573.9,563.5L573.4,569.2L576.3,578.8L579.3,586.9L580.1,590.1L579.5,598.1L579.1,606.2L576.9,612.6L575.1,615.8L569.8,617.0L567.4,617.1L566.8,612.6L564.4,606.2L559.1,601.4L557.3,595.7L554.3,590.9L551.9,586.1L549.0,579.6L550.2,576.4L551.4,572.4L549.0,573.2L547.2,574.8L546.6,567.6L549.0,561.9L549.0,556.3L547.2,552.3L543.6,549.9L540.1,544.2L537.1,539.4L532.9,537.0L528.8,537.8L528.8,540.2L522.8,543.4L521.0,545.0L516.9,543.9L516.3,541.0L513.3,537.0L506.8,533.0L503.2,532.5L494.9,533.3L491.1,534.1L492.5,528.2L490.1,522.5ZM577.5,613.4L575.5,617.1L572.2,620.7L567.4,623.9L559.7,626.5L556.1,626.3L559.1,625.2L567.4,622.6L572.8,619.1L576.3,614.6Z" fill="#cf5f2b"/>
<path d="M543.5,458.2L547.8,457.0L551.9,454.9L568.1,455.7L568.1,457.5L569.4,456.6L571.2,461.1L584.4,461.4L597.7,476.5L593.6,479.9L590.6,485.5L589.4,488.7L585.2,491.9L581.7,495.2L575.7,499.2L572.8,502.4L570.4,505.9L567.2,504.8L566.2,499.2L563.6,496.0L562.6,490.3L557.3,483.1L554.3,479.9L550.2,475.1L547.8,471.0L546.0,466.5L543.6,465.4L540.8,463.0Z" fill="#fcb344"/>
<path d="M529.1,458.3L529.4,454.9L532.3,453.3L534.1,450.1L538.9,449.0L543.6,445.8L546.0,442.9L549.6,442.1L551.9,440.5L556.1,440.1L557.5,437.7L560.0,436.4L560.5,432.6L629.6,433.2L629.2,438.0L626.9,439.7L619.7,442.1L628.0,442.9L631.0,444.5L628.6,449.3L624.5,451.7L617.3,450.9L622.7,453.3L622.1,457.4L618.5,458.2L623.3,459.4L622.1,462.2L619.7,463.0L615.0,463.8L610.2,467.8L606.6,471.8L604.9,476.7L604.3,476.3L597.7,476.5L584.4,461.4L571.2,461.1L569.4,456.6L568.1,457.5L568.1,455.7L551.9,454.9L547.8,457.0L543.5,458.2ZM630.1,434.0L631.8,440.5L634.2,446.9L634.6,454.1L633.4,454.9L628.0,457.2L622.1,464.6L621.3,463.3L627.5,455.7L633.0,453.3L633.0,446.9L630.8,440.5L629.2,434.0Z" fill="#e07d08"/>
<path d="M557.1,417.3L560.5,422.8L565.9,422.1L570.4,420.5L576.9,417.5L577.9,415.8L581.0,408.9L584.6,400.6L588.8,403.1L593.9,397.5L599.5,391.1L600.1,387.5L606.3,391.7L607.6,388.7L610.2,391.9L612.6,393.0L614.7,394.9L615.7,397.0L615.6,398.6L612.6,401.8L612.6,404.3L615.9,403.5L616.2,405.9L620.9,407.5L624.5,410.7L624.5,414.7L620.3,413.1L624.5,417.1L622.7,422.0L624.5,425.2L620.3,423.6L624.5,426.8L628.0,427.3L628.6,430.0L629.6,433.2L560.5,432.6L536.7,432.4L543.0,430.0L547.8,426.0L548.4,424.4L553.1,421.2ZM632.2,410.7L631.0,414.7L628.6,419.5L628.0,422.8L628.6,424.0L630.4,421.2L632.8,416.3L635.8,411.5L637.1,409.4Z" fill="#fba21c"/>
<path d="M549.7,403.1L551.4,403.1L554.3,400.2L554.9,396.2L556.7,393.8L559.6,394.6L559.7,392.2L561.9,389.5L563.8,387.7L566.8,386.6L570.4,381.7L571.8,376.9L573.4,372.9L572.8,368.4L574.3,367.4L574.3,382.2L586.7,382.2L586.7,390.6L591.2,386.2L595.3,384.1L598.9,385.3L602.1,382.5L606.0,384.1L607.6,388.7L606.3,391.7L600.1,387.5L599.5,391.1L593.9,397.5L588.8,403.1L584.6,400.6L581.0,408.9L577.9,415.8L576.9,417.5L570.4,420.5L565.9,422.1L560.5,422.8L557.1,417.3L553.1,414.7L551.4,410.7L549.6,406.7Z" fill="#fcb344"/>
<path d="M586.7,382.2L630.5,382.2L631.7,402.5L639.3,402.6L638.7,405.1L637.1,409.4L632.2,410.7L629.6,409.9L627.8,407.5L625.7,405.4L624.5,402.2L624.1,398.9L625.7,397.3L623.9,395.7L625.1,393.0L626.6,389.3L628.6,387.0L628.0,385.0L626.9,386.6L624.5,389.0L621.5,389.8L623.1,391.4L622.5,394.6L621.9,397.8L621.9,401.0L623.5,403.8L623.3,405.9L624.1,409.1L624.5,410.7L620.9,407.5L616.2,405.9L615.9,403.5L612.6,404.3L612.6,401.8L615.6,398.6L615.7,397.0L614.7,394.9L612.6,393.0L610.2,391.9L607.6,388.7L606.0,384.1L602.1,382.5L598.9,385.3L595.3,384.1L591.2,386.2L586.7,390.6Z" fill="#f08c0a"/>
<path d="M630.5,382.2L631.6,380.6L633.4,380.3L634.9,380.9L633.2,384.1L633.2,386.6L635.2,390.6L636.4,394.6L638.7,397.3L639.3,402.6L631.7,402.5Z" fill="#fbbf70"/>
<path d="M574.3,345.9L583.3,341.2L583.3,345.5L635.7,345.5L639.1,349.2L643.5,355.8L641.1,358.4L638.5,362.1L638.7,364.0L637.6,367.3L639.3,368.9L640.5,371.3L642.9,374.8L638.7,378.2L634.9,380.9L633.4,380.3L631.6,380.6L630.5,382.2L586.7,382.2L574.3,382.2L574.3,367.4Z" fill="#d14a2a"/>
<path d="M643.5,355.8L653.0,361.6L651.8,365.6L650.6,367.3L648.9,369.7L651.8,370.5L651.8,374.5L650.6,381.7L647.1,387.4L643.5,392.2L640.5,394.9L641.1,391.4L638.2,390.6L634.9,387.4L634.0,384.1L634.9,380.9L638.7,378.2L642.9,374.8L640.5,371.3L639.3,368.9L637.6,367.3L638.7,364.0L638.5,362.1L641.1,358.4Z" fill="#d14a2a"/>
<path d="M583.3,341.2L588.2,337.5L593.6,331.9L592.4,327.8L591.8,325.1L598.3,323.5L606.6,323.8L610.2,325.4L616.2,325.1L620.9,322.2L625.7,320.6L625.7,315.8L623.9,311.4L629.2,306.9L636.4,299.7L642.9,297.3L659.7,297.1L659.6,303.7L660.1,309.3L658.6,313.4L659.6,317.4L660.7,320.6L660.6,333.5L657.9,344.7L657.5,351.2L657.2,356.8L658.0,358.2L655.0,360.0L655.9,361.6L654.2,364.0L652.7,364.8L651.6,366.4L652.4,364.0L653.0,361.6L643.5,355.8L639.1,349.2L635.7,345.5L583.3,345.5ZM651.5,367.7L654.8,368.1L660.1,367.3L666.7,365.3L672.0,363.6L677.2,360.5L673.2,361.6L670.3,362.9L672.3,359.2L667.9,361.9L661.3,362.9L656.6,363.2L654.6,364.8L652.4,365.6ZM648.9,369.3L651.0,368.1L650.6,367.3L649.4,367.6Z" fill="#d14a2a"/>
<path d="M657.9,344.7L678.0,345.2L678.0,354.9L677.4,356.5L671.4,357.3L664.9,357.6L661.3,359.2L655.9,361.6L655.0,360.0L658.0,358.2L657.2,356.8L657.5,351.2Z" fill="#96301e"/>
<path d="M678.0,345.2L683.0,345.2L683.0,347.1L683.6,349.1L685.1,350.8L686.1,353.6L685.1,354.1L683.9,352.0L683.3,349.6L682.5,352.0L682.5,354.4L681.5,355.7L677.4,356.5L678.0,354.9Z" fill="#fee4c3"/>
<path d="M670.1,333.8L683.9,334.3L684.5,333.6L686.9,332.3L689.6,331.5L689.9,334.3L692.3,335.1L689.3,337.2L687.5,339.9L690.5,342.0L691.7,346.3L693.4,349.2L695.8,349.9L699.4,349.1L699.4,347.1L698.4,345.0L697.0,344.2L698.2,344.4L699.7,347.1L700.2,350.7L695.8,351.5L691.7,353.1L691.1,350.4L688.1,352.8L686.1,353.6L685.1,350.8L683.6,349.1L683.0,347.1L683.0,345.2L678.0,345.2L657.9,344.7L660.6,333.5ZM689.5,356.0L692.3,354.1L694.0,355.2L693.4,356.0L690.5,356.8ZM697.0,356.8L698.8,355.5L699.7,357.1L698.2,357.8Z" fill="#f08c0a"/>
<path d="M659.7,297.1L681.5,297.1L681.0,301.3L680.4,305.3L675.6,307.7L675.0,311.7L673.2,316.6L671.4,319.8L670.8,324.6L670.3,329.4L669.1,331.5L670.1,333.8L660.6,333.5L660.7,320.6L659.6,317.4L658.6,313.4L660.1,309.3L659.6,303.7Z" fill="#fccf8c"/>
<path d="M681.5,297.1L682.7,294.0L686.5,292.4L687.1,303.7L687.9,323.8L689.6,326.2L691.1,328.3L689.6,331.5L686.9,332.3L684.5,333.6L683.9,334.3L670.1,333.8L669.1,331.5L670.3,329.4L670.8,324.6L671.4,319.8L673.2,316.6L675.0,311.7L675.6,307.7L680.4,305.3L681.0,301.3Z" fill="#96301e"/>
<path d="M686.5,292.4L689.3,293.2L689.9,290.8L691.7,290.8L694.6,285.2L696.4,282.0L695.8,278.0L698.8,274.4L708.5,257.7L710.7,260.3L712.5,262.2L719.0,259.3L725.7,264.0L725.8,282.0L726.1,284.1L729.7,287.6L729.7,292.4L731.5,294.8L733.3,294.8L735.6,300.2L734.5,302.1L731.5,301.3L730.9,303.7L727.9,303.4L727.3,305.6L724.4,304.5L723.2,307.2L720.8,305.3L719.6,309.3L717.8,306.6L716.6,309.3L714.8,306.1L713.7,308.5L713.1,305.3L711.3,307.7L711.9,310.9L709.5,311.7L708.3,314.6L705.9,313.4L705.3,316.2L703.0,314.6L701.8,317.7L699.4,316.2L697.0,319.0L695.8,321.1L694.6,323.0L692.8,325.4L691.1,328.3L689.6,326.2L687.9,323.8L687.1,303.7Z" fill="#fccf8c"/>
<path d="M146.3,540.6L143.0,539.0L139.7,538.7L136.4,538.5L131.9,537.7L128.6,536.1L125.3,536.4L122.0,535.6L120.9,534.2L117.6,534.5L115.4,532.9L111.8,531.6L109.8,533.4L106.5,534.5L103.2,536.4L99.9,537.2L97.7,539.8L97.2,542.5L94.4,544.6L90.6,544.7L89.3,547.5L92.2,548.8L94.4,550.9L95.9,554.1L98.6,554.9L102.1,556.8L101.0,558.6L97.7,559.7L96.4,557.0L93.3,557.8L89.9,559.4L86.4,562.1L89.3,563.7L89.9,564.5L90.4,567.4L93.3,568.2L97.7,567.6L101.2,567.9L102.3,566.3L102.5,569.0L102.1,571.1L102.5,572.9L99.9,573.5L97.0,575.6L94.4,575.6L93.5,578.0L91.9,581.1L90.8,583.3L91.9,585.9L92.8,588.6L94.4,590.2L95.7,592.8L98.8,591.7L99.2,591.2L100.1,594.9L100.3,598.9L102.5,598.4L103.9,597.6L106.1,600.0L107.2,598.4L108.1,598.4L110.9,597.8L110.1,600.8L109.6,604.5L107.6,607.9L104.3,611.4L102.5,612.9L99.9,614.8L97.7,617.5L96.8,619.0L99.2,618.0L102.1,616.4L104.3,614.3L107.2,612.9L108.7,610.0L111.8,607.6L113.6,604.7L116.7,601.8L118.5,598.6L119.1,595.5L120.9,591.7L122.4,588.0L125.3,585.4L126.6,585.4L124.4,587.0L123.8,588.6L122.4,593.1L122.2,595.5L124.6,594.9L127.3,592.5L129.7,590.7L130.4,588.0L131.9,586.4L134.4,586.4L135.2,588.3L137.9,591.2L139.7,591.5L143.0,591.7L146.3,592.3L149.0,593.9L152.3,597.0L155.1,600.0L156.9,600.8L158.9,600.8L161.3,602.9L162.9,606.1L164.9,610.3L166.4,613.5L168.4,617.2L169.9,618.8L170.6,617.2L170.6,613.5L170.2,612.4L166.6,609.8L165.7,607.4L165.3,605.8L163.1,600.2L161.8,598.1L159.6,595.5L158.5,592.8L156.2,594.7L154.0,597.6L153.8,595.7L150.3,591.2L148.5,590.7L146.3,590.2ZM156.2,601.8L158.5,601.6L159.8,605.5L158.9,607.6L157.4,605.0ZM158.2,606.1L159.8,606.6L160.4,611.9L159.6,610.3ZM160.2,601.8L161.8,604.5L161.5,607.6L160.4,606.1ZM162.0,608.2L164.2,609.8L163.3,612.4L161.5,611.4ZM162.7,611.9L165.1,615.1L166.2,619.3L164.2,619.6L162.7,615.6ZM166.4,615.1L168.0,617.2L167.1,618.0ZM121.3,602.9L121.8,605.0L119.8,607.6L117.6,609.0L116.0,606.1L117.8,603.9L119.3,602.6ZM78.2,573.7L81.5,572.1L84.9,574.3L83.1,575.8L80.0,574.0ZM88.0,590.7L91.1,589.9L91.7,591.7L89.9,592.8L88.2,591.7ZM96.4,619.7L93.7,619.2L93.6,620.8L96.1,621.5ZM92.9,620.3L91.2,621.8L91.1,623.5L92.7,622.2ZM90.4,623.2L88.4,624.6L88.3,626.2L90.2,625.0ZM87.6,625.6L86.3,626.2L86.2,627.8L87.4,627.5ZM85.5,627.2L84.0,627.6L83.9,629.3L85.3,629.1ZM83.2,628.5L82.1,628.7L82.0,630.3L83.0,630.4ZM81.3,629.6L79.6,630.0L79.4,631.6L81.1,631.4ZM78.8,630.8L77.7,630.9L77.6,632.5L78.6,632.7ZM76.9,631.7L75.6,631.9L75.5,633.6L76.7,633.6ZM74.8,632.4L73.3,631.9L73.1,633.6L74.6,634.3ZM72.5,632.4L71.4,632.3L71.3,633.9L72.3,634.3ZM70.6,633.0L69.3,633.1L69.2,634.7L70.4,634.9ZM68.5,633.9L67.4,633.8L67.3,635.4L68.3,635.8ZM66.6,634.3L65.3,634.0L65.2,635.6L66.4,636.2ZM64.5,634.9L63.4,635.3L63.3,636.9L64.3,636.7ZM62.7,636.4L61.5,636.2L61.4,637.8L62.4,638.2Z" fill="#96301e"/>
<path d="M262.1,594.4L265.7,596.7L271.4,599.0L273.6,602.4L277.2,605.9L274.3,608.8L267.1,612.3L264.5,615.1L261.3,612.3L261.3,607.0L259.0,602.7L262.3,598.3ZM249.8,584.0L251.3,582.8L253.4,584.5L256.3,584.3L259.9,586.3L260.2,587.5L257.0,589.1L253.7,589.7L252.7,586.6L250.1,585.6ZM241.2,581.7L241.9,579.9L246.2,580.5L249.8,580.8L247.4,582.5ZM248.1,585.9L247.6,584.9L246.5,584.5L245.4,584.9L244.9,585.9L245.4,586.8L246.5,587.2L247.6,586.8ZM252.4,590.3L251.8,589.6L250.7,589.6L250.1,590.3L250.7,591.0L251.8,591.0ZM227.1,574.5L230.4,572.9L231.8,572.6L234.0,576.4L236.1,578.7L234.0,579.4L229.7,578.7L228.2,576.4ZM213.1,567.2L212.6,565.7L211.2,564.7L209.2,564.3L207.3,564.7L205.8,565.7L205.3,567.2L205.8,568.7L207.3,569.7L209.2,570.1L211.2,569.7L212.6,568.7ZM201.3,570.2L201.5,568.2L200.4,567.5L199.0,568.8L198.7,570.8L199.9,571.5Z" fill="#96301e"/>
</g>
<g transform="translate(998.2,1068)" stroke="#000" stroke-opacity="0.75" stroke-width="0.48" stroke-linejoin="round">
<path d="M72.1,232.9L140.2,232.9L140.1,274.3L141.1,278.0L141.5,281.2L117.0,281.2L115.0,282.3L109.6,282.5L104.9,284.1L98.9,286.0L92.4,286.8L90.6,287.4L86.5,285.7L82.3,286.3L78.7,288.2L75.8,288.1L72.1,286.8L71.6,283.3L70.4,279.9L66.8,278.8L63.9,276.8L60.9,277.1L56.7,277.1L57.9,272.3L56.7,269.9L56.1,267.5L57.3,265.9L54.9,265.1L52.6,257.0L49.7,250.6L49.0,249.0L48.6,242.9L50.2,242.9L57.3,246.3L63.9,246.9L68.0,247.1L72.2,246.7L74.6,250.3L74.0,256.2L72.2,260.3L69.8,261.9L70.4,264.3L72.8,263.5L75.8,260.7L76.9,258.6L76.3,255.4L78.5,249.3L76.6,248.2L76.3,245.0L73.4,242.6L74.6,240.1L75.2,236.9L71.6,234.5ZM72.2,242.9L74.0,242.6L75.2,247.4L76.6,250.1L74.6,249.0L72.8,245.8ZM67.2,239.3L71.0,237.4L71.8,240.9L69.2,242.1ZM74.9,257.0L76.0,258.3L75.2,259.8Z" fill="#074b48"/>
<path d="M56.7,277.1L60.9,277.1L63.9,276.8L66.8,278.8L70.4,279.9L71.6,283.3L72.1,286.8L75.8,288.1L78.7,288.2L82.3,286.3L86.5,285.7L90.6,287.4L92.4,286.8L98.9,286.0L104.9,284.1L109.6,282.5L115.0,282.3L117.0,281.2L141.5,281.2L143.2,283.9L145.9,285.2L147.0,287.6L144.5,292.1L142.3,296.9L142.3,298.9L140.0,301.3L138.2,306.1L137.8,308.5L140.6,309.6L141.7,310.9L140.2,316.1L140.2,345.5L104.9,345.5L54.8,345.5L53.8,343.9L52.6,338.3L50.8,332.0L51.4,331.0L52.8,324.1L54.9,319.8L55.9,313.4L56.5,303.7L57.3,296.5L57.7,289.2L57.9,282.0Z" fill="#074b48"/>
<path d="M54.8,345.5L104.9,345.5L104.9,393.8L168.7,458.2L169.1,460.6L170.5,462.7L171.8,467.0L174.6,469.4L172.8,471.8L171.1,474.2L169.7,480.7L167.9,483.9L170.0,489.9L170.6,490.8L168.9,494.7L167.7,494.8L139.1,497.9L137.6,495.6L137.2,492.8L135.2,486.3L131.0,481.5L127.5,478.8L123.9,478.3L122.7,473.8L119.2,474.2L113.8,471.8L110.8,467.8L106.1,467.5L99.3,467.0L97.8,465.4L97.4,462.2L97.2,455.7L94.2,451.7L89.4,446.9L85.9,442.1L82.3,437.2L81.7,432.4L83.5,429.2L82.3,426.5L79.3,426.3L76.3,422.8L75.2,417.9L75.2,413.9L76.9,416.3L79.9,417.1L78.7,411.5L77.5,409.1L76.9,410.7L75.2,413.1L72.8,411.5L69.2,409.9L69.8,407.0L68.6,405.1L64.5,399.4L60.9,394.6L59.9,385.8L59.1,380.4L56.7,377.4L53.2,373.7L52.6,370.6L56.1,364.8L55.5,360.8L56.5,354.4L54.9,349.6ZM99.5,473.8L104.9,474.6L110.2,473.4L110.2,474.7L103.7,475.9ZM121.5,482.6L124.9,484.7L124.5,485.5L121.5,483.6ZM121.5,489.9L124.5,493.2L123.7,493.6ZM110.0,485.8L111.7,486.8L110.8,487.1Z" fill="#086562"/>
<path d="M104.9,345.5L140.2,345.5L175.7,345.5L175.6,426.0L175.6,438.9L171.5,439.7L167.4,441.7L168.5,448.5L169.4,454.9L168.7,458.2L104.9,393.8Z" fill="#086562"/>
<path d="M140.2,232.9L151.9,232.9L151.9,249.3L155.8,253.8L155.4,257.8L158.4,260.3L164.3,265.1L167.3,269.6L172.1,270.6L170.9,277.1L171.5,282.8L169.7,288.1L172.3,289.7L176.2,286.3L178.0,287.6L179.2,291.6L182.8,296.5L182.8,299.4L186.9,301.6L188.1,306.1L190.1,307.4L195.8,305.3L198.8,304.8L201.8,304.8L205.9,304.5L206.3,301.8L207.4,301.3L209.5,304.0L211.3,305.8L211.3,345.5L175.7,345.5L140.2,345.5L140.2,316.1L141.7,310.9L140.6,309.6L137.8,308.5L138.2,306.1L140.0,301.3L142.3,298.9L142.3,296.9L144.5,292.1L147.0,287.6L145.9,285.2L143.2,283.9L141.5,281.2L141.1,278.0L140.1,274.3Z" fill="#074b48"/>
<path d="M151.9,232.9L294.5,232.9L294.5,282.1L294.5,297.3L211.3,297.3L211.3,305.8L209.5,304.0L207.4,301.3L206.3,301.8L205.9,304.5L201.8,304.8L198.8,304.8L195.8,305.3L190.1,307.4L188.1,306.1L186.9,301.6L182.8,299.4L182.8,296.5L179.2,291.6L178.0,287.6L176.2,286.3L172.3,289.7L169.7,288.1L171.5,282.8L170.9,277.1L172.1,270.6L167.3,269.6L164.3,265.1L158.4,260.3L155.4,257.8L155.8,253.8L151.9,249.3Z" fill="#074b48"/>
<path d="M211.3,305.8L211.3,297.3L294.5,297.3L294.5,329.4L294.5,361.6L235.1,361.6L211.3,361.6L211.3,345.5Z" fill="#074b48"/>
<path d="M175.7,345.5L211.3,345.5L211.3,361.6L235.1,361.6L235.1,426.0L175.6,426.0Z" fill="#086562"/>
<path d="M175.6,426.0L235.1,426.0L235.1,517.2L211.1,517.2L166.6,498.4L167.7,494.8L168.9,494.7L170.6,490.8L170.0,489.9L167.9,483.9L169.7,480.7L171.1,474.2L172.8,471.8L174.6,469.4L171.8,467.0L170.5,462.7L169.1,460.6L168.7,458.2L169.4,454.9L168.5,448.5L167.4,441.7L171.5,439.7L175.6,438.9Z" fill="#074b48"/>
<path d="M235.1,361.6L294.5,361.6L318.3,361.6L318.3,377.7L318.4,426.0L307.0,426.0L235.1,426.0Z" fill="#074b48"/>
<path d="M235.1,426.0L307.0,426.0L307.0,434.0L306.3,506.4L264.0,506.4L265.0,510.0L245.1,510.0L245.1,517.2L235.1,517.2Z" fill="#086562"/>
<path d="M294.5,232.9L375.6,232.9L377.2,237.7L376.6,242.6L377.8,249.0L380.1,255.4L380.1,261.9L381.0,266.7L381.3,271.5L383.1,276.3L383.6,282.1L294.5,282.1Z" fill="#074b48"/>
<path d="M294.5,282.1L383.6,282.1L380.1,287.6L381.9,290.8L384.9,292.4L384.9,321.4L383.1,321.4L383.9,324.6L384.9,328.2L382.9,331.9L383.9,335.1L385.0,337.6L381.9,335.1L378.4,333.5L374.8,331.7L370.0,331.9L366.5,333.1L362.9,331.0L360.5,329.4L294.5,329.4L294.5,297.3Z" fill="#074b48"/>
<path d="M294.5,329.4L360.5,329.4L362.9,331.0L366.5,333.1L370.0,331.9L374.8,331.7L378.4,333.5L381.9,335.1L385.0,337.6L386.1,342.3L389.1,350.4L391.2,358.4L392.0,364.8L393.0,368.4L395.6,373.2L398.4,377.7L318.3,377.7L318.3,361.6L294.5,361.6Z" fill="#074b48"/>
<path d="M318.3,377.7L398.4,377.7L402.1,379.8L403.3,381.7L400.9,385.0L402.7,389.0L406.8,392.0L406.7,426.0L318.4,426.0Z" fill="#074b48"/>
<path d="M318.4,426.0L406.7,426.0L406.7,434.0L408.9,451.7L408.3,480.0L403.3,478.3L398.6,476.2L392.6,476.3L387.9,478.3L383.1,476.7L378.9,475.1L376.0,478.3L370.6,474.6L367.1,476.2L365.3,472.2L359.3,471.8L352.2,470.2L350.4,467.0L346.3,467.8L342.7,465.2L342.7,434.0L307.0,434.0L307.0,426.0Z" fill="#074b48"/>
<path d="M307.0,434.0L342.7,434.0L342.7,465.2L346.3,467.8L350.4,467.0L352.2,470.2L359.3,471.8L365.3,472.2L367.1,476.2L370.6,474.6L376.0,478.3L378.9,475.1L383.1,476.7L387.9,478.3L392.6,476.3L398.6,476.2L403.3,478.3L408.3,480.0L413.5,481.5L413.5,490.0L413.5,506.6L415.8,512.9L419.4,519.6L417.6,529.0L417.0,533.8L417.4,537.8L415.8,543.4L409.3,546.7L405.7,549.1L404.5,544.2L402.1,545.0L403.3,549.9L400.9,553.9L395.0,557.9L390.2,560.3L385.5,560.3L384.9,563.5L380.7,565.2L379.5,568.4L376.0,572.4L373.6,574.0L374.8,577.2L373.0,582.1L372.4,588.5L374.2,594.9L376.0,601.4L376.6,603.6L371.2,605.4L364.1,602.2L357.0,597.3L353.4,596.5L351.6,589.3L348.6,582.1L348.6,578.0L343.9,571.6L339.1,566.0L336.1,557.9L334.4,552.3L330.8,548.7L326.0,542.3L318.9,541.8L314.7,540.5L310.6,543.1L308.8,549.1L305.2,555.2L301.1,552.8L294.5,549.4L288.6,543.4L286.8,537.8L284.4,529.8L278.5,524.1L271.3,516.1L266.6,510.5L265.0,510.0L264.0,506.4L306.3,506.4Z" fill="#074b48"/>
<path d="M375.6,232.9L400.4,232.9L400.4,226.8L402.7,227.1L404.3,228.1L405.9,234.5L406.9,237.4L411.1,238.0L415.8,240.1L421.2,239.3L426.5,239.0L431.9,242.1L433.6,245.3L437.8,243.7L443.2,247.9L449.7,245.8L452.7,247.4L460.4,247.4L462.8,249.0L467.6,248.8L462.8,251.7L457.7,253.0L450.9,257.0L446.1,261.1L441.4,265.1L436.6,269.1L434.4,270.6L434.4,279.9L431.3,282.0L427.7,286.0L427.3,288.4L430.1,290.8L428.9,295.7L428.3,301.3L431.3,303.7L434.8,306.1L439.0,308.5L441.4,312.5L446.1,315.8L446.7,319.0L447.1,321.4L384.9,321.4L384.9,292.4L381.9,290.8L380.1,287.6L383.6,282.1L383.1,276.3L381.3,271.5L381.0,266.7L380.1,261.9L380.1,255.4L377.8,249.0L376.6,242.6L377.2,237.7Z" fill="#074b48"/>
<path d="M384.9,321.4L447.1,321.4L447.3,326.2L447.9,330.2L449.1,333.9L453.3,335.6L454.0,337.3L456.8,340.7L459.8,343.9L459.4,348.7L457.4,352.3L454.5,353.6L449.1,355.2L448.5,358.4L450.3,360.8L449.7,363.2L448.5,365.6L444.9,368.9L444.7,371.6L441.0,367.9L393.0,368.4L392.0,364.8L391.2,358.4L389.1,350.4L386.1,342.3L385.0,337.6L383.9,335.1L382.9,331.9L384.9,328.2L383.9,324.6L383.1,321.4Z" fill="#086562"/>
<path d="M393.0,368.4L441.0,367.9L444.7,371.6L443.7,374.5L444.9,378.8L445.5,382.5L448.5,386.6L453.0,390.6L454.5,395.4L459.4,396.2L459.4,399.8L457.4,405.1L459.2,409.1L462.8,411.5L465.7,414.7L467.5,421.2L468.7,424.4L471.9,426.3L471.1,431.6L467.6,434.0L466.9,438.0L465.2,442.1L457.2,442.1L459.8,434.0L406.7,434.0L406.7,426.0L406.8,392.0L402.7,389.0L400.9,385.0L403.3,381.7L402.1,379.8L398.4,377.7L395.6,373.2Z" fill="#086562"/>
<path d="M406.7,434.0L459.8,434.0L457.2,442.1L465.2,442.1L465.7,443.7L462.2,449.3L461.0,451.7L460.2,455.7L458.0,458.2L455.0,462.2L454.8,467.0L450.9,472.6L449.7,478.3L447.3,483.1L448.5,487.1L447.7,490.3L413.5,490.0L413.5,481.5L408.3,480.0L408.9,451.7Z" fill="#086562"/>
<path d="M413.5,490.0L447.7,490.3L448.5,496.0L450.9,500.8L447.9,506.4L444.9,512.9L443.2,518.5L442.6,522.5L464.8,522.5L463.4,528.2L465.7,532.2L466.3,535.4L464.0,537.0L460.4,537.8L463.4,539.4L468.1,537.8L471.1,540.2L467.5,544.2L469.9,548.3L472.9,551.5L471.7,554.7L468.7,555.8L468.1,551.5L464.6,549.9L461.6,551.5L461.0,551.8L456.8,553.4L450.9,553.9L446.1,550.7L443.7,546.7L439.6,546.7L437.8,545.4L434.2,545.9L429.5,545.0L423.5,542.3L415.8,543.4L417.4,537.8L417.0,533.8L417.6,529.0L419.4,519.6L415.8,512.9L413.5,506.6Z" fill="#074b48"/>
<path d="M436.6,269.1L440.2,269.9L447.3,267.5L451.5,265.9L452.7,267.0L450.9,271.2L455.0,271.5L456.6,272.0L460.2,275.7L472.3,278.9L475.3,280.7L480.6,281.5L484.2,282.5L484.2,284.4L487.7,286.3L487.1,291.6L489.5,291.6L488.9,294.0L490.1,295.7L487.7,298.1L485.4,302.9L486.0,304.5L488.3,302.4L492.5,299.2L494.9,295.7L497.3,292.8L497.5,294.0L496.1,296.5L493.7,300.5L491.3,306.1L491.1,310.1L489.5,313.4L488.9,317.4L486.9,323.0L486.6,328.6L487.7,332.7L487.7,337.6L454.0,337.3L453.3,335.6L449.1,333.9L447.9,330.2L447.3,326.2L447.1,321.4L446.7,319.0L446.1,315.8L441.4,312.5L439.0,308.5L434.8,306.1L431.3,303.7L428.3,301.3L428.9,295.7L430.1,290.8L427.3,288.4L427.7,286.0L431.3,282.0L434.4,279.9L434.4,270.6Z" fill="#074b48"/>
<path d="M454.0,337.3L487.7,337.6L488.0,342.3L490.1,347.9L491.0,349.4L491.0,388.2L490.1,392.2L490.7,396.2L491.3,401.8L488.3,405.1L486.0,407.5L485.0,413.1L483.6,415.5L483.6,418.4L480.0,419.5L480.4,423.6L478.2,424.7L474.1,422.8L471.9,426.3L468.7,424.4L467.5,421.2L465.7,414.7L462.8,411.5L459.2,409.1L457.4,405.1L459.4,399.8L459.4,396.2L454.5,395.4L453.0,390.6L448.5,386.6L445.5,382.5L444.9,378.8L443.7,374.5L444.7,371.6L444.9,368.9L448.5,365.6L449.7,363.2L450.3,360.8L448.5,358.4L449.1,355.2L454.5,353.6L457.4,352.3L459.4,348.7L459.8,343.9L456.8,340.7Z" fill="#074b48"/>
<path d="M491.0,349.4L494.9,351.5L499.4,349.4L523.3,349.4L523.3,350.4L523.2,392.2L522.8,395.4L518.7,398.6L515.7,398.1L513.3,404.3L511.5,405.5L509.7,409.9L505.6,407.5L503.2,411.0L499.6,410.2L496.1,413.1L492.5,410.7L490.1,410.7L486.6,411.8L485.0,413.1L486.0,407.5L488.3,405.1L491.3,401.8L490.7,396.2L490.1,392.2L491.0,388.2Z" fill="#074b48"/>
<path d="M539.5,349.9L541.2,346.3L543.0,343.9L543.6,340.7L546.0,339.1L548.4,335.9L550.8,335.1L551.4,329.4L550.2,323.0L549.0,316.6L545.4,312.2L541.2,313.4L539.5,317.4L534.1,319.0L534.1,315.0L537.7,312.5L540.7,308.5L541.2,302.1L540.1,296.5L537.7,292.4L531.7,289.2L524.0,284.7L521.0,286.0L521.0,290.8L516.3,293.2L514.5,298.1L513.9,294.8L511.5,297.3L508.0,298.9L506.2,302.1L506.2,306.1L503.2,312.5L503.8,318.2L503.2,319.8L506.2,327.8L506.8,332.7L505.6,339.1L503.2,343.9L499.4,349.4L523.3,349.4L523.3,350.4ZM456.6,272.0L464.0,267.8L471.1,265.9L474.7,263.5L479.4,260.3L485.4,257.5L488.3,257.8L486.0,261.1L482.4,264.3L480.0,266.7L480.0,268.8L483.0,266.7L486.6,266.7L490.7,268.3L492.7,272.8L497.3,273.1L501.4,274.3L506.8,270.7L511.5,270.2L518.1,269.1L521.4,268.8L521.0,273.1L525.2,273.4L528.8,273.1L531.1,276.3L531.7,280.4L534.1,281.2L532.9,282.0L524.6,283.3L522.2,281.2L516.3,279.9L510.3,282.0L505.6,282.8L502.6,284.4L502.0,287.6L500.2,284.4L497.3,284.4L496.4,285.7L494.3,289.2L492.5,292.4L490.1,295.7L488.9,294.0L489.5,291.6L487.1,291.6L487.7,286.3L484.2,284.4L484.2,282.5L480.6,281.5L475.3,280.7L472.3,278.9L460.2,275.7ZM471.1,250.6L479.4,246.3L480.3,247.4L472.3,251.6ZM534.1,281.2L539.5,279.6L538.9,282.3Z" fill="#074b48"/>
<path d="M539.5,349.9L544.8,352.0L548.4,353.6L556.7,353.6L560.3,353.6L568.6,347.9L574.3,345.9L574.3,367.4L572.8,368.4L573.4,372.9L571.8,376.9L570.4,381.7L566.8,386.6L563.8,387.7L561.9,389.5L559.7,392.2L559.6,394.6L556.7,393.8L554.9,396.2L554.3,400.2L551.4,403.1L549.7,403.1L546.6,400.2L544.8,398.1L541.2,400.2L537.1,399.8L534.7,397.8L530.0,397.0L529.4,393.8L527.0,392.2L523.2,392.2L523.3,350.4Z" fill="#074b48"/>
<path d="M523.2,392.2L527.0,392.2L529.4,393.8L530.0,397.0L534.7,397.8L537.1,399.8L541.2,400.2L544.8,398.1L546.6,400.2L549.7,403.1L549.6,406.7L551.4,410.7L553.1,414.7L557.1,417.3L553.1,421.2L548.4,424.4L547.8,426.0L543.0,430.0L536.7,432.4L523.4,432.4L503.2,431.6L484.5,431.1L484.8,434.0L467.6,434.0L471.1,431.6L471.9,426.3L474.1,422.8L478.2,424.7L480.4,423.6L480.0,419.5L483.6,418.4L483.6,415.5L485.0,413.1L486.6,411.8L490.1,410.7L492.5,410.7L496.1,413.1L499.6,410.2L503.2,411.0L505.6,407.5L509.7,409.9L511.5,405.5L513.3,404.3L515.7,398.1L518.7,398.6L522.8,395.4Z" fill="#074b48"/>
<path d="M467.6,434.0L484.8,434.0L484.5,431.1L503.2,431.6L523.4,432.4L536.7,432.4L560.5,432.6L560.0,436.4L557.5,437.7L556.1,440.1L551.9,440.5L549.6,442.1L546.0,442.9L543.6,445.8L538.9,449.0L534.1,450.1L532.3,453.3L529.4,454.9L529.1,458.3L513.8,458.2L483.0,458.2L458.0,458.2L460.2,455.7L461.0,451.7L462.2,449.3L465.7,443.7L465.2,442.1L466.9,438.0Z" fill="#074b48"/>
<path d="M458.0,458.2L483.0,458.2L484.2,459.8L479.8,508.0L480.6,532.7L478.2,533.0L474.7,532.2L469.9,533.8L468.1,535.4L466.3,535.4L465.7,532.2L463.4,528.2L464.8,522.5L442.6,522.5L443.2,518.5L444.9,512.9L447.9,506.4L450.9,500.8L448.5,496.0L447.7,490.3L448.5,487.1L447.3,483.1L449.7,478.3L450.9,472.6L454.8,467.0L455.0,462.2Z" fill="#086562"/>
<path d="M483.0,458.2L513.8,458.2L516.3,475.1L518.9,492.4L521.0,500.8L520.4,506.4L519.8,512.9L520.4,517.7L521.0,522.5L490.1,522.5L492.5,528.2L491.1,534.1L487.7,534.9L485.4,534.9L486.6,532.2L486.0,528.2L484.8,528.2L484.2,532.2L483.6,533.8L480.6,532.7L479.8,508.0L484.2,459.8Z" fill="#074b48"/>
<path d="M513.8,458.2L529.1,458.3L543.5,458.2L540.8,463.0L543.6,465.4L546.0,466.5L547.8,471.0L550.2,475.1L554.3,479.9L557.3,483.1L562.6,490.3L563.6,496.0L566.2,499.2L567.2,504.8L570.4,505.9L567.4,508.0L565.6,514.5L563.8,520.9L563.2,527.2L556.7,526.5L556.1,532.8L554.3,529.4L522.7,527.2L521.0,522.5L520.4,517.7L519.8,512.9L520.4,506.4L521.0,500.8L518.9,492.4L516.3,475.1Z" fill="#074b48"/>
<path d="M521.0,522.5L522.7,527.2L554.3,529.4L556.1,532.8L556.7,526.5L563.2,527.2L563.8,533.0L565.6,541.8L568.6,550.7L571.6,558.7L573.9,563.5L573.4,569.2L576.3,578.8L579.3,586.9L580.1,590.1L579.5,598.1L579.1,606.2L576.9,612.6L575.1,615.8L569.8,617.0L567.4,617.1L566.8,612.6L564.4,606.2L559.1,601.4L557.3,595.7L554.3,590.9L551.9,586.1L549.0,579.6L550.2,576.4L551.4,572.4L549.0,573.2L547.2,574.8L546.6,567.6L549.0,561.9L549.0,556.3L547.2,552.3L543.6,549.9L540.1,544.2L537.1,539.4L532.9,537.0L528.8,537.8L528.8,540.2L522.8,543.4L521.0,545.0L516.9,543.9L516.3,541.0L513.3,537.0L506.8,533.0L503.2,532.5L494.9,533.3L491.1,534.1L492.5,528.2L490.1,522.5ZM577.5,613.4L575.5,617.1L572.2,620.7L567.4,623.9L559.7,626.5L556.1,626.3L559.1,625.2L567.4,622.6L572.8,619.1L576.3,614.6Z" fill="#074b48"/>
<path d="M543.5,458.2L547.8,457.0L551.9,454.9L568.1,455.7L568.1,457.5L569.4,456.6L571.2,461.1L584.4,461.4L597.7,476.5L593.6,479.9L590.6,485.5L589.4,488.7L585.2,491.9L581.7,495.2L575.7,499.2L572.8,502.4L570.4,505.9L567.2,504.8L566.2,499.2L563.6,496.0L562.6,490.3L557.3,483.1L554.3,479.9L550.2,475.1L547.8,471.0L546.0,466.5L543.6,465.4L540.8,463.0Z" fill="#074b48"/>
<path d="M529.1,458.3L529.4,454.9L532.3,453.3L534.1,450.1L538.9,449.0L543.6,445.8L546.0,442.9L549.6,442.1L551.9,440.5L556.1,440.1L557.5,437.7L560.0,436.4L560.5,432.6L629.6,433.2L629.2,438.0L626.9,439.7L619.7,442.1L628.0,442.9L631.0,444.5L628.6,449.3L624.5,451.7L617.3,450.9L622.7,453.3L622.1,457.4L618.5,458.2L623.3,459.4L622.1,462.2L619.7,463.0L615.0,463.8L610.2,467.8L606.6,471.8L604.9,476.7L604.3,476.3L597.7,476.5L584.4,461.4L571.2,461.1L569.4,456.6L568.1,457.5L568.1,455.7L551.9,454.9L547.8,457.0L543.5,458.2ZM630.1,434.0L631.8,440.5L634.2,446.9L634.6,454.1L633.4,454.9L628.0,457.2L622.1,464.6L621.3,463.3L627.5,455.7L633.0,453.3L633.0,446.9L630.8,440.5L629.2,434.0Z" fill="#074b48"/>
<path d="M557.1,417.3L560.5,422.8L565.9,422.1L570.4,420.5L576.9,417.5L577.9,415.8L581.0,408.9L584.6,400.6L588.8,403.1L593.9,397.5L599.5,391.1L600.1,387.5L606.3,391.7L607.6,388.7L610.2,391.9L612.6,393.0L614.7,394.9L615.7,397.0L615.6,398.6L612.6,401.8L612.6,404.3L615.9,403.5L616.2,405.9L620.9,407.5L624.5,410.7L624.5,414.7L620.3,413.1L624.5,417.1L622.7,422.0L624.5,425.2L620.3,423.6L624.5,426.8L628.0,427.3L628.6,430.0L629.6,433.2L560.5,432.6L536.7,432.4L543.0,430.0L547.8,426.0L548.4,424.4L553.1,421.2ZM632.2,410.7L631.0,414.7L628.6,419.5L628.0,422.8L628.6,424.0L630.4,421.2L632.8,416.3L635.8,411.5L637.1,409.4Z" fill="#074b48"/>
<path d="M549.7,403.1L551.4,403.1L554.3,400.2L554.9,396.2L556.7,393.8L559.6,394.6L559.7,392.2L561.9,389.5L563.8,387.7L566.8,386.6L570.4,381.7L571.8,376.9L573.4,372.9L572.8,368.4L574.3,367.4L574.3,382.2L586.7,382.2L586.7,390.6L591.2,386.2L595.3,384.1L598.9,385.3L602.1,382.5L606.0,384.1L607.6,388.7L606.3,391.7L600.1,387.5L599.5,391.1L593.9,397.5L588.8,403.1L584.6,400.6L581.0,408.9L577.9,415.8L576.9,417.5L570.4,420.5L565.9,422.1L560.5,422.8L557.1,417.3L553.1,414.7L551.4,410.7L549.6,406.7Z" fill="#086562"/>
<path d="M586.7,382.2L630.5,382.2L631.7,402.5L639.3,402.6L638.7,405.1L637.1,409.4L632.2,410.7L629.6,409.9L627.8,407.5L625.7,405.4L624.5,402.2L624.1,398.9L625.7,397.3L623.9,395.7L625.1,393.0L626.6,389.3L628.6,387.0L628.0,385.0L626.9,386.6L624.5,389.0L621.5,389.8L623.1,391.4L622.5,394.6L621.9,397.8L621.9,401.0L623.5,403.8L623.3,405.9L624.1,409.1L624.5,410.7L620.9,407.5L616.2,405.9L615.9,403.5L612.6,404.3L612.6,401.8L615.6,398.6L615.7,397.0L614.7,394.9L612.6,393.0L610.2,391.9L607.6,388.7L606.0,384.1L602.1,382.5L598.9,385.3L595.3,384.1L591.2,386.2L586.7,390.6Z" fill="#074b48"/>
<path d="M630.5,382.2L631.6,380.6L633.4,380.3L634.9,380.9L633.2,384.1L633.2,386.6L635.2,390.6L636.4,394.6L638.7,397.3L639.3,402.6L631.7,402.5Z" fill="#074b48"/>
<path d="M574.3,345.9L583.3,341.2L583.3,345.5L635.7,345.5L639.1,349.2L643.5,355.8L641.1,358.4L638.5,362.1L638.7,364.0L637.6,367.3L639.3,368.9L640.5,371.3L642.9,374.8L638.7,378.2L634.9,380.9L633.4,380.3L631.6,380.6L630.5,382.2L586.7,382.2L574.3,382.2L574.3,367.4Z" fill="#074b48"/>
<path d="M643.5,355.8L653.0,361.6L651.8,365.6L650.6,367.3L648.9,369.7L651.8,370.5L651.8,374.5L650.6,381.7L647.1,387.4L643.5,392.2L640.5,394.9L641.1,391.4L638.2,390.6L634.9,387.4L634.0,384.1L634.9,380.9L638.7,378.2L642.9,374.8L640.5,371.3L639.3,368.9L637.6,367.3L638.7,364.0L638.5,362.1L641.1,358.4Z" fill="#074b48"/>
<path d="M583.3,341.2L588.2,337.5L593.6,331.9L592.4,327.8L591.8,325.1L598.3,323.5L606.6,323.8L610.2,325.4L616.2,325.1L620.9,322.2L625.7,320.6L625.7,315.8L623.9,311.4L629.2,306.9L636.4,299.7L642.9,297.3L659.7,297.1L659.6,303.7L660.1,309.3L658.6,313.4L659.6,317.4L660.7,320.6L660.6,333.5L657.9,344.7L657.5,351.2L657.2,356.8L658.0,358.2L655.0,360.0L655.9,361.6L654.2,364.0L652.7,364.8L651.6,366.4L652.4,364.0L653.0,361.6L643.5,355.8L639.1,349.2L635.7,345.5L583.3,345.5ZM651.5,367.7L654.8,368.1L660.1,367.3L666.7,365.3L672.0,363.6L677.2,360.5L673.2,361.6L670.3,362.9L672.3,359.2L667.9,361.9L661.3,362.9L656.6,363.2L654.6,364.8L652.4,365.6ZM648.9,369.3L651.0,368.1L650.6,367.3L649.4,367.6Z" fill="#086562"/>
<path d="M657.9,344.7L678.0,345.2L678.0,354.9L677.4,356.5L671.4,357.3L664.9,357.6L661.3,359.2L655.9,361.6L655.0,360.0L658.0,358.2L657.2,356.8L657.5,351.2Z" fill="#074b48"/>
<path d="M678.0,345.2L683.0,345.2L683.0,347.1L683.6,349.1L685.1,350.8L686.1,353.6L685.1,354.1L683.9,352.0L683.3,349.6L682.5,352.0L682.5,354.4L681.5,355.7L677.4,356.5L678.0,354.9Z" fill="#074b48"/>
<path d="M670.1,333.8L683.9,334.3L684.5,333.6L686.9,332.3L689.6,331.5L689.9,334.3L692.3,335.1L689.3,337.2L687.5,339.9L690.5,342.0L691.7,346.3L693.4,349.2L695.8,349.9L699.4,349.1L699.4,347.1L698.4,345.0L697.0,344.2L698.2,344.4L699.7,347.1L700.2,350.7L695.8,351.5L691.7,353.1L691.1,350.4L688.1,352.8L686.1,353.6L685.1,350.8L683.6,349.1L683.0,347.1L683.0,345.2L678.0,345.2L657.9,344.7L660.6,333.5ZM689.5,356.0L692.3,354.1L694.0,355.2L693.4,356.0L690.5,356.8ZM697.0,356.8L698.8,355.5L699.7,357.1L698.2,357.8Z" fill="#074b48"/>
<path d="M659.7,297.1L681.5,297.1L681.0,301.3L680.4,305.3L675.6,307.7L675.0,311.7L673.2,316.6L671.4,319.8L670.8,324.6L670.3,329.4L669.1,331.5L670.1,333.8L660.6,333.5L660.7,320.6L659.6,317.4L658.6,313.4L660.1,309.3L659.6,303.7Z" fill="#074b48"/>
<path d="M681.5,297.1L682.7,294.0L686.5,292.4L687.1,303.7L687.9,323.8L689.6,326.2L691.1,328.3L689.6,331.5L686.9,332.3L684.5,333.6L683.9,334.3L670.1,333.8L669.1,331.5L670.3,329.4L670.8,324.6L671.4,319.8L673.2,316.6L675.0,311.7L675.6,307.7L680.4,305.3L681.0,301.3Z" fill="#074b48"/>
<path d="M686.5,292.4L689.3,293.2L689.9,290.8L691.7,290.8L694.6,285.2L696.4,282.0L695.8,278.0L698.8,274.4L708.5,257.7L710.7,260.3L712.5,262.2L719.0,259.3L725.7,264.0L725.8,282.0L726.1,284.1L729.7,287.6L729.7,292.4L731.5,294.8L733.3,294.8L735.6,300.2L734.5,302.1L731.5,301.3L730.9,303.7L727.9,303.4L727.3,305.6L724.4,304.5L723.2,307.2L720.8,305.3L719.6,309.3L717.8,306.6L716.6,309.3L714.8,306.1L713.7,308.5L713.1,305.3L711.3,307.7L711.9,310.9L709.5,311.7L708.3,314.6L705.9,313.4L705.3,316.2L703.0,314.6L701.8,317.7L699.4,316.2L697.0,319.0L695.8,321.1L694.6,323.0L692.8,325.4L691.1,328.3L689.6,326.2L687.9,323.8L687.1,303.7Z" fill="#074b48"/>
<path d="M146.3,540.6L143.0,539.0L139.7,538.7L136.4,538.5L131.9,537.7L128.6,536.1L125.3,536.4L122.0,535.6L120.9,534.2L117.6,534.5L115.4,532.9L111.8,531.6L109.8,533.4L106.5,534.5L103.2,536.4L99.9,537.2L97.7,539.8L97.2,542.5L94.4,544.6L90.6,544.7L89.3,547.5L92.2,548.8L94.4,550.9L95.9,554.1L98.6,554.9L102.1,556.8L101.0,558.6L97.7,559.7L96.4,557.0L93.3,557.8L89.9,559.4L86.4,562.1L89.3,563.7L89.9,564.5L90.4,567.4L93.3,568.2L97.7,567.6L101.2,567.9L102.3,566.3L102.5,569.0L102.1,571.1L102.5,572.9L99.9,573.5L97.0,575.6L94.4,575.6L93.5,578.0L91.9,581.1L90.8,583.3L91.9,585.9L92.8,588.6L94.4,590.2L95.7,592.8L98.8,591.7L99.2,591.2L100.1,594.9L100.3,598.9L102.5,598.4L103.9,597.6L106.1,600.0L107.2,598.4L108.1,598.4L110.9,597.8L110.1,600.8L109.6,604.5L107.6,607.9L104.3,611.4L102.5,612.9L99.9,614.8L97.7,617.5L96.8,619.0L99.2,618.0L102.1,616.4L104.3,614.3L107.2,612.9L108.7,610.0L111.8,607.6L113.6,604.7L116.7,601.8L118.5,598.6L119.1,595.5L120.9,591.7L122.4,588.0L125.3,585.4L126.6,585.4L124.4,587.0L123.8,588.6L122.4,593.1L122.2,595.5L124.6,594.9L127.3,592.5L129.7,590.7L130.4,588.0L131.9,586.4L134.4,586.4L135.2,588.3L137.9,591.2L139.7,591.5L143.0,591.7L146.3,592.3L149.0,593.9L152.3,597.0L155.1,600.0L156.9,600.8L158.9,600.8L161.3,602.9L162.9,606.1L164.9,610.3L166.4,613.5L168.4,617.2L169.9,618.8L170.6,617.2L170.6,613.5L170.2,612.4L166.6,609.8L165.7,607.4L165.3,605.8L163.1,600.2L161.8,598.1L159.6,595.5L158.5,592.8L156.2,594.7L154.0,597.6L153.8,595.7L150.3,591.2L148.5,590.7L146.3,590.2ZM156.2,601.8L158.5,601.6L159.8,605.5L158.9,607.6L157.4,605.0ZM158.2,606.1L159.8,606.6L160.4,611.9L159.6,610.3ZM160.2,601.8L161.8,604.5L161.5,607.6L160.4,606.1ZM162.0,608.2L164.2,609.8L163.3,612.4L161.5,611.4ZM162.7,611.9L165.1,615.1L166.2,619.3L164.2,619.6L162.7,615.6ZM166.4,615.1L168.0,617.2L167.1,618.0ZM121.3,602.9L121.8,605.0L119.8,607.6L117.6,609.0L116.0,606.1L117.8,603.9L119.3,602.6ZM78.2,573.7L81.5,572.1L84.9,574.3L83.1,575.8L80.0,574.0ZM88.0,590.7L91.1,589.9L91.7,591.7L89.9,592.8L88.2,591.7ZM96.4,619.7L93.7,619.2L93.6,620.8L96.1,621.5ZM92.9,620.3L91.2,621.8L91.1,623.5L92.7,622.2ZM90.4,623.2L88.4,624.6L88.3,626.2L90.2,625.0ZM87.6,625.6L86.3,626.2L86.2,627.8L87.4,627.5ZM85.5,627.2L84.0,627.6L83.9,629.3L85.3,629.1ZM83.2,628.5L82.1,628.7L82.0,630.3L83.0,630.4ZM81.3,629.6L79.6,630.0L79.4,631.6L81.1,631.4ZM78.8,630.8L77.7,630.9L77.6,632.5L78.6,632.7ZM76.9,631.7L75.6,631.9L75.5,633.6L76.7,633.6ZM74.8,632.4L73.3,631.9L73.1,633.6L74.6,634.3ZM72.5,632.4L71.4,632.3L71.3,633.9L72.3,634.3ZM70.6,633.0L69.3,633.1L69.2,634.7L70.4,634.9ZM68.5,633.9L67.4,633.8L67.3,635.4L68.3,635.8ZM66.6,634.3L65.3,634.0L65.2,635.6L66.4,636.2ZM64.5,634.9L63.4,635.3L63.3,636.9L64.3,636.7ZM62.7,636.4L61.5,636.2L61.4,637.8L62.4,638.2Z" fill="#086562"/>
<path d="M262.1,594.4L265.7,596.7L271.4,599.0L273.6,602.4L277.2,605.9L274.3,608.8L267.1,612.3L264.5,615.1L261.3,612.3L261.3,607.0L259.0,602.7L262.3,598.3ZM249.8,584.0L251.3,582.8L253.4,584.5L256.3,584.3L259.9,586.3L260.2,587.5L257.0,589.1L253.7,589.7L252.7,586.6L250.1,585.6ZM241.2,581.7L241.9,579.9L246.2,580.5L249.8,580.8L247.4,582.5ZM248.1,585.9L247.6,584.9L246.5,584.5L245.4,584.9L244.9,585.9L245.4,586.8L246.5,587.2L247.6,586.8ZM252.4,590.3L251.8,589.6L250.7,589.6L250.1,590.3L250.7,591.0L251.8,591.0ZM227.1,574.5L230.4,572.9L231.8,572.6L234.0,576.4L236.1,578.7L234.0,579.4L229.7,578.7L228.2,576.4ZM213.1,567.2L212.6,565.7L211.2,564.7L209.2,564.3L207.3,564.7L205.8,565.7L205.3,567.2L205.8,568.7L207.3,569.7L209.2,570.1L211.2,569.7L212.6,568.7ZM201.3,570.2L201.5,568.2L200.4,567.5L199.0,568.8L198.7,570.8L199.9,571.5Z" fill="#086562"/>
</g>
<circle cx="788.9" cy="278.6" r="11.2" fill="#96301e"/>
<text x="811.0" y="284.1" font-size="18.2" fill="#58585a" textLength="55.2" lengthAdjust="spacingAndGlyphs">&gt; 200</text>
<circle cx="788.9" cy="309.2" r="11.2" fill="#d14a2a"/>
<text x="810.2" y="314.7" font-size="18.2" fill="#58585a" textLength="89.6" lengthAdjust="spacingAndGlyphs">190 - 200</text>
<circle cx="788.9" cy="340.8" r="11.2" fill="#cf5f2b"/>
<text x="810.2" y="346.3" font-size="18.2" fill="#58585a" textLength="83.9" lengthAdjust="spacingAndGlyphs">180 - 190</text>
<circle cx="788.9" cy="371.2" r="11.2" fill="#e07d08"/>
<text x="810.2" y="376.7" font-size="18.2" fill="#58585a" textLength="82.8" lengthAdjust="spacingAndGlyphs">170 - 180</text>
<circle cx="788.9" cy="403.3" r="11.2" fill="#f08c0a"/>
<text x="810.2" y="408.8" font-size="18.2" fill="#58585a" textLength="83.2" lengthAdjust="spacingAndGlyphs">160 - 170</text>
<circle cx="788.9" cy="435.1" r="11.2" fill="#fba21c"/>
<text x="810.2" y="440.6" font-size="18.2" fill="#58585a" textLength="83.6" lengthAdjust="spacingAndGlyphs">150 - 160</text>
<circle cx="788.9" cy="466.6" r="11.2" fill="#fcb344"/>
<text x="810.2" y="472.1" font-size="18.2" fill="#58585a" textLength="83.6" lengthAdjust="spacingAndGlyphs">140 - 150</text>
<circle cx="788.9" cy="498.3" r="11.2" fill="#fbbf70"/>
<text x="810.2" y="503.8" font-size="18.2" fill="#58585a" textLength="83.6" lengthAdjust="spacingAndGlyphs">130 - 140</text>
<circle cx="788.9" cy="529.8" r="11.2" fill="#fccf8c"/>
<text x="810.2" y="535.3" font-size="18.2" fill="#58585a" textLength="83.0" lengthAdjust="spacingAndGlyphs">120 - 130</text>
<circle cx="788.9" cy="561.5" r="11.2" fill="#fdd9a8"/>
<text x="810.2" y="567.0" font-size="18.2" fill="#58585a" textLength="78.1" lengthAdjust="spacingAndGlyphs">110 - 120</text>
<circle cx="788.9" cy="593.7" r="11.2" fill="#fee4c3"/>
<text x="810.2" y="599.2" font-size="18.2" fill="#58585a" textLength="80.2" lengthAdjust="spacingAndGlyphs">100 - 110</text>
<circle cx="788.9" cy="625.9" r="11.2" fill="#feeedb"/>
<text x="811.0" y="631.4" font-size="18.2" fill="#58585a" textLength="50.9" lengthAdjust="spacingAndGlyphs">&lt; 100</text>
<circle cx="1794.4" cy="275.8" r="11.2" fill="#074b48"/>
<text x="1816.7" y="282.9" font-size="18.2" fill="#58585a" textLength="58.4" lengthAdjust="spacingAndGlyphs">&gt; 0.97</text>
<circle cx="1794.4" cy="306.5" r="11.2" fill="#086562"/>
<text x="1816.7" y="313.6" font-size="18.2" fill="#58585a" textLength="102.3" lengthAdjust="spacingAndGlyphs">0.94 - 0.97</text>
<circle cx="1794.4" cy="338.2" r="11.2" fill="#0c8a8b"/>
<text x="1816.7" y="345.3" font-size="18.2" fill="#58585a" textLength="98.1" lengthAdjust="spacingAndGlyphs">0.91 - 0.94</text>
<circle cx="1794.4" cy="370.1" r="11.2" fill="#1f9a96"/>
<text x="1816.7" y="377.2" font-size="18.2" fill="#58585a" textLength="97.4" lengthAdjust="spacingAndGlyphs">0.88 - 0.91</text>
<circle cx="1794.4" cy="401.4" r="11.2" fill="#1d9c98"/>
<text x="1816.7" y="408.5" font-size="18.2" fill="#58585a" textLength="101.7" lengthAdjust="spacingAndGlyphs">0.85 - 0.88</text>
<circle cx="1794.4" cy="433.4" r="11.2" fill="#7cbdba"/>
<text x="1816.7" y="440.5" font-size="18.2" fill="#58585a" textLength="100.8" lengthAdjust="spacingAndGlyphs">0.82 - 0.85</text>
<circle cx="1794.4" cy="465.1" r="11.2" fill="#8ccbc8"/>
<text x="1816.7" y="472.2" font-size="18.2" fill="#58585a" textLength="100.8" lengthAdjust="spacingAndGlyphs">0.79 - 0.82</text>
<circle cx="1794.4" cy="496.6" r="11.2" fill="#a3dad6"/>
<text x="1816.7" y="503.7" font-size="18.2" fill="#58585a" textLength="100.8" lengthAdjust="spacingAndGlyphs">0.76 - 0.79</text>
<circle cx="1794.4" cy="528.7" r="11.2" fill="#bfecea"/>
<text x="1816.7" y="535.8" font-size="18.2" fill="#58585a" textLength="100.2" lengthAdjust="spacingAndGlyphs">0.73 - 0.76</text>
<circle cx="1794.4" cy="560.9" r="11.2" fill="#e3f0f1"/>
<text x="1816.7" y="568.0" font-size="18.2" fill="#58585a" textLength="88.0" lengthAdjust="spacingAndGlyphs">0.7 - 0.73</text>
<circle cx="1794.4" cy="593.3" r="11.2" fill="#edf5f6"/>
<text x="1816.7" y="600.4" font-size="18.2" fill="#58585a" textLength="45.5" lengthAdjust="spacingAndGlyphs">&lt; 0.7</text>
<circle cx="1794.4" cy="625.9" r="11.2" fill="#e0e0e2"/>
<text x="1816.7" y="633.0" font-size="18.2" fill="#58585a" textLength="75.6" lengthAdjust="spacingAndGlyphs">No Data</text>
<circle cx="788.4" cy="805.6" r="11.2" fill="#96301e"/>
<text x="810.7" y="812.6" font-size="18.2" fill="#58585a" textLength="55.2" lengthAdjust="spacingAndGlyphs">&gt; 200</text>
<circle cx="788.4" cy="838.6" r="11.2" fill="#d14a2a"/>
<text x="809.9" y="845.6" font-size="18.2" fill="#58585a" textLength="89.6" lengthAdjust="spacingAndGlyphs">190 - 200</text>
<circle cx="788.4" cy="871.4" r="11.2" fill="#cf5f2b"/>
<text x="809.9" y="878.4" font-size="18.2" fill="#58585a" textLength="83.9" lengthAdjust="spacingAndGlyphs">180 - 190</text>
<circle cx="788.4" cy="905.5" r="11.2" fill="#e07d08"/>
<text x="809.9" y="912.5" font-size="18.2" fill="#58585a" textLength="82.8" lengthAdjust="spacingAndGlyphs">170 - 180</text>
<circle cx="788.4" cy="936.1" r="11.2" fill="#f08c0a"/>
<text x="809.9" y="943.1" font-size="18.2" fill="#58585a" textLength="83.2" lengthAdjust="spacingAndGlyphs">160 - 170</text>
<circle cx="788.4" cy="967.6" r="11.2" fill="#fba21c"/>
<text x="809.9" y="974.6" font-size="18.2" fill="#58585a" textLength="83.6" lengthAdjust="spacingAndGlyphs">150 - 160</text>
<circle cx="788.4" cy="999.8" r="11.2" fill="#fcb344"/>
<text x="809.9" y="1006.8" font-size="18.2" fill="#58585a" textLength="83.6" lengthAdjust="spacingAndGlyphs">140 - 150</text>
<circle cx="788.4" cy="1031.5" r="11.2" fill="#fbbf70"/>
<text x="809.9" y="1038.5" font-size="18.2" fill="#58585a" textLength="83.6" lengthAdjust="spacingAndGlyphs">130 - 140</text>
<circle cx="788.4" cy="1063.0" r="11.2" fill="#fccf8c"/>
<text x="809.9" y="1070.0" font-size="18.2" fill="#58585a" textLength="83.0" lengthAdjust="spacingAndGlyphs">120 - 130</text>
<circle cx="788.4" cy="1094.8" r="11.2" fill="#fdd9a8"/>
<text x="809.9" y="1101.8" font-size="18.2" fill="#58585a" textLength="78.1" lengthAdjust="spacingAndGlyphs">110 - 120</text>
<circle cx="788.4" cy="1126.5" r="11.2" fill="#fee4c3"/>
<text x="809.9" y="1133.5" font-size="18.2" fill="#58585a" textLength="80.2" lengthAdjust="spacingAndGlyphs">100 - 110</text>
<circle cx="788.4" cy="1159.1" r="11.2" fill="#feeedb"/>
<text x="810.7" y="1166.1" font-size="18.2" fill="#58585a" textLength="50.9" lengthAdjust="spacingAndGlyphs">&lt; 100</text>
<circle cx="1793.5" cy="839.2" r="11.2" fill="#074b48"/>
<text x="1816.1" y="846.1" font-size="18.2" fill="#58585a" textLength="58.4" lengthAdjust="spacingAndGlyphs">&gt; 0.97</text>
<circle cx="1793.5" cy="872.5" r="11.2" fill="#086562"/>
<text x="1816.1" y="879.4" font-size="18.2" fill="#58585a" textLength="102.3" lengthAdjust="spacingAndGlyphs">0.94 - 0.97</text>
<circle cx="1793.5" cy="906.1" r="11.2" fill="#0c8a8b"/>
<text x="1816.1" y="913.0" font-size="18.2" fill="#58585a" textLength="98.1" lengthAdjust="spacingAndGlyphs">0.91 - 0.94</text>
<circle cx="1793.5" cy="936.8" r="11.2" fill="#1f9a96"/>
<text x="1816.1" y="943.7" font-size="18.2" fill="#58585a" textLength="97.4" lengthAdjust="spacingAndGlyphs">0.88 - 0.91</text>
<circle cx="1793.5" cy="968.3" r="11.2" fill="#1d9c98"/>
<text x="1816.1" y="975.2" font-size="18.2" fill="#58585a" textLength="101.7" lengthAdjust="spacingAndGlyphs">0.85 - 0.88</text>
<circle cx="1793.5" cy="1000.4" r="11.2" fill="#7cbdba"/>
<text x="1816.1" y="1007.3" font-size="18.2" fill="#58585a" textLength="100.8" lengthAdjust="spacingAndGlyphs">0.82 - 0.85</text>
<circle cx="1793.5" cy="1032.0" r="11.2" fill="#8ccbc8"/>
<text x="1816.1" y="1038.9" font-size="18.2" fill="#58585a" textLength="100.8" lengthAdjust="spacingAndGlyphs">0.79 - 0.82</text>
<circle cx="1793.5" cy="1063.7" r="11.2" fill="#a3dad6"/>
<text x="1816.1" y="1070.6" font-size="18.2" fill="#58585a" textLength="100.8" lengthAdjust="spacingAndGlyphs">0.76 - 0.79</text>
<circle cx="1793.5" cy="1095.2" r="11.2" fill="#bfecea"/>
<text x="1816.1" y="1102.1" font-size="18.2" fill="#58585a" textLength="100.2" lengthAdjust="spacingAndGlyphs">0.73 - 0.76</text>
<circle cx="1793.5" cy="1126.9" r="11.2" fill="#e3f0f1"/>
<text x="1816.1" y="1133.8" font-size="18.2" fill="#58585a" textLength="88.0" lengthAdjust="spacingAndGlyphs">0.7 - 0.73</text>
<circle cx="1793.5" cy="1159.1" r="11.2" fill="#edf5f6"/>
<text x="1816.1" y="1166.0" font-size="18.2" fill="#58585a" textLength="45.5" lengthAdjust="spacingAndGlyphs">&lt; 0.7</text>
<circle cx="790.4" cy="1342.2" r="11.2" fill="#96301e"/>
<text x="812.7" y="1349.1" font-size="18.2" fill="#58585a" textLength="55.2" lengthAdjust="spacingAndGlyphs">&gt; 200</text>
<circle cx="790.4" cy="1372.9" r="11.2" fill="#d14a2a"/>
<text x="811.9" y="1379.8" font-size="18.2" fill="#58585a" textLength="89.6" lengthAdjust="spacingAndGlyphs">190 - 200</text>
<circle cx="790.4" cy="1404.6" r="11.2" fill="#cf5f2b"/>
<text x="811.9" y="1411.5" font-size="18.2" fill="#58585a" textLength="83.9" lengthAdjust="spacingAndGlyphs">180 - 190</text>
<circle cx="790.4" cy="1436.5" r="11.2" fill="#e07d08"/>
<text x="811.9" y="1443.4" font-size="18.2" fill="#58585a" textLength="82.8" lengthAdjust="spacingAndGlyphs">170 - 180</text>
<circle cx="790.4" cy="1468.3" r="11.2" fill="#f08c0a"/>
<text x="811.9" y="1475.2" font-size="18.2" fill="#58585a" textLength="83.2" lengthAdjust="spacingAndGlyphs">160 - 170</text>
<circle cx="790.4" cy="1499.8" r="11.2" fill="#fba21c"/>
<text x="811.9" y="1506.7" font-size="18.2" fill="#58585a" textLength="83.6" lengthAdjust="spacingAndGlyphs">150 - 160</text>
<circle cx="790.4" cy="1531.5" r="11.2" fill="#fcb344"/>
<text x="811.9" y="1538.4" font-size="18.2" fill="#58585a" textLength="83.6" lengthAdjust="spacingAndGlyphs">140 - 150</text>
<circle cx="790.4" cy="1563.2" r="11.2" fill="#fbbf70"/>
<text x="811.9" y="1570.1" font-size="18.2" fill="#58585a" textLength="83.6" lengthAdjust="spacingAndGlyphs">130 - 140</text>
<circle cx="790.4" cy="1595.4" r="11.2" fill="#fccf8c"/>
<text x="811.9" y="1602.3" font-size="18.2" fill="#58585a" textLength="83.0" lengthAdjust="spacingAndGlyphs">120 - 130</text>
<circle cx="790.4" cy="1627.3" r="11.2" fill="#fdd9a8"/>
<text x="811.9" y="1634.2" font-size="18.2" fill="#58585a" textLength="78.1" lengthAdjust="spacingAndGlyphs">110 - 120</text>
<circle cx="790.4" cy="1660.1" r="11.2" fill="#fee4c3"/>
<text x="811.9" y="1667.0" font-size="18.2" fill="#58585a" textLength="80.2" lengthAdjust="spacingAndGlyphs">100 - 110</text>
<circle cx="790.4" cy="1692.3" r="11.2" fill="#feeedb"/>
<text x="812.7" y="1699.2" font-size="18.2" fill="#58585a" textLength="50.9" lengthAdjust="spacingAndGlyphs">&lt; 100</text>
<circle cx="1794.8" cy="1373.3" r="11.2" fill="#074b48"/>
<text x="1817.4" y="1379.8" font-size="18.2" fill="#58585a" textLength="58.4" lengthAdjust="spacingAndGlyphs">&gt; 0.97</text>
<circle cx="1794.8" cy="1404.0" r="11.2" fill="#086562"/>
<text x="1817.4" y="1410.5" font-size="18.2" fill="#58585a" textLength="102.3" lengthAdjust="spacingAndGlyphs">0.94 - 0.97</text>
<circle cx="1794.8" cy="1435.5" r="11.2" fill="#0c8a8b"/>
<text x="1817.4" y="1442.0" font-size="18.2" fill="#58585a" textLength="98.1" lengthAdjust="spacingAndGlyphs">0.91 - 0.94</text>
<circle cx="1794.8" cy="1467.2" r="11.2" fill="#1f9a96"/>
<text x="1817.4" y="1473.7" font-size="18.2" fill="#58585a" textLength="97.4" lengthAdjust="spacingAndGlyphs">0.88 - 0.91</text>
<circle cx="1794.8" cy="1498.7" r="11.2" fill="#1d9c98"/>
<text x="1817.4" y="1505.2" font-size="18.2" fill="#58585a" textLength="101.7" lengthAdjust="spacingAndGlyphs">0.85 - 0.88</text>
<circle cx="1794.8" cy="1530.9" r="11.2" fill="#7cbdba"/>
<text x="1817.4" y="1537.4" font-size="18.2" fill="#58585a" textLength="100.8" lengthAdjust="spacingAndGlyphs">0.82 - 0.85</text>
<circle cx="1794.8" cy="1562.6" r="11.2" fill="#8ccbc8"/>
<text x="1817.4" y="1569.1" font-size="18.2" fill="#58585a" textLength="100.8" lengthAdjust="spacingAndGlyphs">0.79 - 0.82</text>
<circle cx="1794.8" cy="1594.1" r="11.2" fill="#a3dad6"/>
<text x="1817.4" y="1600.6" font-size="18.2" fill="#58585a" textLength="100.8" lengthAdjust="spacingAndGlyphs">0.76 - 0.79</text>
<circle cx="1794.8" cy="1626.5" r="11.2" fill="#bfecea"/>
<text x="1817.4" y="1633.0" font-size="18.2" fill="#58585a" textLength="100.2" lengthAdjust="spacingAndGlyphs">0.73 - 0.76</text>
<circle cx="1794.8" cy="1658.4" r="11.2" fill="#e3f0f1"/>
<text x="1817.4" y="1664.9" font-size="18.2" fill="#58585a" textLength="88.0" lengthAdjust="spacingAndGlyphs">0.7 - 0.73</text>
<circle cx="1794.8" cy="1690.6" r="11.2" fill="#edf5f6"/>
<text x="1817.4" y="1697.1" font-size="18.2" fill="#58585a" textLength="45.5" lengthAdjust="spacingAndGlyphs">&lt; 0.7</text>
<text x="48.3" y="1818.4" font-size="31" fill="#555557" textLength="1427.9" lengthAdjust="spacingAndGlyphs">Note: This figure summarizes the variation across payers and states in initial claim values and share of</text>
<text x="48.3" y="1856.0" font-size="31" fill="#555557" textLength="1419.5" lengthAdjust="spacingAndGlyphs">these amounts that are ultimately collected (after accounting for denials and resubmissions). The left</text>
<text x="48.3" y="1893.6" font-size="31" fill="#555557" textLength="1507.3" lengthAdjust="spacingAndGlyphs">column illustrates the variation across states and payers in the initial claim value visits observed in the data.</text>
<text x="48.3" y="1931.2" font-size="31" fill="#555557" textLength="1474.2" lengthAdjust="spacingAndGlyphs">The right column illustrates the variation across states and payers in the share of initial claim value that is</text>
<text x="48.3" y="1968.8" font-size="31" fill="#555557" textLength="1497.3" lengthAdjust="spacingAndGlyphs">ultimately collected by the provider after accounting for denials and resubmissions. For Medicaid, the data</text>
<text x="48.3" y="2006.4" font-size="31" fill="#555557" textLength="1403.3" lengthAdjust="spacingAndGlyphs">show much lower values, and more variation across states, in both claim values and collection rates.</text>
<path d="M1710.4,1796.1L1773.4,1796.1L1760.8,1809.9L1741.1,1809.9L1741.1,1828.1L1760.8,1828.1L1760.8,1843.0L1741.1,1843.0L1741.1,1872.6L1713.6,1872.6Z" fill="#a8a8a9"/>
<path d="M1705.7,1795.8 L1709.6,1795.8 C1727.7,1800.5 1729.3,1821.0 1716.7,1828.1 C1734.1,1835.1 1735.6,1865.1 1713.6,1873.0 L1707.3,1873.0 Z" fill="#fff"/>
<path d="M1694.7,1809.6 L1700.2,1809.6 C1709.6,1810.7 1709.6,1825.7 1700.2,1826.8 L1694.7,1826.8 Z" fill="#a8a8a9"/>
<path d="M1694.7,1841.1 L1701.8,1841.1 C1713.6,1842.2 1713.6,1858.0 1701.8,1859.1 L1694.7,1859.1 Z" fill="#a8a8a9"/>
<text x="1790.5" y="1813.9" font-size="23" font-weight="bold" fill="#a8a8a9" textLength="90.8" lengthAdjust="spacingAndGlyphs">Becker</text>
<text x="1790.5" y="1843.1" font-size="23" font-weight="bold" fill="#a8a8a9" textLength="125.0" lengthAdjust="spacingAndGlyphs">Friedman</text>
<text x="1790.5" y="1872.3" font-size="23" font-weight="bold" fill="#a8a8a9" textLength="110.0" lengthAdjust="spacingAndGlyphs">Institute</text>
</svg>
</body></html>
